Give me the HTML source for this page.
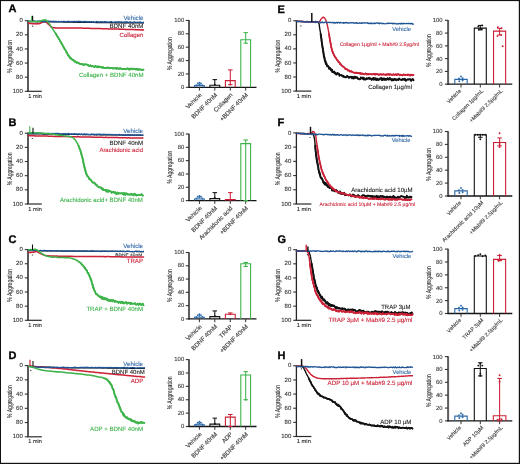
<!DOCTYPE html>
<html><head><meta charset="utf-8"><style>
html,body{margin:0;padding:0;background:#fff;width:520px;height:464px;overflow:hidden}
svg{display:block;will-change:transform}
text{font-family:"Liberation Sans",sans-serif;stroke-width:0.1px;paint-order:stroke;text-rendering:geometricPrecision}
</style></head><body>
<svg width="520" height="464" viewBox="0 0 520 464">
<rect width="520" height="464" fill="#fff"/>
<text x="8.40" y="12.40" font-size="11.0" fill="#000" stroke="#000" style="stroke-width:0.3px" font-weight="bold">A</text>
<line x1="28.00" y1="20.20" x2="28.00" y2="91.30" stroke="#5a5a5a" stroke-width="2.00"/>
<line x1="24.80" y1="20.70" x2="28.00" y2="20.70" stroke="#333" stroke-width="1.10"/>
<text x="22.80" y="22.30" font-size="6.00" fill="#333" stroke="#333" text-anchor="end" font-weight="normal" >0</text>
<line x1="24.80" y1="34.82" x2="28.00" y2="34.82" stroke="#333" stroke-width="1.10"/>
<text x="22.80" y="36.42" font-size="6.00" fill="#333" stroke="#333" text-anchor="end" font-weight="normal" >20</text>
<line x1="24.80" y1="48.94" x2="28.00" y2="48.94" stroke="#333" stroke-width="1.10"/>
<text x="22.80" y="50.54" font-size="6.00" fill="#333" stroke="#333" text-anchor="end" font-weight="normal" >40</text>
<line x1="24.80" y1="63.06" x2="28.00" y2="63.06" stroke="#333" stroke-width="1.10"/>
<text x="22.80" y="64.66" font-size="6.00" fill="#333" stroke="#333" text-anchor="end" font-weight="normal" >60</text>
<line x1="24.80" y1="77.18" x2="28.00" y2="77.18" stroke="#333" stroke-width="1.10"/>
<text x="22.80" y="78.78" font-size="6.00" fill="#333" stroke="#333" text-anchor="end" font-weight="normal" >80</text>
<line x1="24.80" y1="91.30" x2="28.00" y2="91.30" stroke="#333" stroke-width="1.10"/>
<text x="22.80" y="92.90" font-size="6.00" fill="#333" stroke="#333" text-anchor="end" font-weight="normal" >100</text>
<line x1="27.30" y1="91.30" x2="41.80" y2="91.30" stroke="#2a2a2a" stroke-width="1.20"/>
<text x="28.30" y="97.90" font-size="5.60" fill="#222" stroke="#222" text-anchor="start" font-weight="normal" textLength="13.50" lengthAdjust="spacingAndGlyphs" >1 min</text>
<text transform="translate(12.10 56.30) rotate(-90)" font-size="7.00" fill="#222" stroke="#222" text-anchor="middle" textLength="32.80" lengthAdjust="spacingAndGlyphs">% Aggregation</text>
<path d="M28.5 21.6 L29.1 21.6 L29.9 21.6 L30.7 21.6 L31.5 21.7 L32.5 21.6 L33.4 21.6 L34.5 21.7 L35.6 21.7 L36.2 21.7 L36.7 21.8 L37.3 21.7 L37.9 21.8 L38.6 21.7 L39.2 21.7 L39.8 21.7 L40.4 21.8 L41.1 21.8 L41.8 21.8 L42.4 21.8 L43.1 21.8 L43.8 21.7 L44.4 21.8 L45.1 21.8 L45.8 21.8 L46.5 21.8 L47.2 21.9 L47.9 21.8 L48.6 21.9 L49.4 21.9 L50.1 21.9 L50.8 21.9 L51.5 21.9 L52.2 21.9 L52.9 21.9 L53.7 22.0 L54.4 22.0 L55.1 21.9 L55.8 21.9 L56.5 21.9 L57.2 22.0 L57.9 22.0 L58.6 22.0 L59.3 22.0 L60.0 22.0 L61.1 22.0 L61.6 22.0 L62.2 22.0 L62.7 22.0 L63.3 22.1 L63.9 22.1 L64.4 22.1 L65.0 22.1 L65.6 22.1 L66.1 22.1 L66.7 22.1 L67.3 22.2 L67.9 22.2 L68.4 22.2 L69.0 22.1 L69.6 22.2 L70.2 22.1 L70.8 22.2 L71.4 22.2 L72.0 22.2 L72.6 22.1 L73.2 22.2 L73.8 22.3 L74.4 22.2 L75.0 22.3 L75.6 22.2 L76.2 22.2 L76.8 22.2 L77.4 22.3 L78.0 22.3 L78.6 22.2 L79.3 22.3 L79.9 22.3 L80.5 22.3 L81.1 22.3 L81.7 22.4 L82.3 22.4 L83.0 22.4 L83.6 22.4 L84.2 22.4 L84.8 22.3 L85.5 22.4 L86.1 22.4 L86.7 22.4 L87.3 22.4 L88.0 22.4 L88.6 22.4 L89.2 22.4 L89.9 22.5 L90.5 22.5 L91.1 22.5 L91.8 22.5 L92.4 22.5 L93.0 22.5 L93.7 22.5 L94.3 22.5 L94.9 22.5 L95.6 22.6 L96.2 22.6 L96.8 22.6 L97.5 22.6 L98.1 22.6 L98.7 22.6 L99.4 22.6 L100.0 22.6 L100.6 22.7 L101.2 22.6 L101.8 22.6 L102.4 22.6 L103.0 22.6 L103.6 22.7 L104.3 22.6 L104.9 22.7 L105.6 22.7 L106.2 22.6 L106.9 22.7 L107.6 22.7 L108.2 22.7 L108.9 22.7 L109.6 22.7 L110.3 22.7 L111.0 22.7 L111.6 22.7 L112.3 22.8 L113.0 22.8 L113.7 22.7 L114.4 22.7 L115.1 22.8 L115.9 22.7 L116.6 22.8 L117.3 22.8 L118.0 22.8 L118.7 22.8 L119.4 22.8 L120.1 22.8 L120.8 22.8 L121.5 22.8 L122.2 22.8 L122.9 22.9 L123.6 22.8 L124.2 22.8 L124.9 22.9 L125.6 22.8 L126.3 22.8 L127.0 22.9 L127.6 22.9 L128.3 22.8 L128.9 22.9 L129.6 22.9 L130.2 22.9 L130.9 22.9 L131.5 22.9 L132.1 22.9 L132.7 22.9 L133.3 22.9 L133.9 23.0 L134.5 22.9 L135.0 22.9 L135.6 22.9 L136.7 22.9 L137.7 22.9 L138.7 23.0 L139.7 23.0 L140.6 22.9 L141.4 23.0 L142.2 23.0 L142.9 23.0 L143.5 23.0" fill="none" stroke="#111111" stroke-width="1.20" stroke-linejoin="round" stroke-linecap="round" opacity="1"/>
<path d="M28.5 22.5 L28.7 23.0 L29.3 23.2 L30.0 23.5 L30.9 23.6 L31.5 23.6 L32.2 23.7 L32.9 23.7 L33.6 23.7 L34.3 23.8 L35.1 23.8 L35.8 23.8 L36.6 23.9 L37.2 23.8 L37.9 23.8 L38.4 23.7 L39.0 23.7 L39.6 23.5 L40.2 23.3 L40.9 23.1 L41.5 22.7 L42.2 22.3 L42.7 22.0 L43.3 21.7 L43.9 21.5 L44.5 21.4 L45.1 21.6 L45.7 21.8 L46.2 22.1 L46.7 22.5 L47.2 23.0 L47.8 23.6 L48.3 24.1 L48.9 24.6 L49.5 25.1 L50.0 25.5 L50.3 26.0 L50.7 26.4 L51.3 27.2 L51.9 27.3 L52.5 27.4 L53.2 27.6 L53.8 27.7 L54.6 27.8 L55.4 27.9 L56.3 27.9 L57.3 27.9 L58.3 27.9 L58.9 28.0 L59.4 27.9 L60.0 28.0 L60.6 27.9 L61.2 27.9 L61.8 27.9 L62.5 28.0 L63.1 27.9 L63.8 28.0 L64.4 28.0 L65.1 28.0 L65.8 28.0 L66.5 27.9 L67.2 27.9 L68.0 28.0 L68.7 27.9 L69.5 27.9 L70.2 27.9 L71.0 27.9 L71.8 27.9 L72.6 28.0 L73.4 28.0 L74.2 27.9 L75.0 28.0 L76.0 28.0 L77.0 28.0 L78.1 28.0 L79.1 28.1 L79.7 28.1 L80.2 28.1 L80.8 28.1 L81.4 28.1 L81.9 28.1 L82.5 28.2 L83.1 28.2 L83.7 28.2 L84.3 28.2 L84.9 28.2 L85.5 28.2 L86.1 28.2 L86.7 28.3 L87.3 28.3 L88.0 28.3 L88.6 28.3 L89.2 28.3 L89.8 28.3 L90.5 28.4 L91.1 28.4 L91.7 28.4 L92.4 28.5 L93.0 28.5 L93.6 28.4 L94.3 28.5 L94.9 28.5 L95.6 28.5 L96.2 28.5 L96.9 28.6 L97.5 28.6 L98.1 28.6 L98.8 28.6 L99.4 28.6 L100.1 28.6 L100.7 28.6 L101.4 28.7 L102.0 28.7 L102.6 28.7 L103.3 28.7 L103.9 28.8 L104.5 28.8 L105.1 28.7 L105.8 28.8 L106.4 28.8 L107.0 28.8 L107.6 28.8 L108.2 28.9 L108.8 28.9 L109.4 28.9 L110.0 28.9 L110.6 28.9 L111.3 28.9 L112.0 29.0 L112.6 28.9 L113.3 29.0 L114.0 29.0 L114.7 29.0 L115.4 29.0 L116.1 29.0 L116.8 29.1 L117.5 29.1 L118.2 29.1 L118.9 29.2 L119.6 29.1 L120.3 29.2 L121.1 29.2 L121.8 29.3 L122.5 29.3 L123.2 29.3 L124.0 29.3 L124.7 29.3 L125.4 29.4 L126.1 29.4 L126.8 29.4 L127.5 29.4 L128.2 29.5 L128.9 29.5 L129.6 29.4 L130.3 29.5 L131.0 29.5 L131.7 29.6 L132.3 29.5 L133.0 29.5 L133.6 29.6 L134.2 29.6 L134.9 29.7 L135.5 29.6 L136.1 29.7 L136.7 29.7 L137.2 29.7 L137.8 29.7 L138.3 29.7 L139.4 29.8 L140.4 29.9 L141.3 29.8 L142.1 29.9 L142.8 29.8 L143.5 29.9" fill="none" stroke="#cc2036" stroke-width="1.50" stroke-linejoin="round" stroke-linecap="round" opacity="1"/>
<path d="M28.5 21.4 L29.1 21.4 L29.9 21.2 L30.7 21.2 L31.5 21.4 L32.5 21.6 L33.4 20.9 L34.5 20.9 L35.6 21.5 L36.2 21.6 L36.7 21.3 L37.3 21.2 L37.9 21.5 L38.6 21.0 L39.2 21.1 L39.8 21.0 L40.4 21.4 L41.1 21.2 L41.8 21.1 L42.4 21.5 L43.1 21.7 L43.8 21.2 L44.4 21.5 L45.1 21.3 L45.8 21.7 L46.5 21.4 L47.2 21.2 L47.9 21.1 L48.6 21.0 L49.4 21.4 L50.1 21.3 L50.8 21.1 L51.5 21.3 L52.2 21.3 L52.9 21.7 L53.7 21.1 L54.4 21.9 L55.1 21.4 L55.8 21.5 L56.5 21.4 L57.2 21.8 L57.9 21.8 L58.6 21.5 L59.3 21.5 L60.0 21.7 L61.1 21.8 L61.6 21.4 L62.2 21.7 L62.7 21.9 L63.3 21.5 L63.9 21.3 L64.4 21.3 L65.0 21.7 L65.6 21.7 L66.1 22.0 L66.7 21.9 L67.3 21.3 L67.9 21.3 L68.4 21.4 L69.0 21.3 L69.6 21.8 L70.2 21.9 L70.8 22.0 L71.4 21.4 L72.0 21.9 L72.6 21.5 L73.2 21.6 L73.8 21.8 L74.4 21.3 L75.0 21.3 L75.6 22.0 L76.2 21.5 L76.8 21.5 L77.4 21.7 L78.0 21.8 L78.6 21.2 L79.3 21.5 L79.9 21.6 L80.5 21.7 L81.1 21.4 L81.7 21.8 L82.3 22.1 L83.0 21.6 L83.6 21.8 L84.2 21.4 L84.8 21.5 L85.5 21.9 L86.1 21.4 L86.7 22.1 L87.3 22.1 L88.0 21.4 L88.6 22.2 L89.2 21.7 L89.9 22.0 L90.5 22.0 L91.1 21.6 L91.8 22.0 L92.4 22.0 L93.0 22.1 L93.7 21.6 L94.3 22.1 L94.9 22.3 L95.6 22.0 L96.2 21.9 L96.8 21.5 L97.5 21.9 L98.1 21.7 L98.7 22.1 L99.4 22.1 L100.0 22.0 L100.6 21.6 L101.2 22.0 L101.8 22.0 L102.4 21.6 L103.0 22.3 L103.6 22.1 L104.3 21.6 L104.9 22.3 L105.6 21.6 L106.2 21.8 L106.9 22.2 L107.6 22.1 L108.2 22.0 L108.9 22.1 L109.6 22.0 L110.3 21.8 L111.0 21.7 L111.6 21.6 L112.3 22.2 L113.0 22.3 L113.7 22.1 L114.4 22.3 L115.1 21.9 L115.9 21.9 L116.6 22.0 L117.3 22.4 L118.0 21.7 L118.7 22.1 L119.4 21.9 L120.1 22.4 L120.8 22.0 L121.5 22.0 L122.2 22.1 L122.9 22.2 L123.6 22.4 L124.2 22.0 L124.9 22.5 L125.6 21.8 L126.3 22.0 L127.0 21.8 L127.6 21.9 L128.3 22.5 L128.9 22.4 L129.6 22.0 L130.2 22.0 L130.9 22.2 L131.5 22.5 L132.1 22.6 L132.7 22.5 L133.3 22.4 L133.9 22.0 L134.5 22.2 L135.0 22.0 L135.6 22.3 L136.7 22.4 L137.7 22.1 L138.7 22.1 L139.7 22.6 L140.6 21.9 L141.4 22.6 L142.2 22.7 L142.9 22.8 L143.5 22.3" fill="none" stroke="#1f5494" stroke-width="1.35" stroke-linejoin="round" stroke-linecap="round" opacity="1"/>
<path d="M28.5 21.0 L29.1 21.1 L29.8 21.3 L30.3 21.4 L30.9 21.4 L31.4 21.4 L32.0 21.6 L33.0 21.5 L33.7 21.6 L34.3 21.6 L34.9 21.5 L35.6 21.6 L36.3 21.6 L37.0 21.6 L37.6 21.5 L38.3 21.5 L38.8 21.4 L39.4 21.4 L40.1 21.1 L40.8 21.0 L41.4 20.8 L42.0 20.5 L42.6 20.3 L43.2 20.1 L44.2 19.9 L44.8 19.8 L45.4 20.0 L45.9 20.2 L46.4 20.3 L46.8 20.8 L47.2 21.1 L47.6 21.5 L48.2 22.4 L48.6 22.9 L48.9 23.2 L49.3 23.9 L49.7 24.4 L50.0 24.8 L50.4 25.6 L50.8 26.1 L51.2 26.8 L51.6 27.4 L52.1 28.0 L52.5 28.6 L52.9 29.4 L53.2 29.9 L53.5 30.4 L53.8 30.7 L54.2 31.3 L54.5 31.8 L54.8 32.1 L55.2 32.7 L55.5 33.2 L55.9 33.8 L56.2 34.3 L56.6 35.1 L56.9 35.7 L57.3 36.2 L57.6 36.7 L58.0 37.4 L58.3 37.7 L58.6 38.4 L59.0 39.1 L59.3 39.4 L59.6 39.8 L59.9 40.9 L60.3 41.3 L60.6 41.6 L60.9 42.2 L61.2 43.0 L61.6 43.6 L61.9 43.8 L62.2 44.2 L62.5 45.0 L62.8 46.1 L63.1 46.0 L63.4 46.9 L63.7 47.2 L64.0 47.8 L64.3 48.2 L64.6 49.1 L64.9 49.3 L65.2 49.6 L65.6 50.4 L66.0 51.1 L66.3 52.1 L66.7 52.2 L67.0 52.8 L67.4 53.9 L67.7 54.4 L68.1 55.4 L68.5 55.1 L68.8 56.1 L69.2 56.6 L69.6 56.7 L70.1 58.3 L70.5 57.9 L71.0 58.1 L71.4 59.0 L71.9 59.1 L72.4 60.0 L72.9 60.0 L73.4 60.1 L73.9 60.3 L74.4 61.5 L74.9 61.2 L75.5 62.2 L76.1 62.1 L76.7 62.9 L77.3 62.4 L77.9 62.6 L78.9 63.0 L79.8 64.0 L80.8 64.0 L81.8 64.0 L82.4 63.8 L82.9 64.6 L83.5 65.1 L84.1 64.8 L84.7 64.2 L85.4 64.3 L86.1 64.5 L86.8 64.7 L87.4 64.7 L87.9 64.8 L88.5 65.6 L89.4 66.0 L90.4 65.3 L91.4 66.4 L92.5 66.0 L93.5 66.6 L94.1 66.8 L94.7 66.9 L95.2 65.9 L95.8 66.3 L96.4 66.7 L97.0 67.2 L97.6 66.3 L98.2 66.6 L98.8 67.3 L99.5 66.5 L100.1 66.9 L100.8 67.0 L101.5 67.4 L102.1 67.8 L102.8 67.0 L103.5 67.7 L104.3 67.8 L105.0 68.0 L105.7 67.7 L106.5 68.2 L107.2 67.6 L108.0 67.8 L108.8 67.6 L109.6 68.3 L110.6 68.1 L111.7 67.9 L112.3 67.8 L112.9 68.5 L113.5 68.4 L114.1 68.5 L114.7 68.2 L115.3 68.4 L116.0 68.0 L116.6 68.7 L117.3 67.9 L118.0 68.5 L118.7 68.9 L119.3 68.8 L120.0 68.1 L120.7 68.3 L121.4 69.1 L122.2 68.9 L122.9 69.2 L123.6 69.2 L124.3 68.7 L125.0 69.3 L125.7 69.2 L126.4 68.7 L127.2 68.8 L127.9 68.4 L128.6 68.9 L129.3 69.6 L130.0 68.6 L130.7 69.2 L131.4 68.6 L132.0 68.6 L132.7 69.3 L133.4 68.9 L134.0 68.7 L134.7 68.8 L135.3 69.4 L135.9 69.4 L136.5 68.7 L137.1 69.0 L137.7 69.9 L138.2 69.0 L139.3 69.5 L140.3 69.4 L141.3 69.8 L142.1 69.7 L142.8 69.9 L143.5 69.6" fill="none" stroke="#3db34a" stroke-width="1.50" stroke-linejoin="round" stroke-linecap="round" opacity="1"/>
<path d="M55.5 33.2 L55.9 33.8 L56.2 34.3 L56.6 35.1 L56.9 35.7 L57.3 36.2 L57.6 36.7 L58.0 37.4 L58.3 37.7 L58.6 38.4 L59.0 39.1 L59.3 39.4 L59.6 39.8 L59.9 40.9 L60.3 41.3 L60.6 41.6 L60.9 42.2 L61.2 43.0 L61.6 43.6 L61.9 43.8 L62.2 44.2 L62.5 45.0 L62.8 46.1 L63.1 46.0 L63.4 46.9 L63.7 47.2 L64.0 47.8 L64.3 48.2 L64.6 49.1 L64.9 49.3 L65.2 49.6 L65.6 50.4 L66.0 51.1 L66.3 52.1 L66.7 52.2 L67.0 52.8 L67.4 53.9 L67.7 54.4 L68.1 55.4 L68.5 55.1 L68.8 56.1 L69.2 56.6 L69.6 56.7 L70.1 58.3 L70.5 57.9 L71.0 58.1 L71.4 59.0 L71.9 59.1 L72.4 60.0 L72.9 60.0 L73.4 60.1 L73.9 60.3 L74.4 61.5 L74.9 61.2 L75.5 62.2 L76.1 62.1 L76.7 62.9 L77.3 62.4 L77.9 62.6 L78.9 63.0 L79.8 64.0 L80.8 64.0 L81.8 64.0 L82.4 63.8 L82.9 64.6 L83.5 65.1 L84.1 64.8 L84.7 64.2 L85.4 64.3 L86.1 64.5 L86.8 64.7 L87.4 64.7 L87.9 64.8 L88.5 65.6 L89.4 66.0 L90.4 65.3 L91.4 66.4 L92.5 66.0 L93.5 66.6 L94.1 66.8 L94.7 66.9 L95.2 65.9 L95.8 66.3 L96.4 66.7 L97.0 67.2 L97.6 66.3 L98.2 66.6 L98.8 67.3 L99.5 66.5 L100.1 66.9 L100.8 67.0 L101.5 67.4 L102.1 67.8 L102.8 67.0 L103.5 67.7 L104.3 67.8 L105.0 68.0 L105.7 67.7 L106.5 68.2 L107.2 67.6 L108.0 67.8 L108.8 67.6 L109.6 68.3 L110.6 68.1 L111.7 67.9 L112.3 67.8 L112.9 68.5 L113.5 68.4 L114.1 68.5 L114.7 68.2 L115.3 68.4 L116.0 68.0 L116.6 68.7 L117.3 67.9 L118.0 68.5 L118.7 68.9 L119.3 68.8 L120.0 68.1 L120.7 68.3 L121.4 69.1 L122.2 68.9 L122.9 69.2 L123.6 69.2 L124.3 68.7 L125.0 69.3 L125.7 69.2 L126.4 68.7 L127.2 68.8 L127.9 68.4 L128.6 68.9 L129.3 69.6 L130.0 68.6 L130.7 69.2 L131.4 68.6 L132.0 68.6 L132.7 69.3 L133.4 68.9 L134.0 68.7 L134.7 68.8 L135.3 69.4 L135.9 69.4 L136.5 68.7 L137.1 69.0 L137.7 69.9 L138.2 69.0 L139.3 69.5 L140.3 69.4 L141.3 69.8 L142.1 69.7 L142.8 69.9 L143.5 69.6" fill="none" stroke="#3db34a" stroke-width="1.80" stroke-linejoin="round" stroke-linecap="round" opacity="1"/>
<line x1="31.70" y1="21.00" x2="31.70" y2="15.80" stroke="#3db34a" stroke-width="1.00"/>
<line x1="32.60" y1="20.70" x2="32.60" y2="15.80" stroke="#111111" stroke-width="1.20"/>
<text x="143.50" y="20.30" font-size="6.20" fill="#2f67a6" stroke="#2f67a6" text-anchor="end" font-weight="normal" >Vehicle</text>
<text x="143.50" y="27.80" font-size="6.20" fill="#222" stroke="#222" text-anchor="end" font-weight="normal" >BDNF 40nM</text>
<text x="143.50" y="36.70" font-size="6.10" fill="#cc2036" stroke="#cc2036" text-anchor="end" font-weight="normal" >Collagen</text>
<text x="143.50" y="77.10" font-size="6.10" fill="#3db34a" stroke="#3db34a" text-anchor="end" font-weight="normal" >Collagen + BDNF 40nM</text>
<line x1="189.00" y1="20.10" x2="189.00" y2="87.80" stroke="#5c5c5c" stroke-width="2.00"/>
<line x1="185.80" y1="87.30" x2="189.00" y2="87.30" stroke="#333" stroke-width="1.10"/>
<text x="184.20" y="88.90" font-size="5.90" fill="#333" stroke="#333" text-anchor="end" font-weight="normal" >0</text>
<line x1="185.80" y1="73.92" x2="189.00" y2="73.92" stroke="#333" stroke-width="1.10"/>
<text x="184.20" y="75.52" font-size="5.90" fill="#333" stroke="#333" text-anchor="end" font-weight="normal" >20</text>
<line x1="185.80" y1="60.54" x2="189.00" y2="60.54" stroke="#333" stroke-width="1.10"/>
<text x="184.20" y="62.14" font-size="5.90" fill="#333" stroke="#333" text-anchor="end" font-weight="normal" >40</text>
<line x1="185.80" y1="47.16" x2="189.00" y2="47.16" stroke="#333" stroke-width="1.10"/>
<text x="184.20" y="48.76" font-size="5.90" fill="#333" stroke="#333" text-anchor="end" font-weight="normal" >60</text>
<line x1="185.80" y1="33.78" x2="189.00" y2="33.78" stroke="#333" stroke-width="1.10"/>
<text x="184.20" y="35.38" font-size="5.90" fill="#333" stroke="#333" text-anchor="end" font-weight="normal" >80</text>
<line x1="185.80" y1="20.40" x2="189.00" y2="20.40" stroke="#333" stroke-width="1.10"/>
<text x="184.20" y="22.00" font-size="5.90" fill="#333" stroke="#333" text-anchor="end" font-weight="normal" >100</text>
<line x1="188.40" y1="87.30" x2="256.50" y2="87.30" stroke="#151515" stroke-width="1.30"/>
<line x1="199.40" y1="87.30" x2="199.40" y2="90.60" stroke="#333" stroke-width="1.00"/>
<line x1="214.80" y1="87.30" x2="214.80" y2="90.60" stroke="#333" stroke-width="1.00"/>
<line x1="230.30" y1="87.30" x2="230.30" y2="90.60" stroke="#333" stroke-width="1.00"/>
<line x1="245.70" y1="87.30" x2="245.70" y2="90.60" stroke="#333" stroke-width="1.00"/>
<text transform="translate(172.30 53.65) rotate(-90)" font-size="7.00" fill="#222" stroke="#222" text-anchor="middle" textLength="32.80" lengthAdjust="spacingAndGlyphs">% Aggregation</text>
<path d="M194.50 87.30 L194.50 85.63 L204.30 85.63 L204.30 87.30" fill="none" stroke="#2a69a8" stroke-width="1.10" stroke-linejoin="miter"/>
<circle cx="197.80" cy="83.49" r="0.95" fill="#2a69a8"/>
<circle cx="199.40" cy="82.62" r="0.95" fill="#2a69a8"/>
<circle cx="201.00" cy="83.49" r="0.95" fill="#2a69a8"/>
<circle cx="196.40" cy="85.23" r="0.95" fill="#2a69a8"/>
<circle cx="202.40" cy="85.23" r="0.95" fill="#2a69a8"/>
<circle cx="199.40" cy="84.29" r="0.95" fill="#2a69a8"/>
<path d="M209.90 87.30 L209.90 85.29 L219.70 85.29 L219.70 87.30" fill="none" stroke="#111111" stroke-width="1.10" stroke-linejoin="miter"/>
<line x1="214.80" y1="85.29" x2="214.80" y2="79.61" stroke="#111111" stroke-width="1.05"/>
<line x1="212.55" y1="79.61" x2="217.05" y2="79.61" stroke="#111111" stroke-width="1.05"/>
<circle cx="214.80" cy="84.62" r="0.95" fill="#111111"/>
<path d="M225.40 87.30 L225.40 80.61 L235.20 80.61 L235.20 87.30" fill="none" stroke="#cc2036" stroke-width="1.10" stroke-linejoin="miter"/>
<line x1="230.30" y1="80.61" x2="230.30" y2="69.91" stroke="#cc2036" stroke-width="1.05"/>
<line x1="228.05" y1="69.91" x2="232.55" y2="69.91" stroke="#cc2036" stroke-width="1.05"/>
<line x1="230.30" y1="80.61" x2="230.30" y2="84.62" stroke="#cc2036" stroke-width="1.05"/>
<line x1="228.05" y1="84.62" x2="232.55" y2="84.62" stroke="#cc2036" stroke-width="1.05"/>
<circle cx="230.30" cy="84.62" r="0.95" fill="#cc2036"/>
<path d="M240.80 87.30 L240.80 39.80 L250.60 39.80 L250.60 87.30" fill="none" stroke="#3db34a" stroke-width="1.10" stroke-linejoin="miter"/>
<line x1="245.70" y1="39.80" x2="245.70" y2="32.64" stroke="#3db34a" stroke-width="1.05"/>
<line x1="243.45" y1="32.64" x2="247.95" y2="32.64" stroke="#3db34a" stroke-width="1.05"/>
<line x1="245.70" y1="39.80" x2="245.70" y2="43.15" stroke="#3db34a" stroke-width="1.05"/>
<line x1="243.45" y1="43.15" x2="247.95" y2="43.15" stroke="#3db34a" stroke-width="1.05"/>
<text transform="translate(202.10 95.40) rotate(-45)" font-size="6.10" fill="#333" stroke="#333" text-anchor="end">Vehicle</text>
<text transform="translate(217.50 95.40) rotate(-45)" font-size="6.10" fill="#333" stroke="#333" text-anchor="end">BDNF 40nM</text>
<text transform="translate(233.00 95.40) rotate(-45)" font-size="6.10" fill="#333" stroke="#333" text-anchor="end">Collagen</text>
<text transform="translate(248.40 95.40) rotate(-45)" font-size="6.10" fill="#333" stroke="#333" text-anchor="end">+BDNF 40nM</text>
<text x="8.40" y="125.90" font-size="11.0" fill="#000" stroke="#000" style="stroke-width:0.3px" font-weight="bold">B</text>
<line x1="28.00" y1="132.70" x2="28.00" y2="204.00" stroke="#5a5a5a" stroke-width="2.00"/>
<line x1="24.80" y1="133.20" x2="28.00" y2="133.20" stroke="#333" stroke-width="1.10"/>
<text x="22.80" y="134.80" font-size="6.00" fill="#333" stroke="#333" text-anchor="end" font-weight="normal" >0</text>
<line x1="24.80" y1="147.36" x2="28.00" y2="147.36" stroke="#333" stroke-width="1.10"/>
<text x="22.80" y="148.96" font-size="6.00" fill="#333" stroke="#333" text-anchor="end" font-weight="normal" >20</text>
<line x1="24.80" y1="161.52" x2="28.00" y2="161.52" stroke="#333" stroke-width="1.10"/>
<text x="22.80" y="163.12" font-size="6.00" fill="#333" stroke="#333" text-anchor="end" font-weight="normal" >40</text>
<line x1="24.80" y1="175.68" x2="28.00" y2="175.68" stroke="#333" stroke-width="1.10"/>
<text x="22.80" y="177.28" font-size="6.00" fill="#333" stroke="#333" text-anchor="end" font-weight="normal" >60</text>
<line x1="24.80" y1="189.84" x2="28.00" y2="189.84" stroke="#333" stroke-width="1.10"/>
<text x="22.80" y="191.44" font-size="6.00" fill="#333" stroke="#333" text-anchor="end" font-weight="normal" >80</text>
<line x1="24.80" y1="204.00" x2="28.00" y2="204.00" stroke="#333" stroke-width="1.10"/>
<text x="22.80" y="205.60" font-size="6.00" fill="#333" stroke="#333" text-anchor="end" font-weight="normal" >100</text>
<line x1="27.30" y1="204.00" x2="41.80" y2="204.00" stroke="#2a2a2a" stroke-width="1.20"/>
<text x="28.30" y="210.60" font-size="5.60" fill="#222" stroke="#222" text-anchor="start" font-weight="normal" textLength="13.50" lengthAdjust="spacingAndGlyphs" >1 min</text>
<text transform="translate(12.10 168.90) rotate(-90)" font-size="7.00" fill="#222" stroke="#222" text-anchor="middle" textLength="32.80" lengthAdjust="spacingAndGlyphs">% Aggregation</text>
<path d="M28.5 133.8 L29.1 133.8 L29.9 133.8 L30.7 133.9 L31.5 133.8 L32.5 133.8 L33.4 133.9 L34.5 133.9 L35.0 134.0 L35.6 133.9 L36.2 133.9 L36.7 133.9 L37.3 134.0 L37.9 134.0 L38.6 134.0 L39.2 134.0 L39.8 134.0 L40.4 134.0 L41.1 134.0 L41.8 134.0 L42.4 134.0 L43.1 134.1 L43.8 134.1 L44.4 134.1 L45.1 134.0 L45.8 134.1 L46.5 134.1 L47.2 134.1 L47.9 134.1 L48.6 134.1 L49.4 134.1 L50.1 134.1 L50.8 134.2 L51.5 134.2 L52.2 134.2 L52.9 134.2 L53.7 134.2 L54.4 134.2 L55.1 134.2 L55.8 134.3 L56.5 134.2 L57.2 134.3 L57.9 134.2 L58.6 134.2 L59.3 134.3 L60.0 134.4 L61.1 134.3 L61.6 134.4 L62.2 134.4 L62.7 134.4 L63.3 134.4 L63.9 134.4 L64.4 134.4 L65.0 134.4 L65.6 134.4 L66.1 134.4 L66.7 134.4 L67.3 134.4 L67.9 134.4 L68.5 134.5 L69.0 134.5 L69.6 134.4 L70.2 134.5 L70.8 134.4 L71.4 134.4 L72.0 134.5 L72.6 134.4 L73.2 134.5 L73.8 134.5 L74.4 134.4 L75.0 134.5 L75.6 134.5 L76.2 134.5 L76.8 134.5 L77.4 134.6 L78.1 134.6 L78.7 134.5 L79.3 134.5 L79.9 134.5 L80.5 134.6 L81.1 134.5 L81.8 134.5 L82.4 134.6 L83.0 134.6 L83.6 134.7 L84.3 134.7 L84.9 134.7 L85.5 134.6 L86.1 134.6 L86.8 134.6 L87.4 134.6 L88.0 134.7 L88.7 134.7 L89.3 134.7 L89.9 134.7 L90.5 134.7 L91.2 134.7 L91.8 134.7 L92.4 134.7 L93.1 134.7 L93.7 134.7 L94.3 134.8 L95.0 134.7 L95.6 134.7 L96.2 134.8 L96.9 134.8 L97.5 134.7 L98.1 134.7 L98.7 134.7 L99.4 134.8 L100.0 134.8 L100.6 134.9 L101.2 134.8 L101.8 134.9 L102.4 134.8 L103.1 134.8 L103.7 134.8 L104.4 134.8 L105.0 134.8 L105.7 134.8 L106.4 134.9 L107.0 134.8 L107.7 134.9 L108.4 134.9 L109.1 134.9 L109.8 134.9 L110.5 134.9 L111.2 134.9 L111.9 134.9 L112.6 135.0 L113.3 135.0 L114.0 135.0 L114.7 135.0 L115.4 135.0 L116.2 134.9 L116.9 135.0 L117.6 135.0 L118.3 135.0 L119.0 135.1 L119.7 135.0 L120.4 135.0 L121.1 135.0 L121.8 135.0 L122.6 135.1 L123.3 135.1 L123.9 135.1 L124.6 135.1 L125.3 135.1 L126.0 135.2 L126.7 135.2 L127.4 135.1 L128.0 135.1 L128.7 135.1 L129.3 135.1 L130.0 135.1 L130.6 135.2 L131.3 135.2 L131.9 135.2 L132.5 135.2 L133.1 135.2 L133.7 135.2 L134.3 135.2 L134.8 135.2 L135.4 135.3 L136.0 135.2 L137.0 135.2 L138.0 135.2 L139.0 135.2 L139.9 135.3 L140.8 135.3 L141.5 135.3 L142.3 135.3 L142.9 135.2" fill="none" stroke="#111111" stroke-width="1.20" stroke-linejoin="round" stroke-linecap="round" opacity="1"/>
<path d="M28.5 135.6 L29.1 135.6 L29.7 135.7 L30.4 135.7 L31.3 135.7 L32.3 135.8 L33.0 135.7 L33.6 135.8 L34.2 135.8 L34.7 135.9 L35.3 135.9 L36.0 135.9 L36.7 135.9 L37.4 135.9 L38.1 136.0 L38.7 135.9 L39.4 136.0 L40.0 136.0 L40.8 136.0 L41.6 136.0 L42.5 136.1 L43.4 136.1 L44.3 136.1 L45.2 136.1 L46.2 136.1 L47.2 136.1 L48.2 136.2 L49.3 136.3 L50.4 136.2 L50.9 136.2 L51.5 136.2 L52.1 136.2 L52.6 136.3 L53.2 136.3 L53.8 136.4 L54.4 136.4 L55.0 136.4 L55.6 136.3 L56.2 136.4 L56.8 136.5 L57.4 136.4 L58.0 136.4 L58.7 136.4 L59.3 136.4 L59.9 136.5 L60.6 136.4 L61.2 136.5 L61.9 136.6 L62.6 136.5 L63.2 136.6 L63.9 136.5 L64.6 136.6 L65.3 136.6 L66.0 136.6 L66.7 136.6 L67.4 136.6 L68.1 136.7 L68.8 136.6 L69.5 136.6 L70.2 136.7 L70.9 136.8 L71.7 136.7 L72.4 136.8 L73.2 136.8 L73.9 136.8 L74.6 136.7 L75.4 136.8 L76.2 136.9 L76.9 136.8 L77.7 136.8 L78.4 136.8 L79.2 136.8 L80.0 136.9 L81.0 137.0 L82.1 136.9 L83.1 136.9 L83.7 137.0 L84.3 137.0 L84.8 137.1 L85.4 137.0 L86.0 137.0 L86.6 137.1 L87.2 137.0 L87.8 137.1 L88.4 137.0 L89.0 137.0 L89.7 137.1 L90.3 137.1 L91.0 137.2 L91.6 137.1 L92.3 137.1 L92.9 137.2 L93.6 137.2 L94.2 137.2 L94.9 137.2 L95.6 137.2 L96.3 137.2 L97.0 137.3 L97.6 137.3 L98.3 137.2 L99.0 137.3 L99.7 137.3 L100.4 137.3 L101.1 137.3 L101.8 137.3 L102.5 137.3 L103.3 137.4 L104.0 137.4 L104.7 137.4 L105.4 137.3 L106.1 137.3 L106.8 137.5 L107.5 137.5 L108.2 137.5 L109.0 137.5 L109.7 137.5 L110.4 137.5 L111.1 137.5 L111.8 137.5 L112.5 137.5 L113.2 137.5 L114.0 137.6 L114.7 137.5 L115.4 137.6 L116.1 137.6 L116.8 137.6 L117.5 137.6 L118.2 137.6 L118.8 137.7 L119.5 137.7 L120.2 137.7 L120.9 137.7 L121.6 137.7 L122.2 137.8 L122.9 137.7 L123.6 137.7 L124.2 137.7 L124.9 137.8 L125.5 137.8 L126.2 137.8 L126.8 137.8 L127.4 137.9 L128.1 137.8 L128.7 137.8 L129.3 137.8 L129.9 137.9 L130.5 137.9 L131.1 137.9 L131.6 137.9 L132.2 137.9 L132.8 137.9 L133.3 137.9 L134.4 138.0 L135.5 138.0 L136.5 137.9 L137.4 138.0 L138.3 138.0 L139.2 138.1 L140.1 138.0 L140.8 138.0 L141.6 138.1 L142.3 138.1 L142.9 138.1" fill="none" stroke="#cc2036" stroke-width="1.50" stroke-linejoin="round" stroke-linecap="round" opacity="1"/>
<path d="M28.5 133.6 L29.1 133.5 L29.9 133.2 L30.7 133.2 L31.5 133.4 L32.5 133.3 L33.4 133.3 L34.5 133.5 L35.6 133.7 L36.2 133.5 L36.7 133.1 L37.3 133.2 L37.9 133.3 L38.6 133.6 L39.2 133.1 L39.8 133.1 L40.4 133.3 L41.1 133.3 L41.8 133.1 L42.4 133.6 L43.1 133.9 L43.8 133.6 L44.4 133.8 L45.1 133.9 L45.8 133.9 L46.5 134.0 L47.2 133.5 L47.9 133.8 L48.6 133.3 L49.4 134.0 L50.1 133.5 L50.8 133.6 L51.5 134.0 L52.2 133.5 L52.9 133.4 L53.7 134.0 L54.4 133.8 L55.1 133.3 L55.8 133.3 L56.5 133.6 L57.2 133.3 L57.9 134.1 L58.6 133.5 L59.3 133.6 L60.0 133.7 L61.1 133.8 L61.6 133.8 L62.2 134.0 L62.7 134.0 L63.3 133.8 L63.9 133.5 L64.4 134.3 L65.0 134.1 L65.6 133.5 L66.1 133.9 L66.7 134.1 L67.3 134.4 L67.9 133.5 L68.5 133.5 L69.0 133.9 L69.6 133.9 L70.2 134.3 L70.8 134.3 L71.4 133.8 L72.0 133.9 L72.6 134.1 L73.2 134.4 L73.8 133.8 L74.4 134.0 L75.0 133.7 L75.6 134.2 L76.2 133.7 L76.8 134.5 L77.4 134.1 L78.1 134.2 L78.7 133.8 L79.3 133.9 L79.9 134.1 L80.5 134.5 L81.1 134.2 L81.8 134.0 L82.4 134.6 L83.0 134.3 L83.6 134.2 L84.3 134.0 L84.9 134.1 L85.5 134.6 L86.1 133.9 L86.8 134.3 L87.4 134.4 L88.0 134.2 L88.7 134.5 L89.3 134.7 L89.9 134.6 L90.5 134.6 L91.2 134.1 L91.8 134.0 L92.4 134.3 L93.1 134.2 L93.7 134.1 L94.3 134.7 L95.0 134.2 L95.6 134.7 L96.2 134.8 L96.9 134.1 L97.5 134.8 L98.1 134.4 L98.7 134.2 L99.4 134.2 L100.0 134.1 L100.6 134.5 L101.2 134.4 L101.8 134.8 L102.4 134.8 L103.1 134.2 L103.7 134.5 L104.4 134.5 L105.0 134.3 L105.7 134.4 L106.4 134.4 L107.0 134.8 L107.7 134.5 L108.4 134.3 L109.1 134.4 L109.8 134.6 L110.5 134.7 L111.2 134.5 L111.9 134.9 L112.6 134.5 L113.3 134.9 L114.0 134.8 L114.7 134.5 L115.4 135.0 L116.2 134.7 L116.9 134.8 L117.6 134.9 L118.3 134.9 L119.0 134.8 L119.7 134.4 L120.4 135.1 L121.1 135.2 L121.8 134.9 L122.6 134.9 L123.3 134.7 L123.9 135.3 L124.6 135.1 L125.3 134.7 L126.0 135.2 L126.7 135.4 L127.4 134.8 L128.0 135.4 L128.7 135.0 L129.3 134.7 L130.0 135.2 L130.6 134.9 L131.3 135.2 L131.9 135.1 L132.5 134.7 L133.1 135.1 L133.7 135.4 L134.3 135.0 L134.8 135.1 L135.4 135.4 L136.0 135.0 L137.0 135.1 L138.0 135.2 L139.0 135.4 L139.9 134.9 L140.8 134.8 L141.5 135.4 L142.3 135.2 L142.9 135.0" fill="none" stroke="#1f5494" stroke-width="1.35" stroke-linejoin="round" stroke-linecap="round" opacity="1"/>
<path d="M28.5 132.7 L29.4 132.7 L30.1 132.6 L30.8 132.8 L31.3 132.8 L31.9 132.7 L32.4 132.6 L33.0 132.5 L33.9 132.8 L34.9 132.9 L36.0 132.8 L36.5 132.8 L37.1 132.9 L37.7 132.8 L38.3 133.0 L39.0 133.0 L39.6 133.0 L40.3 132.9 L40.9 133.1 L41.6 133.1 L42.3 133.3 L43.0 133.1 L43.6 133.2 L44.3 133.2 L45.0 133.4 L45.6 133.5 L46.2 133.4 L46.8 133.4 L47.4 133.6 L48.0 133.6 L48.6 133.8 L49.3 133.7 L49.9 133.8 L50.6 134.0 L51.3 134.2 L51.9 134.3 L52.6 134.2 L53.2 134.3 L53.9 134.3 L54.6 134.4 L55.2 134.5 L55.9 134.8 L56.5 134.6 L57.1 135.0 L57.7 134.9 L58.3 135.0 L58.9 135.0 L59.4 135.3 L60.0 135.1 L60.8 135.3 L61.6 135.4 L62.3 135.4 L63.1 135.5 L63.8 135.8 L64.6 135.9 L65.3 135.9 L66.0 136.1 L66.6 135.9 L67.3 136.2 L67.9 136.3 L68.5 136.2 L69.0 136.4 L69.6 136.7 L70.6 136.7 L71.1 137.1 L71.6 137.1 L72.2 137.4 L72.7 137.6 L73.3 138.0 L73.7 138.3 L74.2 138.9 L74.6 139.4 L75.1 139.8 L75.4 140.3 L75.8 140.7 L76.1 141.3 L76.4 141.6 L76.8 142.3 L77.1 142.9 L77.4 143.4 L77.7 143.7 L78.0 144.4 L78.3 145.4 L78.6 145.7 L78.9 146.8 L79.1 147.2 L79.4 148.2 L79.6 148.7 L79.8 149.2 L80.1 149.5 L80.3 149.8 L80.5 151.0 L80.7 151.9 L80.9 152.8 L81.1 152.6 L81.3 153.2 L81.5 154.9 L81.7 155.3 L81.9 155.7 L82.0 156.6 L82.2 156.3 L82.3 157.5 L82.5 158.3 L82.6 158.8 L82.7 158.7 L82.8 159.2 L83.0 160.7 L83.1 161.8 L83.2 161.1 L83.3 161.4 L83.5 162.2 L83.6 164.0 L83.7 163.9 L83.8 164.6 L84.0 166.1 L84.2 166.5 L84.4 166.6 L84.6 168.1 L84.7 167.5 L84.9 168.7 L85.0 170.1 L85.2 169.7 L85.4 170.1 L85.6 171.6 L85.7 171.8 L85.9 173.5 L86.2 172.5 L86.4 174.3 L86.7 174.3 L87.0 175.7 L87.4 175.6 L87.7 176.6 L88.1 176.6 L88.4 177.0 L88.9 178.0 L89.3 179.2 L89.7 179.0 L90.2 179.3 L90.6 180.1 L91.1 180.0 L91.5 180.9 L92.0 181.8 L92.5 182.2 L93.0 182.7 L93.5 182.6 L94.1 182.6 L94.6 183.0 L95.2 184.0 L95.7 184.1 L96.3 185.2 L96.8 185.0 L97.3 186.3 L97.8 186.4 L98.4 186.8 L98.9 187.3 L99.5 187.3 L100.0 187.5 L100.6 187.6 L101.2 187.5 L101.7 189.1 L102.2 188.9 L102.8 188.5 L103.3 190.2 L103.8 189.8 L104.5 190.2 L105.1 190.1 L105.7 189.7 L106.3 191.5 L106.9 190.1 L107.5 190.6 L108.1 191.9 L108.7 190.4 L109.4 191.2 L110.0 191.4 L110.9 191.3 L111.7 192.8 L112.4 192.2 L113.5 191.8 L114.2 192.8 L115.0 192.1 L115.6 193.4 L116.2 193.8 L116.7 194.0 L117.3 192.5 L118.2 193.7 L119.1 193.1 L120.2 193.5 L120.8 193.3 L121.4 193.3 L122.0 193.1 L122.7 194.0 L123.4 193.1 L124.0 194.7 L124.7 193.1 L125.4 194.8 L126.1 193.5 L126.9 193.4 L127.6 194.6 L128.3 194.3 L129.1 194.7 L129.8 194.3 L130.6 194.6 L131.3 193.7 L132.0 194.8 L132.8 194.5 L133.5 195.4 L134.2 193.7 L134.9 193.9 L135.6 195.0 L136.3 195.5 L136.9 194.7 L137.5 195.2 L138.2 195.0 L138.8 194.7 L139.4 194.9 L140.4 195.2 L141.4 194.2 L142.2 194.8 L142.9 195.6" fill="none" stroke="#3db34a" stroke-width="1.50" stroke-linejoin="round" stroke-linecap="round" opacity="1"/>
<path d="M78.3 145.4 L78.6 145.7 L78.9 146.8 L79.1 147.2 L79.4 148.2 L79.6 148.7 L79.8 149.2 L80.1 149.5 L80.3 149.8 L80.5 151.0 L80.7 151.9 L80.9 152.8 L81.1 152.6 L81.3 153.2 L81.5 154.9 L81.7 155.3 L81.9 155.7 L82.0 156.6 L82.2 156.3 L82.3 157.5 L82.5 158.3 L82.6 158.8 L82.7 158.7 L82.8 159.2 L83.0 160.7 L83.1 161.8 L83.2 161.1 L83.3 161.4 L83.5 162.2 L83.6 164.0 L83.7 163.9 L83.8 164.6 L84.0 166.1 L84.2 166.5 L84.4 166.6 L84.6 168.1 L84.7 167.5 L84.9 168.7 L85.0 170.1 L85.2 169.7 L85.4 170.1 L85.6 171.6 L85.7 171.8 L85.9 173.5 L86.2 172.5 L86.4 174.3 L86.7 174.3 L87.0 175.7 L87.4 175.6 L87.7 176.6 L88.1 176.6 L88.4 177.0 L88.9 178.0 L89.3 179.2 L89.7 179.0 L90.2 179.3 L90.6 180.1 L91.1 180.0 L91.5 180.9 L92.0 181.8 L92.5 182.2 L93.0 182.7 L93.5 182.6 L94.1 182.6 L94.6 183.0 L95.2 184.0 L95.7 184.1 L96.3 185.2 L96.8 185.0 L97.3 186.3 L97.8 186.4 L98.4 186.8 L98.9 187.3 L99.5 187.3 L100.0 187.5 L100.6 187.6 L101.2 187.5 L101.7 189.1 L102.2 188.9 L102.8 188.5 L103.3 190.2 L103.8 189.8 L104.5 190.2 L105.1 190.1 L105.7 189.7 L106.3 191.5 L106.9 190.1 L107.5 190.6 L108.1 191.9 L108.7 190.4 L109.4 191.2 L110.0 191.4 L110.9 191.3 L111.7 192.8 L112.4 192.2 L113.5 191.8 L114.2 192.8 L115.0 192.1 L115.6 193.4 L116.2 193.8 L116.7 194.0 L117.3 192.5 L118.2 193.7 L119.1 193.1 L120.2 193.5 L120.8 193.3 L121.4 193.3 L122.0 193.1 L122.7 194.0 L123.4 193.1 L124.0 194.7 L124.7 193.1 L125.4 194.8 L126.1 193.5 L126.9 193.4 L127.6 194.6 L128.3 194.3 L129.1 194.7 L129.8 194.3 L130.6 194.6 L131.3 193.7 L132.0 194.8 L132.8 194.5 L133.5 195.4 L134.2 193.7 L134.9 193.9 L135.6 195.0 L136.3 195.5 L136.9 194.7 L137.5 195.2 L138.2 195.0 L138.8 194.7 L139.4 194.9 L140.4 195.2 L141.4 194.2 L142.2 194.8 L142.9 195.6" fill="none" stroke="#3db34a" stroke-width="1.80" stroke-linejoin="round" stroke-linecap="round" opacity="1"/>
<line x1="29.80" y1="133.20" x2="29.80" y2="126.20" stroke="#3db34a" stroke-width="1.10"/>
<line x1="33.00" y1="133.50" x2="33.00" y2="127.80" stroke="#111111" stroke-width="1.10"/>
<text x="143.00" y="132.80" font-size="6.10" fill="#2f67a6" stroke="#2f67a6" text-anchor="end" font-weight="normal" >Vehicle</text>
<text x="143.00" y="145.00" font-size="6.10" fill="#222" stroke="#222" text-anchor="end" font-weight="normal" >BDNF 40nM</text>
<text x="143.00" y="151.60" font-size="5.95" fill="#cc2036" stroke="#cc2036" text-anchor="end" font-weight="normal" >Arachidonic acid</text>
<text x="142.90" y="201.60" font-size="6.06" fill="#3db34a" stroke="#3db34a" text-anchor="end" font-weight="normal" >Arachidonic acid+ BDNF 40nM</text>
<line x1="189.00" y1="133.70" x2="189.00" y2="201.10" stroke="#5c5c5c" stroke-width="2.00"/>
<line x1="185.80" y1="200.60" x2="189.00" y2="200.60" stroke="#333" stroke-width="1.10"/>
<text x="184.20" y="202.20" font-size="5.90" fill="#333" stroke="#333" text-anchor="end" font-weight="normal" >0</text>
<line x1="185.80" y1="187.28" x2="189.00" y2="187.28" stroke="#333" stroke-width="1.10"/>
<text x="184.20" y="188.88" font-size="5.90" fill="#333" stroke="#333" text-anchor="end" font-weight="normal" >20</text>
<line x1="185.80" y1="173.96" x2="189.00" y2="173.96" stroke="#333" stroke-width="1.10"/>
<text x="184.20" y="175.56" font-size="5.90" fill="#333" stroke="#333" text-anchor="end" font-weight="normal" >40</text>
<line x1="185.80" y1="160.64" x2="189.00" y2="160.64" stroke="#333" stroke-width="1.10"/>
<text x="184.20" y="162.24" font-size="5.90" fill="#333" stroke="#333" text-anchor="end" font-weight="normal" >60</text>
<line x1="185.80" y1="147.32" x2="189.00" y2="147.32" stroke="#333" stroke-width="1.10"/>
<text x="184.20" y="148.92" font-size="5.90" fill="#333" stroke="#333" text-anchor="end" font-weight="normal" >80</text>
<line x1="185.80" y1="134.00" x2="189.00" y2="134.00" stroke="#333" stroke-width="1.10"/>
<text x="184.20" y="135.60" font-size="5.90" fill="#333" stroke="#333" text-anchor="end" font-weight="normal" >100</text>
<line x1="188.40" y1="200.60" x2="256.50" y2="200.60" stroke="#151515" stroke-width="1.30"/>
<line x1="199.40" y1="200.60" x2="199.40" y2="203.90" stroke="#333" stroke-width="1.00"/>
<line x1="214.80" y1="200.60" x2="214.80" y2="203.90" stroke="#333" stroke-width="1.00"/>
<line x1="230.30" y1="200.60" x2="230.30" y2="203.90" stroke="#333" stroke-width="1.00"/>
<line x1="245.70" y1="200.60" x2="245.70" y2="203.90" stroke="#333" stroke-width="1.00"/>
<text transform="translate(172.30 167.10) rotate(-90)" font-size="7.00" fill="#222" stroke="#222" text-anchor="middle" textLength="32.80" lengthAdjust="spacingAndGlyphs">% Aggregation</text>
<path d="M194.50 200.60 L194.50 198.94 L204.30 198.94 L204.30 200.60" fill="none" stroke="#2a69a8" stroke-width="1.10" stroke-linejoin="miter"/>
<circle cx="197.80" cy="196.80" r="0.95" fill="#2a69a8"/>
<circle cx="199.40" cy="195.94" r="0.95" fill="#2a69a8"/>
<circle cx="201.00" cy="196.80" r="0.95" fill="#2a69a8"/>
<circle cx="196.40" cy="198.54" r="0.95" fill="#2a69a8"/>
<circle cx="202.40" cy="198.54" r="0.95" fill="#2a69a8"/>
<circle cx="199.40" cy="197.60" r="0.95" fill="#2a69a8"/>
<path d="M209.90 200.60 L209.90 198.60 L219.70 198.60 L219.70 200.60" fill="none" stroke="#111111" stroke-width="1.10" stroke-linejoin="miter"/>
<line x1="214.80" y1="198.60" x2="214.80" y2="192.61" stroke="#111111" stroke-width="1.05"/>
<line x1="212.55" y1="192.61" x2="217.05" y2="192.61" stroke="#111111" stroke-width="1.05"/>
<circle cx="214.80" cy="197.94" r="0.95" fill="#111111"/>
<path d="M225.40 200.60 L225.40 199.60 L235.20 199.60 L235.20 200.60" fill="none" stroke="#cc2036" stroke-width="1.10" stroke-linejoin="miter"/>
<line x1="230.30" y1="199.60" x2="230.30" y2="192.61" stroke="#cc2036" stroke-width="1.05"/>
<line x1="228.05" y1="192.61" x2="232.55" y2="192.61" stroke="#cc2036" stroke-width="1.05"/>
<circle cx="230.30" cy="199.93" r="0.95" fill="#cc2036"/>
<path d="M240.80 200.60 L240.80 143.66 L250.60 143.66 L250.60 200.60" fill="none" stroke="#3db34a" stroke-width="1.10" stroke-linejoin="miter"/>
<line x1="245.70" y1="143.66" x2="245.70" y2="139.99" stroke="#3db34a" stroke-width="1.05"/>
<line x1="243.45" y1="139.99" x2="247.95" y2="139.99" stroke="#3db34a" stroke-width="1.05"/>
<line x1="245.70" y1="143.66" x2="245.70" y2="200.60" stroke="#3db34a" stroke-width="1.05"/>
<line x1="243.45" y1="200.60" x2="247.95" y2="200.60" stroke="#3db34a" stroke-width="1.05"/>
<circle cx="245.70" cy="200.60" r="0.95" fill="#3db34a"/>
<text transform="translate(202.10 208.70) rotate(-45)" font-size="6.10" fill="#333" stroke="#333" text-anchor="end">Vehicle</text>
<text transform="translate(217.50 208.70) rotate(-45)" font-size="6.10" fill="#333" stroke="#333" text-anchor="end">BDNF 40nM</text>
<text transform="translate(233.00 208.70) rotate(-45)" font-size="6.10" fill="#333" stroke="#333" text-anchor="end">Arachidonic acid</text>
<text transform="translate(248.40 208.70) rotate(-45)" font-size="6.10" fill="#333" stroke="#333" text-anchor="end">+BDNF 40nM</text>
<text x="8.40" y="242.60" font-size="11.0" fill="#000" stroke="#000" style="stroke-width:0.3px" font-weight="bold">C</text>
<line x1="28.00" y1="249.10" x2="28.00" y2="320.30" stroke="#5a5a5a" stroke-width="2.00"/>
<line x1="24.80" y1="249.60" x2="28.00" y2="249.60" stroke="#333" stroke-width="1.10"/>
<text x="22.80" y="251.20" font-size="6.00" fill="#333" stroke="#333" text-anchor="end" font-weight="normal" >0</text>
<line x1="24.80" y1="263.74" x2="28.00" y2="263.74" stroke="#333" stroke-width="1.10"/>
<text x="22.80" y="265.34" font-size="6.00" fill="#333" stroke="#333" text-anchor="end" font-weight="normal" >20</text>
<line x1="24.80" y1="277.88" x2="28.00" y2="277.88" stroke="#333" stroke-width="1.10"/>
<text x="22.80" y="279.48" font-size="6.00" fill="#333" stroke="#333" text-anchor="end" font-weight="normal" >40</text>
<line x1="24.80" y1="292.02" x2="28.00" y2="292.02" stroke="#333" stroke-width="1.10"/>
<text x="22.80" y="293.62" font-size="6.00" fill="#333" stroke="#333" text-anchor="end" font-weight="normal" >60</text>
<line x1="24.80" y1="306.16" x2="28.00" y2="306.16" stroke="#333" stroke-width="1.10"/>
<text x="22.80" y="307.76" font-size="6.00" fill="#333" stroke="#333" text-anchor="end" font-weight="normal" >80</text>
<line x1="24.80" y1="320.30" x2="28.00" y2="320.30" stroke="#333" stroke-width="1.10"/>
<text x="22.80" y="321.90" font-size="6.00" fill="#333" stroke="#333" text-anchor="end" font-weight="normal" >100</text>
<line x1="27.30" y1="320.30" x2="41.80" y2="320.30" stroke="#2a2a2a" stroke-width="1.20"/>
<text x="28.30" y="326.90" font-size="5.60" fill="#222" stroke="#222" text-anchor="start" font-weight="normal" textLength="13.50" lengthAdjust="spacingAndGlyphs" >1 min</text>
<text transform="translate(12.10 285.25) rotate(-90)" font-size="7.00" fill="#222" stroke="#222" text-anchor="middle" textLength="32.80" lengthAdjust="spacingAndGlyphs">% Aggregation</text>
<path d="M28.5 250.6 L29.1 250.6 L29.9 250.6 L30.7 250.6 L31.5 250.7 L32.5 250.7 L33.4 250.7 L34.5 250.7 L35.6 250.7 L36.2 250.7 L36.7 250.7 L37.3 250.7 L37.9 250.7 L38.6 250.8 L39.2 250.7 L39.8 250.7 L40.4 250.7 L41.1 250.7 L41.8 250.8 L42.4 250.8 L43.1 250.8 L43.8 250.8 L44.4 250.8 L45.1 250.8 L45.8 250.8 L46.5 250.9 L47.2 250.9 L47.9 250.8 L48.6 250.9 L49.4 250.9 L50.1 250.9 L50.8 250.9 L51.5 250.9 L52.2 250.9 L52.9 250.9 L53.7 251.0 L54.4 250.9 L55.1 251.0 L55.8 251.0 L56.5 250.9 L57.2 251.0 L57.9 251.0 L58.6 251.0 L59.3 251.0 L60.0 251.0 L61.1 251.0 L61.6 251.1 L62.2 251.0 L62.7 251.1 L63.3 251.1 L63.9 251.1 L64.4 251.1 L65.0 251.0 L65.6 251.1 L66.1 251.1 L66.7 251.0 L67.3 251.1 L67.9 251.1 L68.4 251.1 L69.0 251.1 L69.6 251.1 L70.2 251.1 L70.8 251.1 L71.4 251.1 L72.0 251.1 L72.6 251.1 L73.2 251.1 L73.8 251.1 L74.4 251.2 L75.0 251.1 L75.6 251.1 L76.2 251.2 L76.8 251.1 L77.4 251.1 L78.0 251.2 L78.6 251.1 L79.3 251.1 L79.9 251.2 L80.5 251.1 L81.1 251.1 L81.7 251.2 L82.3 251.1 L83.0 251.2 L83.6 251.2 L84.2 251.2 L84.8 251.2 L85.5 251.2 L86.1 251.2 L86.7 251.2 L87.3 251.2 L88.0 251.2 L88.6 251.3 L89.2 251.3 L89.9 251.3 L90.5 251.3 L91.1 251.2 L91.8 251.2 L92.4 251.2 L93.0 251.2 L93.7 251.3 L94.3 251.3 L94.9 251.3 L95.6 251.3 L96.2 251.2 L96.8 251.3 L97.5 251.2 L98.1 251.3 L98.7 251.3 L99.4 251.3 L100.0 251.4 L100.6 251.3 L101.2 251.4 L101.8 251.3 L102.4 251.3 L103.0 251.3 L103.6 251.4 L104.3 251.3 L104.9 251.3 L105.6 251.4 L106.2 251.4 L106.9 251.3 L107.6 251.3 L108.2 251.4 L108.9 251.3 L109.6 251.4 L110.3 251.4 L111.0 251.3 L111.6 251.4 L112.3 251.3 L113.0 251.4 L113.7 251.4 L114.4 251.4 L115.1 251.4 L115.9 251.4 L116.6 251.4 L117.3 251.5 L118.0 251.4 L118.7 251.5 L119.4 251.4 L120.1 251.4 L120.8 251.4 L121.5 251.5 L122.2 251.5 L122.9 251.4 L123.6 251.5 L124.2 251.5 L124.9 251.5 L125.6 251.5 L126.3 251.5 L127.0 251.4 L127.6 251.5 L128.3 251.5 L128.9 251.5 L129.6 251.5 L130.2 251.5 L130.9 251.5 L131.5 251.5 L132.1 251.6 L132.7 251.5 L133.3 251.6 L133.9 251.5 L134.5 251.6 L135.0 251.5 L135.6 251.5 L136.7 251.6 L137.7 251.6 L138.7 251.6 L139.7 251.6 L140.6 251.6 L141.4 251.5 L142.2 251.6 L142.9 251.5 L143.5 251.6" fill="none" stroke="#111111" stroke-width="1.20" stroke-linejoin="round" stroke-linecap="round" opacity="1"/>
<path d="M28.5 252.5 L29.1 252.5 L29.6 252.5 L30.4 252.4 L31.2 252.4 L31.8 252.3 L32.3 252.3 L32.9 252.2 L33.5 252.2 L34.2 252.1 L34.8 251.8 L35.3 251.7 L35.9 251.6 L36.5 251.6 L37.4 251.9 L38.0 252.2 L38.6 252.6 L39.2 252.8 L39.8 253.2 L40.5 253.6 L41.1 253.8 L41.7 254.2 L42.3 254.4 L42.9 254.7 L43.6 254.9 L44.2 255.1 L44.8 255.2 L45.4 255.4 L46.1 255.6 L46.8 255.7 L47.4 255.7 L48.0 255.8 L48.8 255.8 L49.5 256.0 L50.3 256.0 L51.0 256.0 L51.9 256.1 L52.9 256.0 L53.5 256.1 L54.1 256.1 L54.9 256.2 L55.7 256.1 L56.4 256.1 L57.0 256.1 L57.6 256.2 L58.2 256.2 L58.8 256.2 L59.4 256.2 L60.0 256.2 L60.8 256.2 L61.7 256.2 L62.6 256.3 L63.5 256.3 L64.5 256.2 L65.5 256.2 L66.6 256.3 L67.7 256.3 L68.2 256.3 L68.8 256.3 L69.4 256.4 L69.9 256.3 L70.5 256.3 L71.1 256.3 L71.7 256.3 L72.3 256.4 L73.0 256.3 L73.6 256.4 L74.2 256.4 L74.8 256.4 L75.5 256.4 L76.1 256.4 L76.7 256.4 L77.4 256.4 L78.0 256.4 L78.7 256.4 L79.3 256.4 L80.0 256.4 L80.7 256.5 L81.3 256.4 L82.0 256.5 L82.7 256.4 L83.3 256.4 L84.0 256.4 L84.7 256.5 L85.4 256.4 L86.0 256.4 L86.7 256.4 L87.4 256.5 L88.1 256.5 L88.8 256.4 L89.4 256.5 L90.1 256.5 L90.8 256.6 L91.5 256.5 L92.1 256.5 L92.8 256.5 L93.5 256.6 L94.1 256.6 L94.8 256.6 L95.5 256.5 L96.1 256.6 L96.8 256.6 L97.4 256.5 L98.1 256.6 L98.7 256.6 L99.4 256.6 L100.0 256.6 L100.6 256.6 L101.2 256.6 L101.8 256.7 L102.4 256.6 L103.0 256.6 L103.6 256.6 L104.3 256.7 L104.9 256.6 L105.6 256.7 L106.2 256.7 L106.9 256.6 L107.6 256.6 L108.2 256.6 L108.9 256.6 L109.6 256.7 L110.3 256.7 L111.0 256.7 L111.6 256.8 L112.3 256.8 L113.0 256.7 L113.7 256.8 L114.4 256.7 L115.1 256.8 L115.9 256.7 L116.6 256.8 L117.3 256.8 L118.0 256.8 L118.7 256.8 L119.4 256.8 L120.1 256.8 L120.8 256.8 L121.5 256.9 L122.2 256.8 L122.9 256.9 L123.6 256.9 L124.2 256.9 L124.9 256.9 L125.6 256.9 L126.3 257.0 L127.0 256.9 L127.6 256.9 L128.3 256.9 L128.9 256.9 L129.6 257.0 L130.2 256.9 L130.9 257.0 L131.5 256.9 L132.1 257.0 L132.7 257.0 L133.3 257.0 L133.9 257.0 L134.5 256.9 L135.0 257.0 L135.6 257.0 L136.7 257.0 L137.7 257.1 L138.7 257.1 L139.7 257.1 L140.6 257.1 L141.4 257.1 L142.2 257.1 L142.9 257.1 L143.5 257.1" fill="none" stroke="#cc2036" stroke-width="1.50" stroke-linejoin="round" stroke-linecap="round" opacity="1"/>
<path d="M28.5 250.4 L29.1 250.1 L29.9 250.1 L30.7 250.3 L31.5 250.1 L32.5 250.5 L33.4 250.0 L34.5 250.4 L35.0 250.4 L35.6 250.2 L36.2 250.4 L36.7 250.4 L37.3 250.7 L37.9 250.7 L38.6 250.5 L39.2 250.7 L39.8 250.7 L40.4 250.3 L41.1 250.7 L41.8 250.7 L42.4 250.8 L43.1 250.7 L43.8 250.5 L44.4 250.4 L45.1 250.7 L45.8 250.5 L46.5 250.8 L47.2 250.7 L47.9 250.9 L48.6 250.6 L49.4 250.6 L50.1 251.0 L50.8 250.8 L51.5 250.7 L52.2 250.8 L52.9 250.7 L53.7 250.9 L54.4 250.8 L55.1 250.7 L55.8 251.1 L56.5 251.1 L57.2 251.0 L57.9 250.7 L58.6 250.7 L59.3 251.0 L60.0 251.1 L61.1 251.0 L61.6 250.7 L62.2 251.1 L62.7 250.9 L63.3 250.9 L63.9 251.0 L64.4 250.9 L65.0 251.1 L65.6 251.1 L66.1 251.3 L66.7 250.7 L67.3 251.0 L67.9 251.3 L68.4 251.1 L69.0 251.0 L69.6 251.2 L70.2 250.7 L70.8 251.2 L71.4 251.1 L72.0 251.1 L72.6 250.9 L73.2 251.1 L73.8 250.8 L74.4 251.1 L75.0 250.9 L75.6 251.3 L76.2 251.2 L76.8 251.0 L77.4 251.2 L78.0 251.0 L78.6 251.1 L79.3 250.9 L79.9 251.3 L80.5 251.2 L81.1 251.2 L81.7 250.8 L82.3 251.3 L83.0 250.8 L83.6 251.1 L84.2 251.1 L84.8 250.8 L85.5 251.1 L86.1 251.3 L86.7 251.2 L87.3 251.0 L88.0 251.3 L88.6 251.0 L89.2 251.4 L89.9 251.1 L90.5 250.9 L91.1 251.4 L91.8 250.9 L92.4 251.0 L93.0 251.3 L93.7 250.9 L94.3 251.2 L94.9 251.4 L95.6 251.2 L96.2 251.1 L96.8 251.3 L97.5 251.4 L98.1 251.2 L98.7 251.3 L99.4 251.1 L100.0 251.1 L100.6 251.5 L101.2 251.5 L101.8 250.9 L102.4 251.0 L103.0 251.1 L103.6 251.4 L104.3 251.1 L104.9 251.0 L105.6 251.4 L106.2 251.0 L106.9 251.5 L107.6 251.2 L108.2 251.5 L108.9 251.5 L109.6 251.1 L110.3 251.4 L111.0 251.2 L111.6 251.1 L112.3 251.0 L113.0 251.4 L113.7 251.3 L114.4 251.2 L115.1 251.5 L115.9 251.1 L116.6 251.3 L117.3 251.1 L118.0 251.2 L118.7 251.6 L119.4 251.3 L120.1 251.1 L120.8 251.2 L121.5 251.4 L122.2 251.2 L122.9 251.6 L123.6 251.1 L124.2 251.6 L124.9 251.4 L125.6 251.6 L126.3 251.3 L127.0 251.1 L127.6 251.2 L128.3 251.5 L128.9 251.1 L129.6 251.2 L130.2 251.6 L130.9 251.6 L131.5 251.6 L132.1 251.6 L132.7 251.5 L133.3 251.7 L133.9 251.6 L134.5 251.5 L135.0 251.4 L135.6 251.2 L136.7 251.2 L137.7 251.3 L138.7 251.4 L139.7 251.2 L140.6 251.8 L141.4 251.5 L142.2 251.6 L142.9 251.7 L143.5 251.3" fill="none" stroke="#1f5494" stroke-width="1.30" stroke-linejoin="round" stroke-linecap="round" opacity="1"/>
<path d="M28.5 249.9 L29.2 249.9 L30.0 249.6 L30.6 249.5 L31.3 249.7 L32.0 249.7 L32.7 249.6 L33.4 249.4 L34.1 249.4 L34.9 249.1 L35.4 249.3 L36.0 249.5 L36.5 249.7 L37.0 249.7 L37.6 250.4 L38.2 250.4 L38.7 251.2 L39.3 251.4 L39.9 252.1 L40.5 252.6 L41.1 253.2 L41.7 253.4 L42.3 253.9 L42.8 254.1 L43.4 254.6 L43.8 254.6 L44.3 255.2 L44.8 255.4 L45.3 255.4 L45.9 256.0 L46.5 256.0 L47.2 256.1 L48.0 256.4 L49.0 256.5 L49.6 256.7 L50.2 256.9 L50.8 257.1 L51.5 257.0 L52.1 257.2 L52.8 257.2 L53.5 257.2 L54.2 257.1 L54.9 257.1 L55.6 257.1 L56.3 257.3 L57.0 257.2 L57.7 257.5 L58.3 257.4 L59.0 257.5 L59.6 257.5 L60.3 257.6 L61.0 257.4 L61.6 257.5 L62.3 257.6 L63.0 257.5 L63.7 257.6 L64.3 257.7 L65.0 257.5 L65.6 257.7 L66.3 257.6 L66.9 257.7 L67.5 257.6 L68.2 257.7 L68.8 257.8 L69.4 257.7 L70.0 257.9 L70.7 258.1 L71.4 258.2 L72.0 258.5 L72.7 258.8 L73.4 259.0 L74.0 259.3 L74.6 259.2 L75.3 259.7 L75.9 260.0 L76.5 260.5 L77.1 260.2 L77.6 260.6 L78.2 261.5 L78.7 261.4 L79.3 262.1 L79.8 262.4 L80.4 262.7 L80.9 263.2 L81.3 263.7 L81.8 264.6 L82.3 264.7 L82.7 265.5 L83.1 265.5 L83.6 266.4 L84.0 266.9 L84.4 267.6 L84.8 268.2 L85.1 267.8 L85.5 269.3 L85.8 269.4 L86.1 269.5 L86.5 270.2 L86.8 270.3 L87.1 271.0 L87.4 272.4 L87.7 272.7 L88.0 273.5 L88.3 272.9 L88.5 273.3 L88.8 274.3 L89.1 275.1 L89.4 276.1 L89.6 275.9 L89.9 277.3 L90.1 277.7 L90.3 277.7 L90.6 279.2 L90.8 278.5 L91.0 280.1 L91.2 279.9 L91.4 280.2 L91.6 281.7 L91.8 282.4 L92.0 283.2 L92.2 283.3 L92.4 285.0 L92.5 285.4 L92.7 284.8 L92.9 285.2 L93.0 287.6 L93.2 287.2 L93.4 287.2 L93.6 287.8 L93.8 289.4 L94.1 289.1 L94.4 290.2 L94.8 291.4 L95.1 291.5 L95.4 292.6 L95.8 293.8 L96.3 294.0 L96.7 294.2 L97.1 294.6 L97.5 294.5 L97.9 295.5 L98.4 295.9 L98.9 296.1 L99.3 296.3 L99.9 297.1 L100.4 296.4 L101.1 297.7 L101.7 298.5 L102.2 296.9 L102.7 297.6 L103.3 299.2 L103.9 297.7 L104.5 299.3 L105.1 299.1 L105.7 298.3 L106.4 299.6 L107.0 298.6 L107.7 300.4 L108.4 299.6 L109.1 301.0 L109.7 301.1 L110.4 299.8 L111.0 300.5 L111.6 300.1 L112.2 301.4 L112.8 300.2 L113.4 300.3 L114.0 300.5 L114.6 302.0 L115.2 301.0 L115.8 301.2 L116.4 301.5 L117.1 301.8 L117.7 301.7 L118.4 302.8 L119.1 301.7 L119.8 302.1 L120.5 302.9 L121.1 301.8 L121.7 301.7 L122.3 303.1 L123.0 302.2 L123.6 303.4 L124.3 303.3 L125.0 302.5 L125.6 302.5 L126.3 302.2 L127.0 303.7 L127.7 303.0 L128.4 302.9 L129.1 302.6 L129.7 302.8 L130.4 304.1 L131.0 302.8 L131.7 303.6 L132.3 303.8 L132.9 303.7 L133.5 303.7 L134.2 303.6 L135.0 303.2 L135.7 304.5 L136.4 304.7 L137.2 304.1 L137.9 303.6 L138.6 304.9 L139.3 303.6 L140.0 303.6 L140.6 304.5 L141.2 304.9 L141.8 304.4 L142.7 303.6 L143.5 305.3" fill="none" stroke="#3db34a" stroke-width="1.50" stroke-linejoin="round" stroke-linecap="round" opacity="1"/>
<path d="M79.3 262.1 L79.8 262.4 L80.4 262.7 L80.9 263.2 L81.3 263.7 L81.8 264.6 L82.3 264.7 L82.7 265.5 L83.1 265.5 L83.6 266.4 L84.0 266.9 L84.4 267.6 L84.8 268.2 L85.1 267.8 L85.5 269.3 L85.8 269.4 L86.1 269.5 L86.5 270.2 L86.8 270.3 L87.1 271.0 L87.4 272.4 L87.7 272.7 L88.0 273.5 L88.3 272.9 L88.5 273.3 L88.8 274.3 L89.1 275.1 L89.4 276.1 L89.6 275.9 L89.9 277.3 L90.1 277.7 L90.3 277.7 L90.6 279.2 L90.8 278.5 L91.0 280.1 L91.2 279.9 L91.4 280.2 L91.6 281.7 L91.8 282.4 L92.0 283.2 L92.2 283.3 L92.4 285.0 L92.5 285.4 L92.7 284.8 L92.9 285.2 L93.0 287.6 L93.2 287.2 L93.4 287.2 L93.6 287.8 L93.8 289.4 L94.1 289.1 L94.4 290.2 L94.8 291.4 L95.1 291.5 L95.4 292.6 L95.8 293.8 L96.3 294.0 L96.7 294.2 L97.1 294.6 L97.5 294.5 L97.9 295.5 L98.4 295.9 L98.9 296.1 L99.3 296.3 L99.9 297.1 L100.4 296.4 L101.1 297.7 L101.7 298.5 L102.2 296.9 L102.7 297.6 L103.3 299.2 L103.9 297.7 L104.5 299.3 L105.1 299.1 L105.7 298.3 L106.4 299.6 L107.0 298.6 L107.7 300.4 L108.4 299.6 L109.1 301.0 L109.7 301.1 L110.4 299.8 L111.0 300.5 L111.6 300.1 L112.2 301.4 L112.8 300.2 L113.4 300.3 L114.0 300.5 L114.6 302.0 L115.2 301.0 L115.8 301.2 L116.4 301.5 L117.1 301.8 L117.7 301.7 L118.4 302.8 L119.1 301.7 L119.8 302.1 L120.5 302.9 L121.1 301.8 L121.7 301.7 L122.3 303.1 L123.0 302.2 L123.6 303.4 L124.3 303.3 L125.0 302.5 L125.6 302.5 L126.3 302.2 L127.0 303.7 L127.7 303.0 L128.4 302.9 L129.1 302.6 L129.7 302.8 L130.4 304.1 L131.0 302.8 L131.7 303.6 L132.3 303.8 L132.9 303.7 L133.5 303.7 L134.2 303.6 L135.0 303.2 L135.7 304.5 L136.4 304.7 L137.2 304.1 L137.9 303.6 L138.6 304.9 L139.3 303.6 L140.0 303.6 L140.6 304.5 L141.2 304.9 L141.8 304.4 L142.7 303.6 L143.5 305.3" fill="none" stroke="#3db34a" stroke-width="1.80" stroke-linejoin="round" stroke-linecap="round" opacity="1"/>
<line x1="32.50" y1="250.00" x2="32.50" y2="244.50" stroke="#111111" stroke-width="1.10"/>
<text x="143.00" y="248.40" font-size="6.10" fill="#2f67a6" stroke="#2f67a6" text-anchor="end" font-weight="normal" >Vehicle</text>
<text transform="translate(142.20 255.60) scale(1 0.700)" font-size="4.90" fill="#222" stroke="#222" text-anchor="end">BDNF 40nM</text>
<text x="143.00" y="263.40" font-size="6.10" fill="#cc2036" stroke="#cc2036" text-anchor="end" font-weight="normal" >TRAP</text>
<text x="143.00" y="311.30" font-size="6.10" fill="#3db34a" stroke="#3db34a" text-anchor="end" font-weight="normal" >TRAP + BDNF 40nM</text>
<line x1="189.00" y1="252.20" x2="189.00" y2="319.40" stroke="#5c5c5c" stroke-width="2.00"/>
<line x1="185.80" y1="318.90" x2="189.00" y2="318.90" stroke="#333" stroke-width="1.10"/>
<text x="184.20" y="320.50" font-size="5.90" fill="#333" stroke="#333" text-anchor="end" font-weight="normal" >0</text>
<line x1="185.80" y1="305.62" x2="189.00" y2="305.62" stroke="#333" stroke-width="1.10"/>
<text x="184.20" y="307.22" font-size="5.90" fill="#333" stroke="#333" text-anchor="end" font-weight="normal" >20</text>
<line x1="185.80" y1="292.34" x2="189.00" y2="292.34" stroke="#333" stroke-width="1.10"/>
<text x="184.20" y="293.94" font-size="5.90" fill="#333" stroke="#333" text-anchor="end" font-weight="normal" >40</text>
<line x1="185.80" y1="279.06" x2="189.00" y2="279.06" stroke="#333" stroke-width="1.10"/>
<text x="184.20" y="280.66" font-size="5.90" fill="#333" stroke="#333" text-anchor="end" font-weight="normal" >60</text>
<line x1="185.80" y1="265.78" x2="189.00" y2="265.78" stroke="#333" stroke-width="1.10"/>
<text x="184.20" y="267.38" font-size="5.90" fill="#333" stroke="#333" text-anchor="end" font-weight="normal" >80</text>
<line x1="185.80" y1="252.50" x2="189.00" y2="252.50" stroke="#333" stroke-width="1.10"/>
<text x="184.20" y="254.10" font-size="5.90" fill="#333" stroke="#333" text-anchor="end" font-weight="normal" >100</text>
<line x1="188.40" y1="318.90" x2="256.50" y2="318.90" stroke="#151515" stroke-width="1.30"/>
<line x1="199.40" y1="318.90" x2="199.40" y2="322.20" stroke="#333" stroke-width="1.00"/>
<line x1="214.80" y1="318.90" x2="214.80" y2="322.20" stroke="#333" stroke-width="1.00"/>
<line x1="230.30" y1="318.90" x2="230.30" y2="322.20" stroke="#333" stroke-width="1.00"/>
<line x1="245.70" y1="318.90" x2="245.70" y2="322.20" stroke="#333" stroke-width="1.00"/>
<text transform="translate(172.30 285.50) rotate(-90)" font-size="7.00" fill="#222" stroke="#222" text-anchor="middle" textLength="32.80" lengthAdjust="spacingAndGlyphs">% Aggregation</text>
<path d="M194.50 318.90 L194.50 317.24 L204.30 317.24 L204.30 318.90" fill="none" stroke="#2a69a8" stroke-width="1.10" stroke-linejoin="miter"/>
<circle cx="197.80" cy="315.12" r="0.95" fill="#2a69a8"/>
<circle cx="199.40" cy="314.25" r="0.95" fill="#2a69a8"/>
<circle cx="201.00" cy="315.12" r="0.95" fill="#2a69a8"/>
<circle cx="196.40" cy="316.84" r="0.95" fill="#2a69a8"/>
<circle cx="202.40" cy="316.84" r="0.95" fill="#2a69a8"/>
<circle cx="199.40" cy="315.91" r="0.95" fill="#2a69a8"/>
<path d="M209.90 318.90 L209.90 316.58 L219.70 316.58 L219.70 318.90" fill="none" stroke="#111111" stroke-width="1.10" stroke-linejoin="miter"/>
<line x1="214.80" y1="316.58" x2="214.80" y2="310.93" stroke="#111111" stroke-width="1.05"/>
<line x1="212.55" y1="310.93" x2="217.05" y2="310.93" stroke="#111111" stroke-width="1.05"/>
<circle cx="214.80" cy="316.24" r="0.95" fill="#111111"/>
<path d="M225.40 318.90 L225.40 314.25 L235.20 314.25 L235.20 318.90" fill="none" stroke="#cc2036" stroke-width="1.10" stroke-linejoin="miter"/>
<line x1="230.30" y1="314.25" x2="230.30" y2="312.92" stroke="#cc2036" stroke-width="1.05"/>
<line x1="228.05" y1="312.92" x2="232.55" y2="312.92" stroke="#cc2036" stroke-width="1.05"/>
<circle cx="230.30" cy="314.25" r="0.95" fill="#cc2036"/>
<path d="M240.80 318.90 L240.80 263.79 L250.60 263.79 L250.60 318.90" fill="none" stroke="#3db34a" stroke-width="1.10" stroke-linejoin="miter"/>
<line x1="245.70" y1="263.79" x2="245.70" y2="262.46" stroke="#3db34a" stroke-width="1.05"/>
<line x1="243.45" y1="262.46" x2="247.95" y2="262.46" stroke="#3db34a" stroke-width="1.05"/>
<line x1="245.70" y1="263.79" x2="245.70" y2="266.44" stroke="#3db34a" stroke-width="1.05"/>
<line x1="243.45" y1="266.44" x2="247.95" y2="266.44" stroke="#3db34a" stroke-width="1.05"/>
<text transform="translate(202.10 327.00) rotate(-45)" font-size="6.10" fill="#333" stroke="#333" text-anchor="end">Vehicle</text>
<text transform="translate(217.50 327.00) rotate(-45)" font-size="6.10" fill="#333" stroke="#333" text-anchor="end">BDNF 40nM</text>
<text transform="translate(233.00 327.00) rotate(-45)" font-size="6.10" fill="#333" stroke="#333" text-anchor="end">TRAP</text>
<text transform="translate(248.40 327.00) rotate(-45)" font-size="6.10" fill="#333" stroke="#333" text-anchor="end">+BDNF 40nM</text>
<text x="8.40" y="359.10" font-size="11.0" fill="#000" stroke="#000" style="stroke-width:0.3px" font-weight="bold">D</text>
<line x1="28.00" y1="365.10" x2="28.00" y2="436.80" stroke="#5a5a5a" stroke-width="2.00"/>
<line x1="24.80" y1="365.60" x2="28.00" y2="365.60" stroke="#333" stroke-width="1.10"/>
<text x="22.80" y="367.20" font-size="6.00" fill="#333" stroke="#333" text-anchor="end" font-weight="normal" >0</text>
<line x1="24.80" y1="379.84" x2="28.00" y2="379.84" stroke="#333" stroke-width="1.10"/>
<text x="22.80" y="381.44" font-size="6.00" fill="#333" stroke="#333" text-anchor="end" font-weight="normal" >20</text>
<line x1="24.80" y1="394.08" x2="28.00" y2="394.08" stroke="#333" stroke-width="1.10"/>
<text x="22.80" y="395.68" font-size="6.00" fill="#333" stroke="#333" text-anchor="end" font-weight="normal" >40</text>
<line x1="24.80" y1="408.32" x2="28.00" y2="408.32" stroke="#333" stroke-width="1.10"/>
<text x="22.80" y="409.92" font-size="6.00" fill="#333" stroke="#333" text-anchor="end" font-weight="normal" >60</text>
<line x1="24.80" y1="422.56" x2="28.00" y2="422.56" stroke="#333" stroke-width="1.10"/>
<text x="22.80" y="424.16" font-size="6.00" fill="#333" stroke="#333" text-anchor="end" font-weight="normal" >80</text>
<line x1="24.80" y1="436.80" x2="28.00" y2="436.80" stroke="#333" stroke-width="1.10"/>
<text x="22.80" y="438.40" font-size="6.00" fill="#333" stroke="#333" text-anchor="end" font-weight="normal" >100</text>
<line x1="27.30" y1="436.80" x2="41.80" y2="436.80" stroke="#2a2a2a" stroke-width="1.20"/>
<text x="28.30" y="443.40" font-size="5.60" fill="#222" stroke="#222" text-anchor="start" font-weight="normal" textLength="13.50" lengthAdjust="spacingAndGlyphs" >1 min</text>
<text transform="translate(12.10 401.50) rotate(-90)" font-size="7.00" fill="#222" stroke="#222" text-anchor="middle" textLength="32.80" lengthAdjust="spacingAndGlyphs">% Aggregation</text>
<path d="M28.5 366.2 L29.1 366.2 L29.9 366.3 L30.7 366.3 L31.5 366.4 L32.5 366.3 L33.4 366.5 L34.5 366.5 L35.0 366.5 L35.6 366.6 L36.2 366.6 L36.7 366.6 L37.3 366.6 L37.9 366.7 L38.6 366.7 L39.2 366.7 L39.8 366.8 L40.4 366.8 L41.1 366.9 L41.8 366.9 L42.4 367.0 L43.1 367.0 L43.8 366.9 L44.4 367.0 L45.1 367.0 L45.8 367.1 L46.5 367.1 L47.2 367.1 L47.9 367.1 L48.6 367.2 L49.4 367.2 L50.1 367.2 L50.8 367.3 L51.5 367.3 L52.2 367.4 L52.9 367.4 L53.7 367.4 L54.4 367.4 L55.1 367.5 L55.8 367.4 L56.5 367.5 L57.2 367.5 L57.9 367.6 L58.6 367.5 L59.3 367.6 L60.0 367.6 L61.1 367.6 L61.6 367.6 L62.2 367.6 L62.7 367.7 L63.3 367.6 L63.9 367.7 L64.4 367.7 L65.0 367.8 L65.6 367.7 L66.1 367.7 L66.7 367.8 L67.3 367.8 L67.8 367.7 L68.4 367.8 L69.0 367.7 L69.6 367.7 L70.2 367.7 L70.8 367.8 L71.4 367.8 L71.9 367.8 L72.5 367.8 L73.1 367.8 L73.7 367.8 L74.3 367.8 L74.9 367.8 L75.5 367.8 L76.1 367.8 L76.7 367.8 L77.4 367.9 L78.0 367.9 L78.6 367.9 L79.2 367.8 L79.8 367.9 L80.4 367.9 L81.0 367.8 L81.7 367.8 L82.3 367.9 L82.9 367.9 L83.5 367.9 L84.1 367.9 L84.8 367.9 L85.4 367.9 L86.0 367.9 L86.6 367.9 L87.3 367.9 L87.9 367.9 L88.5 367.9 L89.2 368.0 L89.8 367.9 L90.4 367.9 L91.1 368.0 L91.7 368.0 L92.3 368.0 L93.0 367.9 L93.6 367.9 L94.2 368.0 L94.9 367.9 L95.5 367.9 L96.2 367.9 L96.8 367.9 L97.4 368.0 L98.1 368.0 L98.7 368.0 L99.4 368.0 L100.0 368.0 L100.6 368.0 L101.2 368.0 L101.8 368.1 L102.4 368.0 L103.0 368.0 L103.6 368.1 L104.2 368.1 L104.8 368.0 L105.5 368.0 L106.1 368.0 L106.8 368.1 L107.5 368.1 L108.1 368.0 L108.8 368.1 L109.5 368.1 L110.1 368.1 L110.8 368.1 L111.5 368.1 L112.2 368.2 L112.9 368.1 L113.6 368.1 L114.3 368.1 L115.0 368.1 L115.7 368.1 L116.4 368.2 L117.1 368.2 L117.8 368.2 L118.5 368.1 L119.2 368.1 L119.9 368.1 L120.6 368.2 L121.3 368.2 L122.0 368.1 L122.7 368.2 L123.4 368.2 L124.1 368.2 L124.7 368.3 L125.4 368.2 L126.1 368.2 L126.8 368.2 L127.5 368.2 L128.1 368.3 L128.8 368.2 L129.4 368.3 L130.1 368.3 L130.7 368.2 L131.3 368.3 L132.0 368.3 L132.6 368.3 L133.2 368.3 L133.8 368.3 L134.4 368.3 L135.0 368.3 L135.6 368.3 L136.1 368.3 L136.7 368.3 L137.8 368.3 L138.8 368.4 L139.8 368.3 L140.7 368.4 L141.6 368.4 L142.4 368.4 L143.2 368.4 L143.9 368.4 L144.5 368.4" fill="none" stroke="#111111" stroke-width="1.20" stroke-linejoin="round" stroke-linecap="round" opacity="1"/>
<path d="M28.5 366.0 L29.2 366.0 L29.9 366.2 L30.8 366.2 L31.7 366.3 L32.7 366.3 L33.8 366.5 L34.4 366.5 L34.9 366.5 L35.6 366.6 L36.2 366.6 L36.8 366.7 L37.4 366.7 L38.1 366.7 L38.7 366.8 L39.4 366.8 L40.1 366.9 L40.7 367.0 L41.4 367.0 L42.1 367.1 L42.8 367.1 L43.5 367.2 L44.2 367.2 L45.0 367.3 L45.7 367.3 L46.4 367.4 L47.1 367.4 L47.8 367.5 L48.5 367.5 L49.2 367.6 L49.9 367.6 L50.6 367.7 L51.3 367.7 L52.0 367.9 L52.7 367.9 L53.4 367.9 L54.0 368.0 L54.7 368.0 L55.3 368.1 L56.0 368.1 L56.6 368.2 L57.2 368.2 L57.8 368.3 L58.4 368.4 L58.9 368.4 L60.0 368.5 L60.7 368.6 L61.4 368.6 L62.1 368.7 L62.7 368.8 L63.4 368.9 L64.0 368.9 L64.7 369.0 L65.3 369.0 L65.9 369.1 L66.5 369.1 L67.1 369.2 L67.7 369.3 L68.2 369.4 L68.8 369.4 L69.4 369.5 L69.9 369.5 L70.5 369.6 L71.1 369.7 L71.6 369.7 L72.2 369.8 L72.7 369.9 L73.3 369.9 L73.8 370.0 L74.4 370.1 L74.9 370.2 L75.5 370.1 L76.1 370.3 L76.6 370.4 L77.2 370.4 L77.8 370.5 L78.4 370.5 L79.0 370.6 L79.6 370.7 L80.2 370.7 L80.8 370.7 L81.4 370.9 L82.1 371.0 L82.7 371.0 L83.3 371.0 L83.8 371.1 L84.4 371.2 L85.0 371.3 L85.6 371.3 L86.1 371.4 L86.7 371.5 L87.3 371.4 L87.9 371.5 L88.4 371.7 L89.0 371.7 L89.6 371.8 L90.2 371.8 L90.8 371.9 L91.4 371.9 L92.0 372.0 L92.6 372.0 L93.2 372.0 L93.8 372.1 L94.4 372.2 L95.0 372.3 L95.6 372.4 L96.2 372.4 L96.8 372.4 L97.5 372.5 L98.1 372.6 L98.7 372.7 L99.3 372.7 L100.0 372.9 L100.6 372.8 L101.3 372.9 L101.9 372.9 L102.6 373.1 L103.2 373.1 L103.9 373.2 L104.5 373.3 L105.2 373.3 L105.9 373.4 L106.6 373.4 L107.2 373.5 L107.9 373.6 L108.6 373.7 L109.3 373.7 L110.0 373.8 L110.6 373.8 L111.1 373.9 L111.7 374.0 L112.3 374.0 L112.9 374.1 L113.6 374.2 L114.2 374.2 L114.9 374.3 L115.5 374.4 L116.2 374.4 L116.9 374.5 L117.5 374.5 L118.2 374.7 L118.9 374.7 L119.6 374.7 L120.3 374.7 L121.1 374.8 L121.8 375.0 L122.5 375.1 L123.2 375.1 L123.9 375.1 L124.6 375.2 L125.4 375.2 L126.1 375.4 L126.8 375.5 L127.5 375.4 L128.2 375.6 L129.0 375.7 L129.7 375.7 L130.4 375.7 L131.1 375.8 L131.8 375.9 L132.4 376.0 L133.1 376.1 L133.8 376.1 L134.4 376.2 L135.1 376.3 L135.7 376.2 L136.3 376.4 L136.9 376.4 L137.5 376.4 L138.1 376.4 L138.7 376.6 L139.3 376.6 L140.3 376.6 L141.3 376.7 L142.2 376.9 L143.1 376.9 L143.8 377.1 L144.5 377.0" fill="none" stroke="#cc2036" stroke-width="1.50" stroke-linejoin="round" stroke-linecap="round" opacity="1"/>
<path d="M28.5 366.1 L29.0 366.1 L29.4 366.1 L29.7 366.6 L30.2 366.5 L30.9 366.7 L31.5 366.8 L32.1 366.8 L32.8 366.7 L33.4 367.2 L34.0 367.1 L34.6 367.0 L35.2 367.0 L35.9 367.1 L36.5 367.0 L37.1 366.9 L37.7 367.2 L38.3 367.4 L38.8 366.9 L39.4 367.5 L40.0 367.1 L40.7 367.5 L41.5 367.4 L42.3 367.1 L43.2 367.1 L44.1 367.5 L45.0 367.6 L46.0 367.5 L47.0 367.4 L48.1 367.3 L49.1 367.5 L49.7 367.5 L50.2 367.5 L50.8 367.2 L51.4 367.5 L52.0 367.6 L52.5 367.4 L53.1 367.1 L53.7 367.2 L54.3 367.5 L54.9 367.3 L55.5 367.6 L56.2 367.5 L56.8 367.5 L57.4 367.2 L58.0 367.4 L58.7 367.5 L59.3 367.7 L60.0 367.7 L60.6 367.3 L61.3 367.4 L61.9 367.7 L62.6 367.2 L63.2 367.2 L63.9 367.2 L64.6 367.6 L65.2 367.3 L65.9 367.6 L66.6 367.6 L67.3 367.6 L67.9 367.2 L68.6 367.6 L69.3 367.6 L70.0 367.6 L70.7 367.7 L71.4 367.7 L72.0 367.5 L72.7 367.7 L73.4 367.5 L74.1 367.2 L74.8 367.4 L75.5 367.7 L76.2 367.4 L76.8 367.5 L77.5 367.7 L78.2 367.6 L78.9 367.7 L79.6 367.5 L80.3 367.5 L80.9 367.3 L81.6 367.3 L82.3 367.3 L83.0 367.5 L83.6 367.5 L84.3 367.3 L85.0 367.6 L85.6 367.3 L86.3 367.5 L86.9 367.2 L87.6 367.5 L88.2 367.3 L88.9 367.8 L89.5 367.5 L90.1 367.7 L90.8 367.5 L91.4 367.4 L92.0 367.8 L92.6 367.4 L93.2 367.6 L93.8 367.6 L94.4 367.9 L95.0 367.7 L95.6 367.3 L96.2 367.6 L96.7 367.9 L97.3 367.8 L97.8 367.5 L98.9 367.4 L100.0 367.5 L100.7 367.8 L101.4 367.4 L102.1 367.8 L102.8 367.5 L103.6 367.7 L104.3 367.7 L105.0 367.5 L105.7 367.6 L106.4 367.7 L107.1 367.5 L107.9 367.7 L108.6 367.7 L109.3 367.9 L110.0 367.5 L110.7 367.5 L111.5 367.7 L112.2 367.7 L112.9 367.7 L113.6 367.9 L114.3 367.5 L115.0 367.7 L115.7 367.7 L116.5 367.5 L117.2 367.7 L117.9 367.7 L118.6 367.7 L119.3 367.9 L120.0 368.0 L120.6 368.0 L121.3 367.6 L122.0 367.7 L122.7 368.0 L123.4 367.5 L124.0 367.5 L124.7 367.5 L125.3 368.0 L126.0 367.8 L126.6 367.7 L127.3 367.5 L127.9 368.0 L128.6 368.1 L129.2 367.9 L129.8 368.0 L130.4 367.8 L131.0 367.7 L131.6 367.6 L132.2 367.7 L132.8 367.6 L133.3 367.7 L133.9 367.6 L134.5 367.6 L135.0 368.1 L136.1 368.1 L137.1 368.0 L138.1 367.8 L139.1 367.8 L140.0 367.9 L140.9 368.0 L141.7 367.8 L142.5 367.9 L143.2 367.9 L143.9 368.1 L144.5 367.8" fill="none" stroke="#1f5494" stroke-width="1.30" stroke-linejoin="round" stroke-linecap="round" opacity="1"/>
<path d="M28.5 365.8 L29.4 366.3 L30.1 366.7 L30.8 366.6 L31.3 367.0 L31.8 366.9 L32.4 367.2 L33.0 367.5 L33.6 367.5 L34.2 367.8 L35.1 368.1 L36.1 368.4 L37.1 368.9 L37.7 369.1 L38.2 369.0 L38.8 369.4 L39.4 369.6 L40.0 369.7 L40.6 369.8 L41.3 370.0 L42.0 370.2 L42.7 370.3 L43.5 370.3 L44.5 370.6 L45.5 370.8 L46.6 370.8 L47.6 371.1 L48.2 370.9 L48.8 371.1 L49.4 371.1 L49.9 371.2 L50.5 371.1 L51.2 371.3 L51.8 371.2 L52.4 371.4 L53.1 371.4 L53.7 371.5 L54.4 371.7 L55.1 371.8 L55.8 371.5 L56.5 371.9 L57.3 371.8 L58.0 371.9 L58.8 371.8 L59.6 372.1 L60.6 372.0 L61.7 372.1 L62.3 372.2 L62.8 372.2 L63.4 372.3 L64.0 372.3 L64.6 372.5 L65.3 372.5 L65.9 372.7 L66.5 372.8 L67.2 372.9 L67.8 372.7 L68.5 372.9 L69.1 373.0 L69.8 373.0 L70.4 373.0 L71.1 373.0 L71.8 373.2 L72.4 373.3 L73.1 373.2 L73.8 373.4 L74.4 373.2 L75.1 373.6 L75.7 373.7 L76.4 373.8 L77.0 373.5 L77.7 373.8 L78.3 373.9 L78.9 373.7 L79.5 373.9 L80.1 373.8 L80.7 373.9 L81.3 373.9 L81.9 374.1 L82.4 374.3 L83.0 374.3 L84.0 374.5 L85.0 374.7 L85.6 374.4 L86.2 374.8 L86.7 374.9 L87.5 374.9 L88.3 374.9 L89.1 374.9 L89.8 375.1 L90.5 375.2 L91.2 375.3 L91.9 375.6 L92.5 375.7 L93.1 375.6 L93.8 375.7 L94.3 375.9 L94.9 376.2 L95.4 376.3 L96.0 376.3 L97.0 376.7 L98.0 376.8 L99.0 376.9 L99.8 377.2 L100.6 377.3 L101.3 377.3 L102.0 377.3 L102.5 377.6 L103.1 378.0 L104.1 378.3 L105.1 378.4 L106.0 379.0 L106.6 379.1 L107.3 380.0 L107.8 380.3 L108.4 381.1 L108.8 381.8 L109.3 381.6 L109.8 383.1 L110.2 382.8 L110.5 384.2 L110.9 384.8 L111.2 384.4 L111.4 385.0 L111.7 385.4 L112.0 386.9 L112.2 387.3 L112.5 388.2 L112.8 388.6 L113.0 388.6 L113.2 389.8 L113.4 389.7 L113.6 390.2 L113.8 390.9 L113.9 392.0 L114.1 391.9 L114.3 393.0 L114.4 393.6 L114.6 394.7 L114.8 394.6 L115.0 395.2 L115.2 396.0 L115.4 396.4 L115.6 397.5 L115.9 396.9 L116.1 397.6 L116.3 397.9 L116.6 399.2 L116.8 400.7 L117.0 400.8 L117.3 401.4 L117.5 402.6 L117.8 402.9 L118.0 402.5 L118.2 403.0 L118.5 404.2 L118.7 404.2 L118.9 405.5 L119.1 405.1 L119.4 406.3 L119.6 407.5 L119.8 407.2 L120.1 407.6 L120.3 409.3 L120.5 408.8 L120.8 410.7 L121.1 410.7 L121.4 411.9 L121.7 411.8 L122.0 412.3 L122.4 412.4 L122.7 412.6 L123.1 414.8 L123.5 414.0 L123.9 414.2 L124.3 416.3 L124.8 416.0 L125.3 416.6 L125.8 417.7 L126.3 417.8 L126.9 417.3 L127.5 417.8 L128.1 418.9 L128.7 419.3 L129.3 418.8 L129.9 419.2 L130.4 420.0 L131.0 419.4 L131.5 421.1 L132.1 421.1 L132.7 420.4 L133.3 421.4 L133.9 421.6 L134.5 420.9 L135.1 421.7 L135.7 422.6 L136.3 422.2 L136.9 422.8 L137.6 422.0 L138.2 423.6 L138.9 423.1 L139.6 423.0 L140.4 422.0 L141.1 422.7 L141.8 422.1 L142.4 423.0 L143.0 422.6 L143.6 422.7 L144.4 422.9" fill="none" stroke="#3db34a" stroke-width="1.50" stroke-linejoin="round" stroke-linecap="round" opacity="1"/>
<path d="M104.1 378.3 L105.1 378.4 L106.0 379.0 L106.6 379.1 L107.3 380.0 L107.8 380.3 L108.4 381.1 L108.8 381.8 L109.3 381.6 L109.8 383.1 L110.2 382.8 L110.5 384.2 L110.9 384.8 L111.2 384.4 L111.4 385.0 L111.7 385.4 L112.0 386.9 L112.2 387.3 L112.5 388.2 L112.8 388.6 L113.0 388.6 L113.2 389.8 L113.4 389.7 L113.6 390.2 L113.8 390.9 L113.9 392.0 L114.1 391.9 L114.3 393.0 L114.4 393.6 L114.6 394.7 L114.8 394.6 L115.0 395.2 L115.2 396.0 L115.4 396.4 L115.6 397.5 L115.9 396.9 L116.1 397.6 L116.3 397.9 L116.6 399.2 L116.8 400.7 L117.0 400.8 L117.3 401.4 L117.5 402.6 L117.8 402.9 L118.0 402.5 L118.2 403.0 L118.5 404.2 L118.7 404.2 L118.9 405.5 L119.1 405.1 L119.4 406.3 L119.6 407.5 L119.8 407.2 L120.1 407.6 L120.3 409.3 L120.5 408.8 L120.8 410.7 L121.1 410.7 L121.4 411.9 L121.7 411.8 L122.0 412.3 L122.4 412.4 L122.7 412.6 L123.1 414.8 L123.5 414.0 L123.9 414.2 L124.3 416.3 L124.8 416.0 L125.3 416.6 L125.8 417.7 L126.3 417.8 L126.9 417.3 L127.5 417.8 L128.1 418.9 L128.7 419.3 L129.3 418.8 L129.9 419.2 L130.4 420.0 L131.0 419.4 L131.5 421.1 L132.1 421.1 L132.7 420.4 L133.3 421.4 L133.9 421.6 L134.5 420.9 L135.1 421.7 L135.7 422.6 L136.3 422.2 L136.9 422.8 L137.6 422.0 L138.2 423.6 L138.9 423.1 L139.6 423.0 L140.4 422.0 L141.1 422.7 L141.8 422.1 L142.4 423.0 L143.0 422.6 L143.6 422.7 L144.4 422.9" fill="none" stroke="#3db34a" stroke-width="1.80" stroke-linejoin="round" stroke-linecap="round" opacity="1"/>
<line x1="30.00" y1="366.00" x2="30.00" y2="359.80" stroke="#cc2036" stroke-width="1.20"/>
<line x1="33.00" y1="366.00" x2="33.00" y2="361.00" stroke="#111111" stroke-width="1.10"/>
<text x="143.00" y="366.20" font-size="6.10" fill="#2f67a6" stroke="#2f67a6" text-anchor="end" font-weight="normal" >Vehicle</text>
<text x="144.80" y="373.60" font-size="6.00" fill="#222" stroke="#222" text-anchor="end" font-weight="normal" >BDNF 40nM</text>
<text x="143.30" y="383.30" font-size="6.10" fill="#cc2036" stroke="#cc2036" text-anchor="end" font-weight="normal" >ADP</text>
<text x="143.00" y="431.30" font-size="6.10" fill="#3db34a" stroke="#3db34a" text-anchor="end" font-weight="normal" >ADP + BDNF 40nM</text>
<line x1="189.00" y1="359.30" x2="189.00" y2="427.00" stroke="#5c5c5c" stroke-width="2.00"/>
<line x1="185.80" y1="426.50" x2="189.00" y2="426.50" stroke="#333" stroke-width="1.10"/>
<text x="184.20" y="428.10" font-size="5.90" fill="#333" stroke="#333" text-anchor="end" font-weight="normal" >0</text>
<line x1="185.80" y1="413.12" x2="189.00" y2="413.12" stroke="#333" stroke-width="1.10"/>
<text x="184.20" y="414.72" font-size="5.90" fill="#333" stroke="#333" text-anchor="end" font-weight="normal" >20</text>
<line x1="185.80" y1="399.74" x2="189.00" y2="399.74" stroke="#333" stroke-width="1.10"/>
<text x="184.20" y="401.34" font-size="5.90" fill="#333" stroke="#333" text-anchor="end" font-weight="normal" >40</text>
<line x1="185.80" y1="386.36" x2="189.00" y2="386.36" stroke="#333" stroke-width="1.10"/>
<text x="184.20" y="387.96" font-size="5.90" fill="#333" stroke="#333" text-anchor="end" font-weight="normal" >60</text>
<line x1="185.80" y1="372.98" x2="189.00" y2="372.98" stroke="#333" stroke-width="1.10"/>
<text x="184.20" y="374.58" font-size="5.90" fill="#333" stroke="#333" text-anchor="end" font-weight="normal" >80</text>
<line x1="185.80" y1="359.60" x2="189.00" y2="359.60" stroke="#333" stroke-width="1.10"/>
<text x="184.20" y="361.20" font-size="5.90" fill="#333" stroke="#333" text-anchor="end" font-weight="normal" >100</text>
<line x1="188.40" y1="426.50" x2="256.50" y2="426.50" stroke="#151515" stroke-width="1.30"/>
<line x1="199.40" y1="426.50" x2="199.40" y2="429.80" stroke="#333" stroke-width="1.00"/>
<line x1="214.80" y1="426.50" x2="214.80" y2="429.80" stroke="#333" stroke-width="1.00"/>
<line x1="230.30" y1="426.50" x2="230.30" y2="429.80" stroke="#333" stroke-width="1.00"/>
<line x1="245.70" y1="426.50" x2="245.70" y2="429.80" stroke="#333" stroke-width="1.00"/>
<text transform="translate(172.30 392.85) rotate(-90)" font-size="7.00" fill="#222" stroke="#222" text-anchor="middle" textLength="32.80" lengthAdjust="spacingAndGlyphs">% Aggregation</text>
<path d="M194.50 426.50 L194.50 424.83 L204.30 424.83 L204.30 426.50" fill="none" stroke="#2a69a8" stroke-width="1.10" stroke-linejoin="miter"/>
<circle cx="197.80" cy="422.69" r="0.95" fill="#2a69a8"/>
<circle cx="199.40" cy="421.82" r="0.95" fill="#2a69a8"/>
<circle cx="201.00" cy="422.69" r="0.95" fill="#2a69a8"/>
<circle cx="196.40" cy="424.43" r="0.95" fill="#2a69a8"/>
<circle cx="202.40" cy="424.43" r="0.95" fill="#2a69a8"/>
<circle cx="199.40" cy="423.49" r="0.95" fill="#2a69a8"/>
<path d="M209.90 426.50 L209.90 424.16 L219.70 424.16 L219.70 426.50" fill="none" stroke="#111111" stroke-width="1.10" stroke-linejoin="miter"/>
<line x1="214.80" y1="424.16" x2="214.80" y2="418.14" stroke="#111111" stroke-width="1.05"/>
<line x1="212.55" y1="418.14" x2="217.05" y2="418.14" stroke="#111111" stroke-width="1.05"/>
<circle cx="214.80" cy="423.82" r="0.95" fill="#111111"/>
<path d="M225.40 426.50 L225.40 417.13 L235.20 417.13 L235.20 426.50" fill="none" stroke="#cc2036" stroke-width="1.10" stroke-linejoin="miter"/>
<line x1="230.30" y1="417.13" x2="230.30" y2="414.46" stroke="#cc2036" stroke-width="1.05"/>
<line x1="228.05" y1="414.46" x2="232.55" y2="414.46" stroke="#cc2036" stroke-width="1.05"/>
<line x1="230.30" y1="417.13" x2="230.30" y2="426.50" stroke="#cc2036" stroke-width="1.05"/>
<line x1="228.05" y1="426.50" x2="232.55" y2="426.50" stroke="#cc2036" stroke-width="1.05"/>
<circle cx="230.30" cy="426.50" r="0.95" fill="#cc2036"/>
<path d="M240.80 426.50 L240.80 374.99 L250.60 374.99 L250.60 426.50" fill="none" stroke="#3db34a" stroke-width="1.10" stroke-linejoin="miter"/>
<line x1="245.70" y1="374.99" x2="245.70" y2="371.64" stroke="#3db34a" stroke-width="1.05"/>
<line x1="243.45" y1="371.64" x2="247.95" y2="371.64" stroke="#3db34a" stroke-width="1.05"/>
<line x1="245.70" y1="374.99" x2="245.70" y2="399.74" stroke="#3db34a" stroke-width="1.05"/>
<line x1="243.45" y1="399.74" x2="247.95" y2="399.74" stroke="#3db34a" stroke-width="1.05"/>
<circle cx="245.70" cy="399.74" r="0.95" fill="#3db34a"/>
<text transform="translate(202.10 434.60) rotate(-45)" font-size="6.10" fill="#333" stroke="#333" text-anchor="end">Vehicle</text>
<text transform="translate(217.50 434.60) rotate(-45)" font-size="6.10" fill="#333" stroke="#333" text-anchor="end">BDNF 40nM</text>
<text transform="translate(233.00 434.60) rotate(-45)" font-size="6.10" fill="#333" stroke="#333" text-anchor="end">ADP</text>
<text transform="translate(248.40 434.60) rotate(-45)" font-size="6.10" fill="#333" stroke="#333" text-anchor="end">+BDNF 40nM</text>
<text x="277.60" y="13.00" font-size="11.0" fill="#000" stroke="#000" style="stroke-width:0.3px" font-weight="bold">E</text>
<line x1="296.40" y1="20.20" x2="296.40" y2="91.10" stroke="#262626" stroke-width="1.30"/>
<line x1="293.20" y1="20.70" x2="296.40" y2="20.70" stroke="#333" stroke-width="1.10"/>
<text x="291.30" y="22.30" font-size="6.00" fill="#333" stroke="#333" text-anchor="end" font-weight="normal" >0</text>
<line x1="293.20" y1="34.78" x2="296.40" y2="34.78" stroke="#333" stroke-width="1.10"/>
<text x="291.30" y="36.38" font-size="6.00" fill="#333" stroke="#333" text-anchor="end" font-weight="normal" >20</text>
<line x1="293.20" y1="48.86" x2="296.40" y2="48.86" stroke="#333" stroke-width="1.10"/>
<text x="291.30" y="50.46" font-size="6.00" fill="#333" stroke="#333" text-anchor="end" font-weight="normal" >40</text>
<line x1="293.20" y1="62.94" x2="296.40" y2="62.94" stroke="#333" stroke-width="1.10"/>
<text x="291.30" y="64.54" font-size="6.00" fill="#333" stroke="#333" text-anchor="end" font-weight="normal" >60</text>
<line x1="293.20" y1="77.02" x2="296.40" y2="77.02" stroke="#333" stroke-width="1.10"/>
<text x="291.30" y="78.62" font-size="6.00" fill="#333" stroke="#333" text-anchor="end" font-weight="normal" >80</text>
<line x1="293.20" y1="91.10" x2="296.40" y2="91.10" stroke="#333" stroke-width="1.10"/>
<text x="291.30" y="92.70" font-size="6.00" fill="#333" stroke="#333" text-anchor="end" font-weight="normal" >100</text>
<line x1="295.70" y1="91.10" x2="311.40" y2="91.10" stroke="#2a2a2a" stroke-width="1.20"/>
<text x="296.70" y="97.70" font-size="5.60" fill="#222" stroke="#222" text-anchor="start" font-weight="normal" textLength="14.20" lengthAdjust="spacingAndGlyphs" >1 min</text>
<text transform="translate(279.90 56.20) rotate(-90)" font-size="7.00" fill="#222" stroke="#222" text-anchor="middle" textLength="32.80" lengthAdjust="spacingAndGlyphs">% Aggregation</text>
<path d="M296.5 21.1 L297.2 21.2 L298.2 21.4 L298.8 21.2 L299.4 21.4 L300.0 21.6 L300.6 21.6 L301.3 21.7 L302.0 21.3 L302.8 21.6 L303.5 21.4 L304.2 21.8 L304.9 21.6 L305.6 21.7 L306.3 21.8 L307.0 21.5 L307.7 21.5 L308.3 21.9 L308.9 21.9 L310.0 21.8 L310.6 21.6 L311.2 21.6 L311.7 21.9 L312.5 21.9 L313.3 21.7 L314.0 21.8 L314.7 21.8 L315.4 21.4 L316.0 21.7 L317.1 22.0 L318.0 22.3 L318.4 22.8 L318.9 23.0 L319.0 23.8 L319.2 24.2 L319.3 25.3 L319.4 26.0 L319.4 26.5 L319.5 27.0 L319.6 27.6 L319.8 28.8 L319.9 29.6 L320.0 29.9 L320.1 30.8 L320.2 30.9 L320.3 31.6 L320.4 32.2 L320.5 32.9 L320.6 34.0 L320.7 34.2 L320.8 34.8 L320.9 35.8 L321.0 36.2 L321.1 37.3 L321.2 37.7 L321.3 38.5 L321.4 38.6 L321.5 39.2 L321.5 39.9 L321.6 41.3 L321.7 41.9 L321.8 41.9 L321.8 42.3 L321.9 42.2 L322.0 44.2 L322.1 44.4 L322.2 44.6 L322.2 44.7 L322.3 45.9 L322.4 47.0 L322.5 46.7 L322.6 47.3 L322.7 48.5 L322.8 49.1 L322.9 48.5 L323.0 49.3 L323.1 50.7 L323.2 52.1 L323.3 52.0 L323.4 51.7 L323.5 52.9 L323.6 53.4 L323.7 55.3 L323.8 54.6 L323.9 57.0 L324.1 56.4 L324.3 56.9 L324.4 57.3 L324.6 59.1 L324.8 59.8 L324.9 61.1 L325.1 61.5 L325.3 61.8 L325.5 61.2 L325.8 63.9 L326.0 62.8 L326.3 63.4 L326.6 63.9 L326.9 65.5 L327.3 66.3 L327.7 66.0 L328.1 66.5 L328.5 66.3 L328.9 68.1 L329.3 68.8 L330.1 68.1 L330.5 68.7 L331.0 70.3 L331.4 70.6 L331.9 69.6 L332.4 72.0 L332.9 71.8 L333.5 72.1 L334.0 71.5 L334.6 73.4 L335.1 72.5 L335.7 73.3 L336.3 74.5 L336.8 74.4 L337.4 73.1 L337.9 73.3 L338.5 73.7 L339.0 73.7 L339.5 75.7 L340.0 75.1 L340.6 75.1 L341.1 75.0 L341.6 75.5 L342.2 75.5 L342.8 76.4 L343.4 75.8 L344.1 77.0 L344.8 77.1 L345.5 77.3 L346.3 77.2 L347.1 75.9 L348.0 76.7 L349.0 77.8 L350.0 76.8 L351.1 77.5 L351.6 76.7 L352.2 78.3 L352.8 77.2 L353.3 77.3 L353.9 78.5 L354.5 76.8 L355.1 76.7 L355.7 77.8 L356.3 77.9 L356.9 77.2 L357.6 77.9 L358.2 78.9 L358.9 79.2 L359.5 79.4 L360.2 79.1 L360.8 77.5 L361.5 78.2 L362.2 78.5 L362.9 77.5 L363.6 79.4 L364.3 78.2 L365.0 79.5 L366.1 79.3 L366.7 78.3 L367.2 78.5 L367.8 78.8 L368.4 78.2 L369.0 77.8 L369.6 78.8 L370.2 78.4 L370.8 78.4 L371.4 79.7 L372.0 79.6 L372.7 78.9 L373.3 78.0 L373.9 79.7 L374.6 78.5 L375.2 78.2 L375.9 79.7 L376.5 80.1 L377.1 78.6 L377.8 79.3 L378.5 80.1 L379.1 79.2 L379.8 78.8 L380.4 78.4 L381.1 78.1 L381.7 80.1 L382.4 79.9 L383.0 78.4 L383.7 79.6 L384.3 78.5 L385.0 79.8 L385.6 78.9 L386.3 79.7 L386.9 79.3 L387.5 78.3 L388.2 79.4 L388.8 79.6 L389.4 78.2 L390.0 78.2 L390.7 78.8 L391.3 79.9 L392.0 80.5 L392.7 79.2 L393.3 80.2 L394.0 79.9 L394.7 78.9 L395.5 79.3 L396.2 80.3 L396.9 79.4 L397.6 79.5 L398.3 80.0 L399.1 78.6 L399.8 79.4 L400.5 79.6 L401.2 79.7 L401.9 80.0 L402.6 79.0 L403.3 79.5 L404.0 79.5 L404.7 78.7 L405.3 80.3 L406.0 80.7 L406.6 79.8 L407.3 79.5 L407.9 79.4 L408.5 79.6 L409.0 79.4 L410.1 79.2 L411.1 80.8 L412.0 79.4 L412.8 79.1 L413.5 80.2" fill="none" stroke="#111111" stroke-width="1.40" stroke-linejoin="round" stroke-linecap="round" opacity="1"/>
<path d="M320.6 34.0 L320.7 34.2 L320.8 34.8 L320.9 35.8 L321.0 36.2 L321.1 37.3 L321.2 37.7 L321.3 38.5 L321.4 38.6 L321.5 39.2 L321.5 39.9 L321.6 41.3 L321.7 41.9 L321.8 41.9 L321.8 42.3 L321.9 42.2 L322.0 44.2 L322.1 44.4 L322.2 44.6 L322.2 44.7 L322.3 45.9 L322.4 47.0 L322.5 46.7 L322.6 47.3 L322.7 48.5 L322.8 49.1 L322.9 48.5 L323.0 49.3 L323.1 50.7 L323.2 52.1 L323.3 52.0 L323.4 51.7 L323.5 52.9 L323.6 53.4 L323.7 55.3 L323.8 54.6 L323.9 57.0 L324.1 56.4 L324.3 56.9 L324.4 57.3 L324.6 59.1 L324.8 59.8 L324.9 61.1 L325.1 61.5 L325.3 61.8 L325.5 61.2 L325.8 63.9 L326.0 62.8 L326.3 63.4 L326.6 63.9 L326.9 65.5 L327.3 66.3 L327.7 66.0 L328.1 66.5 L328.5 66.3 L328.9 68.1 L329.3 68.8 L330.1 68.1 L330.5 68.7 L331.0 70.3 L331.4 70.6 L331.9 69.6 L332.4 72.0 L332.9 71.8 L333.5 72.1 L334.0 71.5 L334.6 73.4 L335.1 72.5 L335.7 73.3 L336.3 74.5 L336.8 74.4 L337.4 73.1 L337.9 73.3 L338.5 73.7 L339.0 73.7 L339.5 75.7 L340.0 75.1 L340.6 75.1 L341.1 75.0 L341.6 75.5 L342.2 75.5 L342.8 76.4 L343.4 75.8 L344.1 77.0 L344.8 77.1 L345.5 77.3 L346.3 77.2 L347.1 75.9 L348.0 76.7 L349.0 77.8 L350.0 76.8 L351.1 77.5 L351.6 76.7 L352.2 78.3 L352.8 77.2 L353.3 77.3 L353.9 78.5 L354.5 76.8 L355.1 76.7 L355.7 77.8 L356.3 77.9 L356.9 77.2 L357.6 77.9 L358.2 78.9 L358.9 79.2 L359.5 79.4 L360.2 79.1 L360.8 77.5 L361.5 78.2 L362.2 78.5 L362.9 77.5 L363.6 79.4 L364.3 78.2 L365.0 79.5 L366.1 79.3 L366.7 78.3 L367.2 78.5 L367.8 78.8 L368.4 78.2 L369.0 77.8 L369.6 78.8 L370.2 78.4 L370.8 78.4 L371.4 79.7 L372.0 79.6 L372.7 78.9 L373.3 78.0 L373.9 79.7 L374.6 78.5 L375.2 78.2 L375.9 79.7 L376.5 80.1 L377.1 78.6 L377.8 79.3 L378.5 80.1 L379.1 79.2 L379.8 78.8 L380.4 78.4 L381.1 78.1 L381.7 80.1 L382.4 79.9 L383.0 78.4 L383.7 79.6 L384.3 78.5 L385.0 79.8 L385.6 78.9 L386.3 79.7 L386.9 79.3 L387.5 78.3 L388.2 79.4 L388.8 79.6 L389.4 78.2 L390.0 78.2 L390.7 78.8 L391.3 79.9 L392.0 80.5 L392.7 79.2 L393.3 80.2 L394.0 79.9 L394.7 78.9 L395.5 79.3 L396.2 80.3 L396.9 79.4 L397.6 79.5 L398.3 80.0 L399.1 78.6 L399.8 79.4 L400.5 79.6 L401.2 79.7 L401.9 80.0 L402.6 79.0 L403.3 79.5 L404.0 79.5 L404.7 78.7 L405.3 80.3 L406.0 80.7 L406.6 79.8 L407.3 79.5 L407.9 79.4 L408.5 79.6 L409.0 79.4 L410.1 79.2 L411.1 80.8 L412.0 79.4 L412.8 79.1 L413.5 80.2" fill="none" stroke="#111111" stroke-width="1.90" stroke-linejoin="round" stroke-linecap="round" opacity="1"/>
<path d="M296.5 21.2 L297.2 21.3 L298.2 21.4 L298.8 21.5 L299.3 21.4 L300.0 21.3 L300.6 21.6 L301.3 21.4 L302.0 21.5 L302.7 21.5 L303.4 21.7 L304.1 21.6 L304.9 21.6 L305.6 21.6 L306.3 21.6 L307.0 21.6 L307.6 21.8 L308.3 21.7 L308.9 21.8 L309.4 21.7 L310.0 21.8 L310.8 21.9 L311.6 21.8 L312.3 22.0 L313.0 21.9 L313.7 22.1 L314.4 22.2 L315.1 22.1 L315.7 22.3 L316.3 22.1 L316.9 22.2 L317.9 22.2 L318.8 22.0 L319.4 21.5 L320.0 21.1 L320.3 20.6 L320.5 20.0 L320.8 19.4 L321.0 19.1 L321.6 18.4 L322.2 18.0 L322.7 17.5 L323.3 17.2 L323.8 17.5 L324.4 17.9 L324.8 18.5 L325.3 19.0 L325.6 19.4 L325.8 20.0 L326.1 20.5 L326.3 21.2 L326.5 21.7 L326.6 22.2 L326.8 23.0 L326.9 23.5 L327.1 23.9 L327.2 24.6 L327.4 25.1 L327.5 26.0 L327.6 26.6 L327.8 27.4 L327.9 28.0 L328.1 28.8 L328.2 29.6 L328.4 30.2 L328.5 30.9 L328.6 31.4 L328.7 32.3 L328.8 32.7 L328.9 33.2 L329.0 34.0 L329.1 34.4 L329.2 35.2 L329.3 36.0 L329.4 36.3 L329.5 37.1 L329.6 38.0 L329.7 38.6 L329.8 39.2 L329.9 39.2 L330.0 40.5 L330.1 40.7 L330.2 41.1 L330.4 42.6 L330.5 42.5 L330.6 44.0 L330.7 43.8 L330.9 44.5 L331.0 45.6 L331.1 46.4 L331.2 47.0 L331.4 47.9 L331.5 47.7 L331.7 49.1 L331.9 49.3 L332.1 50.8 L332.3 51.1 L332.6 51.8 L332.8 51.8 L333.0 53.4 L333.3 53.3 L333.5 53.8 L333.8 54.6 L334.1 55.6 L334.5 55.7 L334.8 56.6 L335.2 57.3 L335.6 57.5 L336.0 57.9 L336.4 58.9 L336.9 59.8 L337.4 60.4 L337.7 60.3 L338.1 61.3 L338.5 62.0 L338.8 62.3 L339.2 62.1 L339.6 62.5 L340.0 64.1 L340.4 64.2 L340.9 64.2 L341.3 65.2 L341.7 65.4 L342.2 66.0 L342.7 66.1 L343.2 66.9 L343.7 67.0 L344.2 67.5 L344.7 67.8 L345.2 68.8 L345.8 69.3 L346.4 69.0 L346.9 69.2 L347.5 69.8 L348.1 70.7 L348.7 70.5 L349.3 70.4 L350.0 71.6 L350.6 71.4 L351.3 71.1 L352.0 72.1 L352.6 72.0 L353.3 72.5 L354.0 72.7 L354.7 72.8 L355.4 73.0 L356.1 72.5 L356.8 73.2 L357.4 72.9 L358.0 73.2 L358.9 72.9 L359.8 73.6 L360.4 73.0 L361.0 74.0 L361.8 73.3 L362.7 73.8 L363.2 74.2 L363.8 74.2 L364.4 74.3 L365.0 73.8 L365.9 73.4 L366.8 74.6 L367.9 73.8 L368.9 74.5 L369.5 74.0 L370.1 74.0 L370.7 74.2 L371.3 74.2 L371.9 74.5 L372.6 74.3 L373.2 73.8 L373.9 74.3 L374.5 73.7 L375.2 74.7 L375.9 73.9 L376.5 74.1 L377.2 74.4 L377.9 74.1 L378.6 74.8 L379.3 74.7 L380.0 74.2 L380.7 74.3 L381.4 74.7 L382.1 74.4 L382.8 74.6 L383.5 74.2 L384.1 74.5 L384.8 74.6 L385.5 75.0 L386.2 74.3 L386.8 74.9 L387.5 74.2 L388.1 74.3 L388.8 74.2 L389.4 75.1 L390.0 74.1 L390.7 74.4 L391.3 74.6 L392.0 74.9 L392.7 74.9 L393.3 74.2 L394.0 74.6 L394.7 75.0 L395.5 74.3 L396.2 74.3 L396.9 75.2 L397.6 74.2 L398.3 74.3 L399.1 74.5 L399.8 75.3 L400.5 74.7 L401.2 74.8 L401.9 75.0 L402.6 75.4 L403.3 74.4 L404.0 74.6 L404.7 74.9 L405.3 75.2 L406.0 74.6 L406.6 74.9 L407.3 75.1 L407.9 74.5 L408.5 74.9 L409.0 74.6 L410.1 75.6 L411.1 74.6 L412.0 74.8 L412.8 75.3 L413.5 74.9" fill="none" stroke="#cc2036" stroke-width="1.40" stroke-linejoin="round" stroke-linecap="round" opacity="1"/>
<path d="M329.0 34.0 L329.1 34.4 L329.2 35.2 L329.3 36.0 L329.4 36.3 L329.5 37.1 L329.6 38.0 L329.7 38.6 L329.8 39.2 L329.9 39.2 L330.0 40.5 L330.1 40.7 L330.2 41.1 L330.4 42.6 L330.5 42.5 L330.6 44.0 L330.7 43.8 L330.9 44.5 L331.0 45.6 L331.1 46.4 L331.2 47.0 L331.4 47.9 L331.5 47.7 L331.7 49.1 L331.9 49.3 L332.1 50.8 L332.3 51.1 L332.6 51.8 L332.8 51.8 L333.0 53.4 L333.3 53.3 L333.5 53.8 L333.8 54.6 L334.1 55.6 L334.5 55.7 L334.8 56.6 L335.2 57.3 L335.6 57.5 L336.0 57.9 L336.4 58.9 L336.9 59.8 L337.4 60.4 L337.7 60.3 L338.1 61.3 L338.5 62.0 L338.8 62.3 L339.2 62.1 L339.6 62.5 L340.0 64.1 L340.4 64.2 L340.9 64.2 L341.3 65.2 L341.7 65.4 L342.2 66.0 L342.7 66.1 L343.2 66.9 L343.7 67.0 L344.2 67.5 L344.7 67.8 L345.2 68.8 L345.8 69.3 L346.4 69.0 L346.9 69.2 L347.5 69.8 L348.1 70.7 L348.7 70.5 L349.3 70.4 L350.0 71.6 L350.6 71.4 L351.3 71.1 L352.0 72.1 L352.6 72.0 L353.3 72.5 L354.0 72.7 L354.7 72.8 L355.4 73.0 L356.1 72.5 L356.8 73.2 L357.4 72.9 L358.0 73.2 L358.9 72.9 L359.8 73.6 L360.4 73.0 L361.0 74.0 L361.8 73.3 L362.7 73.8 L363.2 74.2 L363.8 74.2 L364.4 74.3 L365.0 73.8 L365.9 73.4 L366.8 74.6 L367.9 73.8 L368.9 74.5 L369.5 74.0 L370.1 74.0 L370.7 74.2 L371.3 74.2 L371.9 74.5 L372.6 74.3 L373.2 73.8 L373.9 74.3 L374.5 73.7 L375.2 74.7 L375.9 73.9 L376.5 74.1 L377.2 74.4 L377.9 74.1 L378.6 74.8 L379.3 74.7 L380.0 74.2 L380.7 74.3 L381.4 74.7 L382.1 74.4 L382.8 74.6 L383.5 74.2 L384.1 74.5 L384.8 74.6 L385.5 75.0 L386.2 74.3 L386.8 74.9 L387.5 74.2 L388.1 74.3 L388.8 74.2 L389.4 75.1 L390.0 74.1 L390.7 74.4 L391.3 74.6 L392.0 74.9 L392.7 74.9 L393.3 74.2 L394.0 74.6 L394.7 75.0 L395.5 74.3 L396.2 74.3 L396.9 75.2 L397.6 74.2 L398.3 74.3 L399.1 74.5 L399.8 75.3 L400.5 74.7 L401.2 74.8 L401.9 75.0 L402.6 75.4 L403.3 74.4 L404.0 74.6 L404.7 74.9 L405.3 75.2 L406.0 74.6 L406.6 74.9 L407.3 75.1 L407.9 74.5 L408.5 74.9 L409.0 74.6 L410.1 75.6 L411.1 74.6 L412.0 74.8 L412.8 75.3 L413.5 74.9" fill="none" stroke="#cc2036" stroke-width="1.70" stroke-linejoin="round" stroke-linecap="round" opacity="1"/>
<path d="M296.5 21.4 L297.2 21.2 L297.9 21.8 L298.7 21.5 L299.6 21.3 L300.6 21.2 L301.7 21.5 L302.2 21.8 L302.8 21.8 L303.3 21.8 L303.9 21.6 L304.5 22.0 L305.1 21.6 L305.8 21.7 L306.4 22.1 L307.0 22.0 L307.7 21.8 L308.3 22.1 L309.0 22.1 L309.7 21.7 L310.4 21.8 L311.1 22.2 L311.8 21.8 L312.5 21.8 L313.2 22.0 L313.9 21.7 L314.6 21.8 L315.3 22.5 L316.0 21.9 L316.8 22.4 L317.5 21.7 L318.2 22.0 L318.9 22.2 L319.7 22.1 L320.4 22.7 L321.1 22.7 L321.8 22.2 L322.5 22.0 L323.2 22.8 L323.9 22.7 L324.6 22.5 L325.3 22.1 L326.0 22.0 L326.7 22.7 L327.4 22.7 L328.0 22.5 L328.7 22.4 L329.4 22.4 L330.0 22.5 L330.6 22.5 L331.2 22.7 L331.8 22.6 L332.3 22.5 L332.9 22.4 L333.5 22.8 L334.1 23.1 L334.6 22.4 L335.2 23.0 L335.8 22.9 L336.3 22.5 L336.9 22.4 L337.5 23.1 L338.0 22.5 L338.6 22.4 L339.2 22.4 L339.7 23.1 L340.3 22.7 L340.9 22.4 L341.4 22.6 L342.0 22.8 L342.6 22.8 L343.1 22.5 L343.7 23.2 L344.3 23.0 L344.8 22.7 L345.4 22.7 L346.0 22.7 L346.6 22.5 L347.1 23.0 L347.7 22.7 L348.3 23.1 L348.9 23.2 L349.5 22.8 L350.1 22.7 L350.7 22.8 L351.3 22.9 L351.9 22.5 L352.5 22.9 L353.1 22.8 L353.7 22.6 L354.3 23.3 L355.0 23.2 L355.6 23.0 L356.2 22.6 L356.9 23.2 L357.5 22.9 L358.1 23.4 L358.8 23.2 L359.5 22.8 L360.1 23.3 L360.8 23.1 L361.5 22.9 L362.2 23.3 L362.9 22.9 L363.6 22.8 L364.3 22.7 L365.0 23.2 L366.1 22.9 L366.6 22.8 L367.2 22.7 L367.8 23.4 L368.3 22.9 L368.9 23.5 L369.5 23.5 L370.1 23.5 L370.7 22.9 L371.4 23.6 L372.0 23.3 L372.7 23.5 L373.3 23.6 L374.0 23.1 L374.6 23.1 L375.3 23.6 L376.0 23.1 L376.6 22.9 L377.3 22.9 L378.0 23.3 L378.7 23.1 L379.4 23.7 L380.1 22.9 L380.8 23.2 L381.5 23.5 L382.2 23.4 L382.9 23.7 L383.6 23.5 L384.3 23.7 L385.0 23.8 L385.8 23.7 L386.5 23.5 L387.2 23.3 L387.9 23.5 L388.6 23.2 L389.3 23.2 L390.0 23.5 L390.7 23.4 L391.4 23.4 L392.1 23.1 L392.8 23.9 L393.5 23.4 L394.2 23.5 L394.9 23.4 L395.6 23.6 L396.3 23.8 L396.9 24.0 L397.6 23.7 L398.3 24.0 L398.9 23.5 L399.6 23.6 L400.2 23.5 L400.8 24.0 L401.5 23.3 L402.1 23.4 L402.7 23.9 L403.3 23.4 L403.9 23.3 L404.5 23.6 L405.0 23.6 L405.6 23.6 L406.7 23.5 L407.7 23.6 L408.7 23.5 L409.7 23.5 L410.6 23.8 L411.4 23.5 L412.2 23.5 L412.9 24.2 L413.5 24.1" fill="none" stroke="#1f5494" stroke-width="1.35" stroke-linejoin="round" stroke-linecap="round" opacity="1"/>
<line x1="311.80" y1="22.00" x2="311.80" y2="12.90" stroke="#111111" stroke-width="1.50"/>
<text x="411.00" y="30.70" font-size="5.80" fill="#2f67a6" stroke="#2f67a6" text-anchor="end" font-weight="normal" >Vehicle</text>
<text x="419.00" y="46.00" font-size="5.10" fill="#cc2036" stroke="#cc2036" text-anchor="end" font-weight="normal" >Collagen 1µg/ml + Mab#9 2.5µg/ml</text>
<text x="412.00" y="88.50" font-size="6.05" fill="#222" stroke="#222" text-anchor="end" font-weight="normal" >Collagen 1µg/ml</text>
<line x1="448.10" y1="20.00" x2="448.10" y2="84.70" stroke="#5c5c5c" stroke-width="2.00"/>
<line x1="444.90" y1="84.20" x2="448.10" y2="84.20" stroke="#333" stroke-width="1.10"/>
<text x="442.60" y="86.10" font-size="5.90" fill="#333" stroke="#333" text-anchor="end" font-weight="normal" >0</text>
<line x1="444.90" y1="71.42" x2="448.10" y2="71.42" stroke="#333" stroke-width="1.10"/>
<text x="442.60" y="73.32" font-size="5.90" fill="#333" stroke="#333" text-anchor="end" font-weight="normal" >20</text>
<line x1="444.90" y1="58.64" x2="448.10" y2="58.64" stroke="#333" stroke-width="1.10"/>
<text x="442.60" y="60.54" font-size="5.90" fill="#333" stroke="#333" text-anchor="end" font-weight="normal" >40</text>
<line x1="444.90" y1="45.86" x2="448.10" y2="45.86" stroke="#333" stroke-width="1.10"/>
<text x="442.60" y="47.76" font-size="5.90" fill="#333" stroke="#333" text-anchor="end" font-weight="normal" >60</text>
<line x1="444.90" y1="33.08" x2="448.10" y2="33.08" stroke="#333" stroke-width="1.10"/>
<text x="442.60" y="34.98" font-size="5.90" fill="#333" stroke="#333" text-anchor="end" font-weight="normal" >80</text>
<line x1="444.90" y1="20.30" x2="448.10" y2="20.30" stroke="#333" stroke-width="1.10"/>
<text x="442.60" y="22.20" font-size="5.90" fill="#333" stroke="#333" text-anchor="end" font-weight="normal" >100</text>
<line x1="447.50" y1="84.20" x2="512.30" y2="84.20" stroke="#151515" stroke-width="1.30"/>
<line x1="461.00" y1="84.20" x2="461.00" y2="87.50" stroke="#333" stroke-width="1.00"/>
<line x1="480.30" y1="84.20" x2="480.30" y2="87.50" stroke="#333" stroke-width="1.00"/>
<line x1="499.60" y1="84.20" x2="499.60" y2="87.50" stroke="#333" stroke-width="1.00"/>
<text transform="translate(431.40 50.50) rotate(-90)" font-size="7.00" fill="#222" stroke="#222" text-anchor="middle" textLength="32.80" lengthAdjust="spacingAndGlyphs">% Aggregation</text>
<path d="M454.80 84.20 L454.80 79.41 L467.20 79.41 L467.20 84.20" fill="none" stroke="#2a69a8" stroke-width="1.10" stroke-linejoin="miter"/>
<circle cx="461.00" cy="76.53" r="0.95" fill="#2a69a8"/>
<circle cx="459.00" cy="78.45" r="0.95" fill="#2a69a8"/>
<circle cx="462.60" cy="78.13" r="0.95" fill="#2a69a8"/>
<circle cx="459.30" cy="81.26" r="0.95" fill="#2a69a8"/>
<circle cx="462.60" cy="80.56" r="0.95" fill="#2a69a8"/>
<path d="M474.30 84.20 L474.30 28.10 L486.30 28.10 L486.30 84.20" fill="none" stroke="#111111" stroke-width="1.10" stroke-linejoin="miter"/>
<line x1="480.30" y1="28.10" x2="480.30" y2="25.41" stroke="#111111" stroke-width="1.05"/>
<line x1="478.05" y1="25.41" x2="482.55" y2="25.41" stroke="#111111" stroke-width="1.05"/>
<line x1="480.30" y1="28.10" x2="480.30" y2="29.89" stroke="#111111" stroke-width="1.05"/>
<line x1="478.05" y1="29.89" x2="482.55" y2="29.89" stroke="#111111" stroke-width="1.05"/>
<circle cx="478.30" cy="26.37" r="0.95" fill="#111111"/>
<circle cx="482.30" cy="25.41" r="0.95" fill="#111111"/>
<circle cx="478.80" cy="29.57" r="0.95" fill="#111111"/>
<circle cx="481.80" cy="28.93" r="0.95" fill="#111111"/>
<path d="M493.55 84.20 L493.55 31.16 L505.65 31.16 L505.65 84.20" fill="none" stroke="#cc2036" stroke-width="1.10" stroke-linejoin="miter"/>
<line x1="499.60" y1="31.16" x2="499.60" y2="28.29" stroke="#cc2036" stroke-width="1.05"/>
<line x1="497.35" y1="28.29" x2="501.85" y2="28.29" stroke="#cc2036" stroke-width="1.05"/>
<line x1="499.60" y1="31.16" x2="499.60" y2="35.00" stroke="#cc2036" stroke-width="1.05"/>
<line x1="497.35" y1="35.00" x2="501.85" y2="35.00" stroke="#cc2036" stroke-width="1.05"/>
<circle cx="497.80" cy="27.20" r="0.95" fill="#cc2036"/>
<circle cx="501.60" cy="28.29" r="0.95" fill="#cc2036"/>
<circle cx="497.40" cy="36.08" r="0.95" fill="#cc2036"/>
<circle cx="501.20" cy="35.00" r="0.95" fill="#cc2036"/>
<circle cx="502.70" cy="46.31" r="0.95" fill="#cc2036"/>
<text transform="translate(461.60 91.30) rotate(-45)" font-size="5.50" fill="#333" stroke="#333" text-anchor="end">Vehicle</text>
<text transform="translate(483.70 91.30) rotate(-45)" font-size="5.50" fill="#333" stroke="#333" text-anchor="end">Collagen 1µg/mL</text>
<text transform="translate(503.00 91.30) rotate(-45)" font-size="5.50" fill="#333" stroke="#333" text-anchor="end">+Mab#9 2.5µg/mL</text>
<text x="277.60" y="126.20" font-size="11.0" fill="#000" stroke="#000" style="stroke-width:0.3px" font-weight="bold">F</text>
<line x1="296.40" y1="132.40" x2="296.40" y2="204.00" stroke="#262626" stroke-width="1.30"/>
<line x1="293.20" y1="132.90" x2="296.40" y2="132.90" stroke="#333" stroke-width="1.10"/>
<text x="291.30" y="134.50" font-size="6.00" fill="#333" stroke="#333" text-anchor="end" font-weight="normal" >0</text>
<line x1="293.20" y1="147.12" x2="296.40" y2="147.12" stroke="#333" stroke-width="1.10"/>
<text x="291.30" y="148.72" font-size="6.00" fill="#333" stroke="#333" text-anchor="end" font-weight="normal" >20</text>
<line x1="293.20" y1="161.34" x2="296.40" y2="161.34" stroke="#333" stroke-width="1.10"/>
<text x="291.30" y="162.94" font-size="6.00" fill="#333" stroke="#333" text-anchor="end" font-weight="normal" >40</text>
<line x1="293.20" y1="175.56" x2="296.40" y2="175.56" stroke="#333" stroke-width="1.10"/>
<text x="291.30" y="177.16" font-size="6.00" fill="#333" stroke="#333" text-anchor="end" font-weight="normal" >60</text>
<line x1="293.20" y1="189.78" x2="296.40" y2="189.78" stroke="#333" stroke-width="1.10"/>
<text x="291.30" y="191.38" font-size="6.00" fill="#333" stroke="#333" text-anchor="end" font-weight="normal" >80</text>
<line x1="293.20" y1="204.00" x2="296.40" y2="204.00" stroke="#333" stroke-width="1.10"/>
<text x="291.30" y="205.60" font-size="6.00" fill="#333" stroke="#333" text-anchor="end" font-weight="normal" >100</text>
<line x1="295.70" y1="204.00" x2="311.40" y2="204.00" stroke="#2a2a2a" stroke-width="1.20"/>
<text x="296.70" y="210.60" font-size="5.60" fill="#222" stroke="#222" text-anchor="start" font-weight="normal" textLength="14.20" lengthAdjust="spacingAndGlyphs" >1 min</text>
<text transform="translate(279.90 168.75) rotate(-90)" font-size="7.00" fill="#222" stroke="#222" text-anchor="middle" textLength="32.80" lengthAdjust="spacingAndGlyphs">% Aggregation</text>
<path d="M296.5 133.3 L297.3 133.4 L298.3 133.2 L298.9 133.2 L299.5 133.4 L300.2 133.7 L300.9 133.3 L301.6 133.4 L302.3 133.6 L303.1 133.3 L303.8 133.5 L304.6 133.4 L305.3 133.6 L306.0 133.7 L306.7 133.7 L307.4 133.7 L308.0 133.4 L308.6 133.6 L309.1 133.6 L310.0 133.5 L310.7 133.4 L311.4 133.4 L312.1 133.3 L312.8 133.8 L313.3 134.8 L313.5 135.1 L313.8 135.9 L313.9 136.3 L314.1 137.3 L314.3 137.9 L314.4 138.5 L314.5 139.2 L314.6 140.0 L314.8 141.1 L314.8 141.8 L314.9 142.2 L314.9 143.2 L315.0 143.8 L315.1 144.4 L315.1 145.1 L315.2 145.3 L315.2 145.8 L315.3 146.5 L315.3 148.0 L315.4 148.2 L315.5 149.4 L315.5 149.3 L315.6 150.0 L315.6 150.9 L315.7 151.8 L315.8 151.9 L315.9 152.7 L315.9 153.1 L316.0 153.6 L316.1 155.4 L316.2 156.1 L316.3 155.9 L316.4 156.0 L316.5 158.1 L316.5 157.9 L316.6 159.2 L316.7 159.1 L316.8 158.9 L316.9 161.1 L317.0 160.2 L317.1 162.7 L317.2 161.6 L317.3 162.7 L317.4 162.5 L317.6 163.7 L317.7 165.3 L317.8 164.6 L317.9 165.3 L318.0 165.8 L318.2 166.3 L318.3 168.1 L318.4 167.9 L318.5 169.8 L318.7 170.2 L318.8 170.3 L319.0 172.0 L319.1 172.7 L319.3 171.7 L319.4 173.5 L319.6 173.8 L319.8 173.2 L319.9 175.2 L320.1 174.0 L320.3 176.1 L320.5 177.1 L320.7 177.0 L320.9 177.7 L321.2 178.3 L321.6 178.4 L321.9 178.3 L322.3 179.6 L322.7 180.0 L323.1 181.8 L323.5 182.6 L324.0 183.4 L324.4 182.3 L324.7 184.1 L325.1 184.6 L325.5 182.9 L325.9 184.7 L326.3 184.0 L326.8 184.4 L327.2 185.8 L327.7 186.8 L328.1 186.0 L328.6 186.7 L329.1 187.5 L329.6 187.9 L330.1 187.3 L330.6 187.7 L331.1 187.6 L331.7 188.7 L332.2 190.5 L332.8 188.9 L333.4 190.5 L334.0 190.5 L334.6 191.3 L335.3 191.4 L336.0 189.9 L337.0 191.0 L337.9 192.6 L338.9 192.5 L339.4 193.2 L339.9 191.5 L340.5 193.6 L341.0 192.7 L341.6 193.9 L342.2 193.6 L342.8 193.2 L343.5 193.8 L344.2 192.8 L344.9 195.1 L345.6 195.1 L346.4 194.8 L347.4 194.9 L348.4 195.3 L349.5 194.8 L350.0 194.4 L350.6 195.5 L351.2 196.4 L351.8 196.2 L352.3 196.1 L352.9 194.6 L353.6 195.1 L354.2 195.1 L354.8 195.8 L355.4 196.7 L356.1 196.1 L356.7 196.1 L357.4 195.8 L358.0 195.3 L358.7 195.5 L359.4 197.3 L360.1 197.2 L360.7 196.7 L361.4 196.8 L362.1 195.7 L362.8 195.3 L363.6 195.4 L364.3 195.4 L365.0 195.9 L365.6 197.8 L366.1 196.8 L366.7 196.0 L367.3 195.7 L367.8 195.6 L368.4 195.6 L369.0 195.9 L369.6 196.4 L370.3 196.0 L370.9 196.2 L371.5 197.2 L372.1 196.0 L372.8 196.0 L373.4 197.5 L374.1 196.4 L374.7 197.2 L375.4 196.4 L376.0 197.4 L376.7 195.8 L377.3 196.4 L378.0 197.8 L378.6 196.4 L379.3 197.3 L379.9 196.3 L380.6 196.0 L381.3 196.8 L381.9 196.9 L382.6 195.9 L383.2 197.0 L383.8 196.8 L384.5 196.6 L385.1 197.6 L385.8 197.9 L386.4 196.8 L387.0 196.5 L387.6 197.6 L388.2 197.6 L388.8 197.0 L389.4 197.3 L390.0 196.6 L390.7 197.5 L391.4 197.2 L392.1 197.9 L392.8 196.5 L393.6 196.0 L394.3 197.9 L395.0 197.2 L395.8 197.8 L396.5 197.6 L397.2 197.7 L398.0 196.7 L398.7 197.9 L399.4 197.3 L400.2 196.8 L400.9 196.2 L401.6 196.1 L402.3 196.4 L403.0 196.6 L403.7 196.6 L404.4 197.3 L405.0 198.1 L405.6 197.2 L406.3 197.4 L406.9 195.8 L407.4 197.5 L408.0 197.1 L409.0 197.7 L410.0 196.6 L410.8 197.3 L411.5 197.0" fill="none" stroke="#111111" stroke-width="1.40" stroke-linejoin="round" stroke-linecap="round" opacity="1"/>
<path d="M315.2 145.8 L315.3 146.5 L315.3 148.0 L315.4 148.2 L315.5 149.4 L315.5 149.3 L315.6 150.0 L315.6 150.9 L315.7 151.8 L315.8 151.9 L315.9 152.7 L315.9 153.1 L316.0 153.6 L316.1 155.4 L316.2 156.1 L316.3 155.9 L316.4 156.0 L316.5 158.1 L316.5 157.9 L316.6 159.2 L316.7 159.1 L316.8 158.9 L316.9 161.1 L317.0 160.2 L317.1 162.7 L317.2 161.6 L317.3 162.7 L317.4 162.5 L317.6 163.7 L317.7 165.3 L317.8 164.6 L317.9 165.3 L318.0 165.8 L318.2 166.3 L318.3 168.1 L318.4 167.9 L318.5 169.8 L318.7 170.2 L318.8 170.3 L319.0 172.0 L319.1 172.7 L319.3 171.7 L319.4 173.5 L319.6 173.8 L319.8 173.2 L319.9 175.2 L320.1 174.0 L320.3 176.1 L320.5 177.1 L320.7 177.0 L320.9 177.7 L321.2 178.3 L321.6 178.4 L321.9 178.3 L322.3 179.6 L322.7 180.0 L323.1 181.8 L323.5 182.6 L324.0 183.4 L324.4 182.3 L324.7 184.1 L325.1 184.6 L325.5 182.9 L325.9 184.7 L326.3 184.0 L326.8 184.4 L327.2 185.8 L327.7 186.8 L328.1 186.0 L328.6 186.7 L329.1 187.5 L329.6 187.9 L330.1 187.3 L330.6 187.7 L331.1 187.6 L331.7 188.7 L332.2 190.5 L332.8 188.9 L333.4 190.5 L334.0 190.5 L334.6 191.3 L335.3 191.4 L336.0 189.9 L337.0 191.0 L337.9 192.6 L338.9 192.5 L339.4 193.2 L339.9 191.5 L340.5 193.6 L341.0 192.7 L341.6 193.9 L342.2 193.6 L342.8 193.2 L343.5 193.8 L344.2 192.8 L344.9 195.1 L345.6 195.1 L346.4 194.8 L347.4 194.9 L348.4 195.3 L349.5 194.8 L350.0 194.4 L350.6 195.5 L351.2 196.4 L351.8 196.2 L352.3 196.1 L352.9 194.6 L353.6 195.1 L354.2 195.1 L354.8 195.8 L355.4 196.7 L356.1 196.1 L356.7 196.1 L357.4 195.8 L358.0 195.3 L358.7 195.5 L359.4 197.3 L360.1 197.2 L360.7 196.7 L361.4 196.8 L362.1 195.7 L362.8 195.3 L363.6 195.4 L364.3 195.4 L365.0 195.9 L365.6 197.8 L366.1 196.8 L366.7 196.0 L367.3 195.7 L367.8 195.6 L368.4 195.6 L369.0 195.9 L369.6 196.4 L370.3 196.0 L370.9 196.2 L371.5 197.2 L372.1 196.0 L372.8 196.0 L373.4 197.5 L374.1 196.4 L374.7 197.2 L375.4 196.4 L376.0 197.4 L376.7 195.8 L377.3 196.4 L378.0 197.8 L378.6 196.4 L379.3 197.3 L379.9 196.3 L380.6 196.0 L381.3 196.8 L381.9 196.9 L382.6 195.9 L383.2 197.0 L383.8 196.8 L384.5 196.6 L385.1 197.6 L385.8 197.9 L386.4 196.8 L387.0 196.5 L387.6 197.6 L388.2 197.6 L388.8 197.0 L389.4 197.3 L390.0 196.6 L390.7 197.5 L391.4 197.2 L392.1 197.9 L392.8 196.5 L393.6 196.0 L394.3 197.9 L395.0 197.2 L395.8 197.8 L396.5 197.6 L397.2 197.7 L398.0 196.7 L398.7 197.9 L399.4 197.3 L400.2 196.8 L400.9 196.2 L401.6 196.1 L402.3 196.4 L403.0 196.6 L403.7 196.6 L404.4 197.3 L405.0 198.1 L405.6 197.2 L406.3 197.4 L406.9 195.8 L407.4 197.5 L408.0 197.1 L409.0 197.7 L410.0 196.6 L410.8 197.3 L411.5 197.0" fill="none" stroke="#111111" stroke-width="1.90" stroke-linejoin="round" stroke-linecap="round" opacity="1"/>
<path d="M296.5 133.5 L297.3 133.4 L298.3 133.5 L298.9 133.6 L299.5 133.5 L300.2 133.5 L300.9 133.6 L301.6 133.6 L302.3 133.7 L303.1 133.7 L303.8 133.7 L304.6 133.7 L305.3 133.6 L306.0 133.8 L306.7 133.7 L307.4 133.6 L308.0 133.6 L308.6 133.8 L309.1 133.7 L310.0 133.6 L310.5 133.3 L311.0 132.9 L311.6 132.7 L312.1 132.5 L312.4 132.0 L312.8 131.4 L313.5 131.7 L314.1 132.0 L314.4 132.6 L314.7 133.1 L315.0 133.6 L315.3 134.0 L315.6 134.8 L315.8 135.8 L315.9 136.5 L316.0 137.1 L316.0 137.7 L316.1 138.4 L316.2 139.2 L316.3 139.9 L316.4 140.5 L316.5 141.3 L316.6 141.9 L316.7 142.6 L316.9 143.9 L316.9 144.2 L317.0 144.8 L317.1 145.7 L317.2 146.1 L317.3 146.7 L317.3 147.5 L317.4 148.2 L317.5 148.6 L317.6 149.5 L317.7 149.7 L317.8 150.8 L317.9 151.1 L317.9 151.7 L318.0 152.1 L318.1 152.7 L318.2 153.6 L318.3 153.9 L318.4 154.9 L318.5 155.9 L318.6 156.0 L318.8 157.1 L318.9 157.6 L319.0 158.3 L319.1 159.2 L319.3 159.5 L319.4 160.5 L319.5 160.4 L319.7 161.7 L319.8 162.1 L319.9 162.3 L320.1 163.0 L320.2 164.4 L320.4 164.7 L320.5 165.1 L320.7 165.8 L320.8 166.9 L321.0 167.2 L321.2 167.4 L321.4 168.9 L321.5 169.4 L321.7 169.9 L321.9 170.5 L322.1 171.0 L322.3 171.2 L322.5 172.6 L322.7 172.8 L322.9 172.7 L323.1 174.1 L323.4 174.2 L323.6 174.4 L323.9 176.0 L324.2 175.8 L324.5 176.6 L324.7 176.8 L325.0 177.9 L325.3 178.5 L325.7 179.4 L326.0 180.1 L326.3 180.5 L326.6 180.8 L326.9 181.0 L327.2 182.2 L327.6 181.9 L327.9 182.5 L328.2 183.3 L328.5 183.6 L328.9 184.3 L329.2 184.3 L329.6 185.0 L330.0 185.2 L330.5 186.1 L330.9 186.4 L331.3 187.5 L331.7 187.2 L332.2 187.5 L332.6 188.6 L333.1 188.3 L333.6 189.5 L334.1 189.5 L334.6 189.4 L335.1 190.4 L335.6 191.2 L336.2 190.7 L336.7 191.3 L337.3 191.6 L337.8 192.3 L338.3 192.6 L338.9 191.8 L339.8 192.6 L340.8 193.4 L341.4 193.1 L341.9 193.4 L342.5 193.6 L343.2 193.1 L343.9 193.3 L344.6 194.5 L345.2 194.0 L345.8 194.2 L346.4 194.5 L347.3 194.9 L348.3 195.3 L349.4 194.6 L349.9 195.4 L350.5 194.7 L351.0 195.5 L351.6 196.0 L352.2 195.7 L352.8 195.7 L353.4 196.4 L354.0 196.3 L354.7 196.7 L355.3 196.4 L356.0 196.3 L356.6 196.8 L357.3 196.7 L358.0 196.3 L358.6 196.5 L359.3 197.6 L360.0 197.4 L360.7 196.8 L361.4 197.7 L362.1 197.8 L362.8 197.1 L363.6 198.3 L364.3 197.4 L365.0 197.9 L365.6 198.2 L366.1 198.0 L366.7 197.9 L367.3 198.1 L367.8 198.3 L368.4 198.8 L369.0 198.7 L369.6 198.9 L370.3 198.7 L370.9 198.4 L371.5 198.3 L372.1 199.0 L372.8 199.0 L373.4 198.3 L374.1 199.0 L374.7 198.5 L375.4 198.2 L376.0 198.7 L376.7 199.2 L377.3 198.8 L378.0 199.2 L378.6 199.3 L379.3 199.2 L379.9 198.7 L380.6 199.4 L381.3 198.5 L381.9 199.0 L382.6 198.5 L383.2 198.9 L383.8 199.5 L384.5 199.5 L385.1 199.7 L385.8 199.2 L386.4 199.2 L387.0 198.8 L387.6 199.2 L388.2 199.7 L388.8 199.1 L389.4 199.7 L390.0 199.1 L390.7 199.7 L391.4 199.0 L392.1 199.9 L392.8 198.9 L393.6 198.9 L394.3 199.5 L395.0 199.8 L395.8 199.7 L396.5 199.4 L397.2 199.8 L398.0 199.2 L398.7 199.4 L399.4 199.3 L400.2 199.3 L400.9 199.1 L401.6 199.3 L402.3 199.7 L403.0 199.8 L403.7 199.5 L404.4 199.8 L405.0 199.5 L405.6 200.1 L406.3 199.1 L406.9 200.0 L407.4 200.2 L408.0 199.8 L409.0 199.9 L410.0 200.3 L410.8 199.4 L411.5 199.3" fill="none" stroke="#cc2036" stroke-width="1.40" stroke-linejoin="round" stroke-linecap="round" opacity="1"/>
<path d="M317.1 145.7 L317.2 146.1 L317.3 146.7 L317.3 147.5 L317.4 148.2 L317.5 148.6 L317.6 149.5 L317.7 149.7 L317.8 150.8 L317.9 151.1 L317.9 151.7 L318.0 152.1 L318.1 152.7 L318.2 153.6 L318.3 153.9 L318.4 154.9 L318.5 155.9 L318.6 156.0 L318.8 157.1 L318.9 157.6 L319.0 158.3 L319.1 159.2 L319.3 159.5 L319.4 160.5 L319.5 160.4 L319.7 161.7 L319.8 162.1 L319.9 162.3 L320.1 163.0 L320.2 164.4 L320.4 164.7 L320.5 165.1 L320.7 165.8 L320.8 166.9 L321.0 167.2 L321.2 167.4 L321.4 168.9 L321.5 169.4 L321.7 169.9 L321.9 170.5 L322.1 171.0 L322.3 171.2 L322.5 172.6 L322.7 172.8 L322.9 172.7 L323.1 174.1 L323.4 174.2 L323.6 174.4 L323.9 176.0 L324.2 175.8 L324.5 176.6 L324.7 176.8 L325.0 177.9 L325.3 178.5 L325.7 179.4 L326.0 180.1 L326.3 180.5 L326.6 180.8 L326.9 181.0 L327.2 182.2 L327.6 181.9 L327.9 182.5 L328.2 183.3 L328.5 183.6 L328.9 184.3 L329.2 184.3 L329.6 185.0 L330.0 185.2 L330.5 186.1 L330.9 186.4 L331.3 187.5 L331.7 187.2 L332.2 187.5 L332.6 188.6 L333.1 188.3 L333.6 189.5 L334.1 189.5 L334.6 189.4 L335.1 190.4 L335.6 191.2 L336.2 190.7 L336.7 191.3 L337.3 191.6 L337.8 192.3 L338.3 192.6 L338.9 191.8 L339.8 192.6 L340.8 193.4 L341.4 193.1 L341.9 193.4 L342.5 193.6 L343.2 193.1 L343.9 193.3 L344.6 194.5 L345.2 194.0 L345.8 194.2 L346.4 194.5 L347.3 194.9 L348.3 195.3 L349.4 194.6 L349.9 195.4 L350.5 194.7 L351.0 195.5 L351.6 196.0 L352.2 195.7 L352.8 195.7 L353.4 196.4 L354.0 196.3 L354.7 196.7 L355.3 196.4 L356.0 196.3 L356.6 196.8 L357.3 196.7 L358.0 196.3 L358.6 196.5 L359.3 197.6 L360.0 197.4 L360.7 196.8 L361.4 197.7 L362.1 197.8 L362.8 197.1 L363.6 198.3 L364.3 197.4 L365.0 197.9 L365.6 198.2 L366.1 198.0 L366.7 197.9 L367.3 198.1 L367.8 198.3 L368.4 198.8 L369.0 198.7 L369.6 198.9 L370.3 198.7 L370.9 198.4 L371.5 198.3 L372.1 199.0 L372.8 199.0 L373.4 198.3 L374.1 199.0 L374.7 198.5 L375.4 198.2 L376.0 198.7 L376.7 199.2 L377.3 198.8 L378.0 199.2 L378.6 199.3 L379.3 199.2 L379.9 198.7 L380.6 199.4 L381.3 198.5 L381.9 199.0 L382.6 198.5 L383.2 198.9 L383.8 199.5 L384.5 199.5 L385.1 199.7 L385.8 199.2 L386.4 199.2 L387.0 198.8 L387.6 199.2 L388.2 199.7 L388.8 199.1 L389.4 199.7 L390.0 199.1 L390.7 199.7 L391.4 199.0 L392.1 199.9 L392.8 198.9 L393.6 198.9 L394.3 199.5 L395.0 199.8 L395.8 199.7 L396.5 199.4 L397.2 199.8 L398.0 199.2 L398.7 199.4 L399.4 199.3 L400.2 199.3 L400.9 199.1 L401.6 199.3 L402.3 199.7 L403.0 199.8 L403.7 199.5 L404.4 199.8 L405.0 199.5 L405.6 200.1 L406.3 199.1 L406.9 200.0 L407.4 200.2 L408.0 199.8 L409.0 199.9 L410.0 200.3 L410.8 199.4 L411.5 199.3" fill="none" stroke="#cc2036" stroke-width="1.70" stroke-linejoin="round" stroke-linecap="round" opacity="1"/>
<path d="M296.5 133.3 L297.2 133.5 L297.9 133.4 L298.7 133.4 L299.5 133.4 L300.5 133.5 L301.5 133.9 L302.5 133.3 L303.1 133.9 L303.7 133.4 L304.3 134.1 L304.9 133.6 L305.6 134.1 L306.3 133.7 L307.0 134.1 L307.7 134.0 L308.4 134.4 L309.2 134.0 L309.9 134.1 L310.7 134.1 L311.3 133.9 L311.8 134.6 L312.4 134.1 L313.0 133.9 L313.6 134.0 L314.2 134.5 L314.8 134.7 L315.4 134.4 L316.0 134.7 L316.7 134.1 L317.3 134.7 L318.0 134.6 L318.9 134.2 L319.8 134.1 L320.8 134.4 L321.8 134.4 L322.8 134.5 L323.8 134.8 L324.9 134.3 L326.0 134.4 L326.6 134.5 L327.1 134.3 L327.7 134.6 L328.3 134.8 L328.8 134.5 L329.4 134.4 L330.0 134.9 L330.6 134.4 L331.2 135.1 L331.8 134.9 L332.4 134.5 L333.0 134.3 L333.6 135.1 L334.2 134.4 L334.9 135.1 L335.5 134.9 L336.1 135.0 L336.7 134.6 L337.4 135.1 L338.0 134.7 L338.7 135.0 L339.3 135.3 L339.9 135.0 L340.6 134.6 L341.2 134.7 L341.9 134.9 L342.5 135.3 L343.2 135.3 L343.8 134.9 L344.5 135.1 L345.1 134.9 L345.8 135.0 L346.5 134.9 L347.1 135.5 L347.8 135.0 L348.4 134.9 L349.1 135.2 L349.7 134.9 L350.4 134.8 L351.1 135.1 L351.7 135.5 L352.4 135.1 L353.0 135.0 L353.7 135.0 L354.3 135.3 L355.0 135.0 L355.6 135.3 L356.3 135.3 L356.9 134.8 L357.5 135.1 L358.2 135.6 L358.8 135.0 L359.4 135.5 L360.1 134.9 L360.7 135.3 L361.3 135.3 L362.0 135.5 L362.6 134.9 L363.2 135.0 L363.8 135.3 L364.4 135.8 L365.0 135.4 L365.6 135.7 L366.2 135.4 L366.9 135.9 L367.5 135.1 L368.2 135.8 L368.8 135.2 L369.5 135.2 L370.1 135.5 L370.8 135.4 L371.5 135.9 L372.2 135.9 L372.9 135.7 L373.5 135.3 L374.2 135.3 L374.9 135.5 L375.6 135.4 L376.3 135.3 L377.0 135.3 L377.8 135.4 L378.5 135.4 L379.2 135.2 L379.9 135.4 L380.6 136.0 L381.3 135.9 L382.0 135.7 L382.7 136.0 L383.4 136.0 L384.2 135.3 L384.9 135.2 L385.6 135.5 L386.3 135.7 L387.0 136.1 L387.7 135.3 L388.4 135.9 L389.1 136.0 L389.8 135.5 L390.5 135.9 L391.2 136.0 L391.9 135.4 L392.6 135.9 L393.2 135.7 L393.9 136.0 L394.6 135.4 L395.2 135.9 L395.9 135.3 L396.5 135.3 L397.2 135.7 L397.8 135.6 L398.4 135.7 L399.1 135.5 L399.7 136.2 L400.3 135.7 L400.9 135.8 L401.5 135.7 L402.0 136.2 L402.6 135.5 L403.2 136.2 L403.7 135.5 L404.8 136.2 L405.8 135.8 L406.8 135.9 L407.7 135.6 L408.6 136.2 L409.4 135.6 L410.2 136.1 L410.9 136.0 L411.5 136.3" fill="none" stroke="#1f5494" stroke-width="1.35" stroke-linejoin="round" stroke-linecap="round" opacity="1"/>
<line x1="310.50" y1="133.60" x2="310.50" y2="126.80" stroke="#111111" stroke-width="1.50"/>
<text x="410.50" y="142.30" font-size="5.80" fill="#2f67a6" stroke="#2f67a6" text-anchor="end" font-weight="normal" >Vehicle</text>
<text x="412.60" y="191.60" font-size="6.05" fill="#222" stroke="#222" text-anchor="end" font-weight="normal" >Arachidonic acid 10µM</text>
<text x="415.10" y="205.80" font-size="5.10" fill="#cc2036" stroke="#cc2036" text-anchor="end" font-weight="normal" >Arachidonic acid 10µM + Mab#9 2.5 µg/ml</text>
<line x1="448.10" y1="131.20" x2="448.10" y2="196.50" stroke="#5c5c5c" stroke-width="2.00"/>
<line x1="444.90" y1="196.00" x2="448.10" y2="196.00" stroke="#333" stroke-width="1.10"/>
<text x="442.60" y="197.90" font-size="5.90" fill="#333" stroke="#333" text-anchor="end" font-weight="normal" >0</text>
<line x1="444.90" y1="183.10" x2="448.10" y2="183.10" stroke="#333" stroke-width="1.10"/>
<text x="442.60" y="185.00" font-size="5.90" fill="#333" stroke="#333" text-anchor="end" font-weight="normal" >20</text>
<line x1="444.90" y1="170.20" x2="448.10" y2="170.20" stroke="#333" stroke-width="1.10"/>
<text x="442.60" y="172.10" font-size="5.90" fill="#333" stroke="#333" text-anchor="end" font-weight="normal" >40</text>
<line x1="444.90" y1="157.30" x2="448.10" y2="157.30" stroke="#333" stroke-width="1.10"/>
<text x="442.60" y="159.20" font-size="5.90" fill="#333" stroke="#333" text-anchor="end" font-weight="normal" >60</text>
<line x1="444.90" y1="144.40" x2="448.10" y2="144.40" stroke="#333" stroke-width="1.10"/>
<text x="442.60" y="146.30" font-size="5.90" fill="#333" stroke="#333" text-anchor="end" font-weight="normal" >80</text>
<line x1="444.90" y1="131.50" x2="448.10" y2="131.50" stroke="#333" stroke-width="1.10"/>
<text x="442.60" y="133.40" font-size="5.90" fill="#333" stroke="#333" text-anchor="end" font-weight="normal" >100</text>
<line x1="447.50" y1="196.00" x2="512.30" y2="196.00" stroke="#151515" stroke-width="1.30"/>
<line x1="461.00" y1="196.00" x2="461.00" y2="199.30" stroke="#333" stroke-width="1.00"/>
<line x1="480.30" y1="196.00" x2="480.30" y2="199.30" stroke="#333" stroke-width="1.00"/>
<line x1="499.60" y1="196.00" x2="499.60" y2="199.30" stroke="#333" stroke-width="1.00"/>
<text transform="translate(431.40 164.30) rotate(-90)" font-size="7.00" fill="#222" stroke="#222" text-anchor="middle" textLength="32.80" lengthAdjust="spacingAndGlyphs">% Aggregation</text>
<path d="M454.80 196.00 L454.80 190.84 L467.20 190.84 L467.20 196.00" fill="none" stroke="#2a69a8" stroke-width="1.10" stroke-linejoin="miter"/>
<circle cx="461.00" cy="187.94" r="0.95" fill="#2a69a8"/>
<circle cx="459.00" cy="190.19" r="0.95" fill="#2a69a8"/>
<circle cx="462.60" cy="189.87" r="0.95" fill="#2a69a8"/>
<circle cx="459.30" cy="193.03" r="0.95" fill="#2a69a8"/>
<circle cx="462.60" cy="192.32" r="0.95" fill="#2a69a8"/>
<path d="M474.30 196.00 L474.30 134.72 L486.30 134.72 L486.30 196.00" fill="none" stroke="#111111" stroke-width="1.10" stroke-linejoin="miter"/>
<line x1="480.30" y1="134.72" x2="480.30" y2="137.31" stroke="#111111" stroke-width="1.05"/>
<line x1="478.05" y1="137.31" x2="482.55" y2="137.31" stroke="#111111" stroke-width="1.05"/>
<circle cx="475.30" cy="134.72" r="0.95" fill="#111111"/>
<circle cx="477.80" cy="134.72" r="0.95" fill="#111111"/>
<circle cx="480.30" cy="134.72" r="0.95" fill="#111111"/>
<circle cx="482.80" cy="134.72" r="0.95" fill="#111111"/>
<circle cx="485.30" cy="134.72" r="0.95" fill="#111111"/>
<circle cx="480.30" cy="139.24" r="0.95" fill="#111111"/>
<path d="M493.55 196.00 L493.55 142.47 L505.65 142.47 L505.65 196.00" fill="none" stroke="#cc2036" stroke-width="1.10" stroke-linejoin="miter"/>
<line x1="499.60" y1="142.47" x2="499.60" y2="137.95" stroke="#cc2036" stroke-width="1.05"/>
<line x1="497.35" y1="137.95" x2="501.85" y2="137.95" stroke="#cc2036" stroke-width="1.05"/>
<line x1="499.60" y1="142.47" x2="499.60" y2="145.88" stroke="#cc2036" stroke-width="1.05"/>
<line x1="497.35" y1="145.88" x2="501.85" y2="145.88" stroke="#cc2036" stroke-width="1.05"/>
<circle cx="499.60" cy="133.18" r="0.95" fill="#cc2036"/>
<circle cx="499.60" cy="144.08" r="0.95" fill="#cc2036"/>
<circle cx="499.60" cy="146.98" r="0.95" fill="#cc2036"/>
<text transform="translate(461.60 203.10) rotate(-45)" font-size="5.50" fill="#333" stroke="#333" text-anchor="end">Vehicle</text>
<text transform="translate(483.70 203.10) rotate(-45)" font-size="5.50" fill="#333" stroke="#333" text-anchor="end">Arachidonic acid 10µM</text>
<text transform="translate(503.00 203.10) rotate(-45)" font-size="5.50" fill="#333" stroke="#333" text-anchor="end">+Mab#9 2.5µg/mL</text>
<text x="277.60" y="242.70" font-size="11.0" fill="#000" stroke="#000" style="stroke-width:0.3px" font-weight="bold">G</text>
<line x1="296.40" y1="249.20" x2="296.40" y2="320.30" stroke="#262626" stroke-width="1.30"/>
<line x1="293.20" y1="249.70" x2="296.40" y2="249.70" stroke="#333" stroke-width="1.10"/>
<text x="291.30" y="251.30" font-size="6.00" fill="#333" stroke="#333" text-anchor="end" font-weight="normal" >0</text>
<line x1="293.20" y1="263.82" x2="296.40" y2="263.82" stroke="#333" stroke-width="1.10"/>
<text x="291.30" y="265.42" font-size="6.00" fill="#333" stroke="#333" text-anchor="end" font-weight="normal" >20</text>
<line x1="293.20" y1="277.94" x2="296.40" y2="277.94" stroke="#333" stroke-width="1.10"/>
<text x="291.30" y="279.54" font-size="6.00" fill="#333" stroke="#333" text-anchor="end" font-weight="normal" >40</text>
<line x1="293.20" y1="292.06" x2="296.40" y2="292.06" stroke="#333" stroke-width="1.10"/>
<text x="291.30" y="293.66" font-size="6.00" fill="#333" stroke="#333" text-anchor="end" font-weight="normal" >60</text>
<line x1="293.20" y1="306.18" x2="296.40" y2="306.18" stroke="#333" stroke-width="1.10"/>
<text x="291.30" y="307.78" font-size="6.00" fill="#333" stroke="#333" text-anchor="end" font-weight="normal" >80</text>
<line x1="293.20" y1="320.30" x2="296.40" y2="320.30" stroke="#333" stroke-width="1.10"/>
<text x="291.30" y="321.90" font-size="6.00" fill="#333" stroke="#333" text-anchor="end" font-weight="normal" >100</text>
<line x1="295.70" y1="320.30" x2="311.40" y2="320.30" stroke="#2a2a2a" stroke-width="1.20"/>
<text x="296.70" y="326.90" font-size="5.60" fill="#222" stroke="#222" text-anchor="start" font-weight="normal" textLength="14.20" lengthAdjust="spacingAndGlyphs" >1 min</text>
<text transform="translate(279.90 285.30) rotate(-90)" font-size="7.00" fill="#222" stroke="#222" text-anchor="middle" textLength="32.80" lengthAdjust="spacingAndGlyphs">% Aggregation</text>
<path d="M296.5 251.4 L297.4 251.3 L298.0 251.0 L298.6 251.3 L299.3 250.9 L300.0 251.2 L300.8 251.3 L301.6 250.9 L302.4 250.8 L303.2 251.2 L303.9 250.9 L304.7 251.1 L305.3 251.2 L306.0 251.3 L307.0 251.2 L307.8 251.6 L308.5 251.8 L309.2 252.5 L309.4 253.0 L309.7 254.0 L310.0 254.7 L310.1 255.5 L310.3 255.8 L310.4 256.4 L310.5 256.8 L310.6 257.5 L310.7 258.6 L310.9 259.1 L311.0 259.9 L311.1 260.4 L311.2 261.3 L311.3 261.8 L311.4 262.1 L311.5 262.9 L311.6 263.7 L311.7 263.9 L311.8 265.3 L311.9 265.0 L312.0 266.2 L312.1 267.1 L312.2 267.6 L312.3 267.5 L312.4 268.0 L312.5 269.4 L312.6 269.6 L312.7 269.8 L312.8 270.4 L312.9 271.9 L313.0 271.4 L313.1 272.5 L313.2 274.3 L313.3 273.7 L313.4 275.5 L313.5 274.4 L313.6 275.4 L313.7 275.7 L313.8 277.8 L313.9 278.0 L314.0 279.1 L314.2 279.9 L314.3 280.2 L314.5 279.4 L314.6 281.0 L314.8 280.6 L315.0 283.1 L315.2 282.8 L315.4 283.6 L315.6 285.3 L315.8 286.2 L316.0 285.9 L316.2 286.0 L316.4 287.7 L316.6 288.2 L316.8 287.4 L317.1 288.6 L317.3 290.4 L317.5 291.1 L317.7 291.5 L318.0 291.0 L318.2 290.8 L318.5 293.2 L318.8 292.1 L319.1 293.6 L319.4 293.6 L319.7 295.3 L320.0 294.6 L320.3 295.2 L320.7 296.8 L321.0 297.0 L321.4 298.2 L321.8 296.6 L322.2 297.1 L322.6 299.0 L323.0 299.0 L323.4 300.4 L323.8 299.9 L324.3 299.4 L324.7 300.8 L325.2 300.8 L325.7 302.5 L326.2 303.0 L326.7 303.6 L327.2 302.2 L327.8 303.7 L328.3 303.2 L328.9 305.5 L329.5 303.9 L330.0 305.4 L330.6 305.8 L331.2 304.9 L331.8 306.1 L332.4 305.2 L333.0 305.3 L333.6 306.1 L334.3 305.8 L334.9 306.9 L335.6 307.7 L336.2 308.5 L336.8 307.1 L337.5 307.9 L338.1 308.6 L338.7 307.8 L339.3 308.0 L339.9 308.3 L340.6 309.5 L341.2 308.5 L341.8 309.6 L342.4 308.3 L343.0 308.8 L343.6 308.8 L344.3 308.8 L344.9 308.7 L345.5 309.4 L346.1 310.5 L346.7 310.2 L347.3 311.1 L347.9 309.5 L348.9 309.7 L349.8 309.6 L350.4 310.3 L351.0 309.5 L351.6 311.1 L352.1 310.3 L352.7 309.4 L353.2 310.6 L353.8 310.4 L354.4 309.9 L355.0 310.2 L355.9 311.2 L356.8 312.0 L357.8 311.2 L358.8 310.4 L359.9 310.0 L360.5 310.7 L361.0 310.6 L361.6 311.1 L362.2 311.2 L362.8 310.8 L363.4 310.6 L364.1 312.5 L364.7 312.6 L365.3 312.1 L366.0 312.6 L366.6 311.8 L367.3 312.3 L368.0 311.6 L368.7 312.2 L369.3 312.7 L370.0 312.4 L370.7 312.7 L371.4 312.3 L372.1 311.7 L372.8 312.8 L373.5 313.1 L374.3 311.5 L375.0 311.4 L375.7 311.1 L376.4 311.7 L377.1 311.6 L377.8 311.7 L378.6 311.6 L379.3 312.0 L380.0 311.7 L381.1 313.7 L381.7 311.5 L382.3 311.4 L382.9 313.6 L383.5 312.4 L384.1 313.3 L384.7 312.3 L385.4 311.6 L386.0 311.6 L386.7 313.8 L387.3 311.7 L388.0 312.7 L388.7 312.3 L389.4 313.2 L390.1 312.6 L390.8 313.6 L391.5 312.2 L392.2 313.0 L392.9 314.1 L393.6 313.1 L394.3 314.1 L395.0 312.0 L395.7 314.0 L396.4 312.8 L397.1 314.3 L397.8 313.6 L398.5 312.5 L399.2 313.8 L399.9 312.4 L400.5 313.3 L401.2 313.8 L401.9 312.4 L402.5 312.2 L403.2 314.1 L403.8 312.5 L404.4 313.9 L405.0 313.2 L405.6 312.6 L406.2 314.2 L406.8 313.0 L407.3 312.8 L408.4 314.3 L409.4 314.6 L410.3 313.0 L411.1 314.6 L411.8 312.5 L412.5 314.2" fill="none" stroke="#111111" stroke-width="1.40" stroke-linejoin="round" stroke-linecap="round" opacity="1"/>
<path d="M311.6 263.7 L311.7 263.9 L311.8 265.3 L311.9 265.0 L312.0 266.2 L312.1 267.1 L312.2 267.6 L312.3 267.5 L312.4 268.0 L312.5 269.4 L312.6 269.6 L312.7 269.8 L312.8 270.4 L312.9 271.9 L313.0 271.4 L313.1 272.5 L313.2 274.3 L313.3 273.7 L313.4 275.5 L313.5 274.4 L313.6 275.4 L313.7 275.7 L313.8 277.8 L313.9 278.0 L314.0 279.1 L314.2 279.9 L314.3 280.2 L314.5 279.4 L314.6 281.0 L314.8 280.6 L315.0 283.1 L315.2 282.8 L315.4 283.6 L315.6 285.3 L315.8 286.2 L316.0 285.9 L316.2 286.0 L316.4 287.7 L316.6 288.2 L316.8 287.4 L317.1 288.6 L317.3 290.4 L317.5 291.1 L317.7 291.5 L318.0 291.0 L318.2 290.8 L318.5 293.2 L318.8 292.1 L319.1 293.6 L319.4 293.6 L319.7 295.3 L320.0 294.6 L320.3 295.2 L320.7 296.8 L321.0 297.0 L321.4 298.2 L321.8 296.6 L322.2 297.1 L322.6 299.0 L323.0 299.0 L323.4 300.4 L323.8 299.9 L324.3 299.4 L324.7 300.8 L325.2 300.8 L325.7 302.5 L326.2 303.0 L326.7 303.6 L327.2 302.2 L327.8 303.7 L328.3 303.2 L328.9 305.5 L329.5 303.9 L330.0 305.4 L330.6 305.8 L331.2 304.9 L331.8 306.1 L332.4 305.2 L333.0 305.3 L333.6 306.1 L334.3 305.8 L334.9 306.9 L335.6 307.7 L336.2 308.5 L336.8 307.1 L337.5 307.9 L338.1 308.6 L338.7 307.8 L339.3 308.0 L339.9 308.3 L340.6 309.5 L341.2 308.5 L341.8 309.6 L342.4 308.3 L343.0 308.8 L343.6 308.8 L344.3 308.8 L344.9 308.7 L345.5 309.4 L346.1 310.5 L346.7 310.2 L347.3 311.1 L347.9 309.5 L348.9 309.7 L349.8 309.6 L350.4 310.3 L351.0 309.5 L351.6 311.1 L352.1 310.3 L352.7 309.4 L353.2 310.6 L353.8 310.4 L354.4 309.9 L355.0 310.2 L355.9 311.2 L356.8 312.0 L357.8 311.2 L358.8 310.4 L359.9 310.0 L360.5 310.7 L361.0 310.6 L361.6 311.1 L362.2 311.2 L362.8 310.8 L363.4 310.6 L364.1 312.5 L364.7 312.6 L365.3 312.1 L366.0 312.6 L366.6 311.8 L367.3 312.3 L368.0 311.6 L368.7 312.2 L369.3 312.7 L370.0 312.4 L370.7 312.7 L371.4 312.3 L372.1 311.7 L372.8 312.8 L373.5 313.1 L374.3 311.5 L375.0 311.4 L375.7 311.1 L376.4 311.7 L377.1 311.6 L377.8 311.7 L378.6 311.6 L379.3 312.0 L380.0 311.7 L381.1 313.7 L381.7 311.5 L382.3 311.4 L382.9 313.6 L383.5 312.4 L384.1 313.3 L384.7 312.3 L385.4 311.6 L386.0 311.6 L386.7 313.8 L387.3 311.7 L388.0 312.7 L388.7 312.3 L389.4 313.2 L390.1 312.6 L390.8 313.6 L391.5 312.2 L392.2 313.0 L392.9 314.1 L393.6 313.1 L394.3 314.1 L395.0 312.0 L395.7 314.0 L396.4 312.8 L397.1 314.3 L397.8 313.6 L398.5 312.5 L399.2 313.8 L399.9 312.4 L400.5 313.3 L401.2 313.8 L401.9 312.4 L402.5 312.2 L403.2 314.1 L403.8 312.5 L404.4 313.9 L405.0 313.2 L405.6 312.6 L406.2 314.2 L406.8 313.0 L407.3 312.8 L408.4 314.3 L409.4 314.6 L410.3 313.0 L411.1 314.6 L411.8 312.5 L412.5 314.2" fill="none" stroke="#111111" stroke-width="1.90" stroke-linejoin="round" stroke-linecap="round" opacity="1"/>
<path d="M296.5 251.2 L297.4 251.1 L298.1 251.1 L298.7 251.1 L299.5 251.2 L300.3 251.0 L301.1 251.0 L301.9 251.1 L302.7 251.0 L303.5 250.9 L304.2 251.0 L304.9 251.2 L306.0 251.1 L306.6 251.3 L307.1 251.7 L307.7 251.6 L307.9 252.6 L308.2 253.0 L308.4 253.7 L308.6 254.7 L308.8 255.8 L308.9 256.2 L309.0 256.7 L309.1 257.3 L309.2 257.9 L309.3 258.8 L309.4 259.5 L309.4 260.0 L309.5 260.7 L309.6 261.6 L309.7 262.2 L309.8 262.9 L309.9 263.7 L310.0 263.9 L310.0 265.1 L310.1 265.4 L310.2 265.7 L310.3 266.8 L310.4 267.1 L310.5 267.9 L310.6 269.0 L310.7 269.6 L310.8 270.1 L310.9 271.0 L310.9 271.7 L311.0 271.8 L311.1 272.0 L311.2 273.8 L311.3 273.2 L311.4 274.3 L311.5 274.4 L311.6 275.7 L311.7 276.6 L311.8 276.1 L311.9 277.5 L312.1 278.0 L312.2 279.1 L312.3 280.2 L312.5 280.4 L312.6 279.9 L312.8 281.1 L312.9 281.9 L313.0 281.9 L313.2 283.7 L313.3 283.4 L313.5 284.0 L313.6 284.3 L313.8 285.5 L313.9 286.6 L314.1 285.9 L314.2 287.2 L314.4 287.4 L314.6 287.6 L314.7 288.7 L314.9 289.7 L315.1 290.2 L315.3 291.5 L315.5 291.5 L315.7 292.5 L315.9 292.7 L316.2 293.2 L316.4 294.2 L316.7 294.7 L316.9 295.1 L317.2 294.9 L317.5 295.4 L317.8 297.0 L318.1 296.1 L318.4 297.3 L318.8 298.7 L319.1 298.2 L319.5 299.1 L319.8 299.4 L320.2 300.5 L320.6 301.4 L321.1 300.5 L321.5 301.6 L321.9 303.0 L322.4 302.7 L322.8 304.2 L323.3 303.4 L323.8 304.3 L324.3 304.1 L324.8 305.8 L325.3 305.5 L325.9 306.5 L326.4 306.7 L327.0 306.3 L327.5 307.7 L328.1 306.7 L328.7 308.6 L329.3 308.6 L329.9 308.0 L330.6 308.9 L331.2 308.7 L331.7 309.1 L332.3 310.2 L332.8 309.5 L333.3 309.9 L333.9 309.1 L334.4 309.3 L335.0 310.1 L335.6 310.2 L336.2 311.2 L336.8 310.7 L337.5 311.4 L338.2 310.9 L339.0 311.7 L339.8 310.7 L340.8 310.3 L341.8 311.7 L342.9 311.7 L343.5 310.9 L344.0 311.0 L344.6 311.5 L345.2 312.3 L345.8 312.0 L346.4 311.6 L347.0 311.9 L347.6 311.6 L348.3 311.7 L349.0 311.4 L349.7 312.4 L350.4 311.2 L351.1 312.2 L351.8 311.4 L352.6 311.6 L353.4 312.8 L354.2 313.0 L355.0 312.4 L356.0 313.3 L357.1 312.9 L358.1 312.7 L358.7 312.8 L359.3 311.8 L359.8 312.0 L360.4 313.2 L361.0 312.6 L361.5 313.7 L362.1 312.4 L362.7 312.5 L363.3 312.4 L363.9 313.8 L364.5 313.1 L365.2 312.6 L365.8 312.3 L366.4 313.3 L367.1 312.3 L367.7 313.9 L368.3 312.6 L369.0 313.8 L369.6 314.0 L370.3 313.0 L371.0 313.5 L371.6 313.8 L372.3 313.4 L373.0 313.3 L373.7 314.2 L374.4 313.1 L375.1 313.7 L375.7 312.7 L376.5 313.8 L377.2 314.5 L377.9 313.5 L378.6 314.2 L379.3 313.5 L380.0 313.6 L381.1 313.6 L381.7 314.5 L382.3 313.6 L382.9 313.1 L383.5 314.0 L384.1 314.1 L384.7 314.1 L385.4 313.9 L386.0 313.6 L386.7 314.4 L387.3 313.6 L388.0 313.6 L388.7 313.5 L389.4 313.3 L390.1 313.6 L390.8 314.4 L391.5 313.9 L392.2 314.0 L392.9 313.7 L393.6 313.7 L394.3 314.5 L395.0 315.0 L395.7 313.5 L396.4 314.6 L397.1 315.1 L397.8 314.3 L398.5 315.0 L399.2 313.7 L399.9 314.8 L400.5 313.6 L401.2 313.8 L401.9 313.6 L402.5 313.4 L403.2 314.8 L403.8 314.1 L404.4 314.1 L405.0 314.8 L405.6 313.9 L406.2 315.0 L406.8 313.8 L407.3 315.3 L408.4 315.1 L409.4 314.4 L410.3 315.2 L411.1 315.1 L411.8 315.3 L412.5 314.1" fill="none" stroke="#cc2036" stroke-width="1.40" stroke-linejoin="round" stroke-linecap="round" opacity="1"/>
<path d="M309.9 263.7 L310.0 263.9 L310.0 265.1 L310.1 265.4 L310.2 265.7 L310.3 266.8 L310.4 267.1 L310.5 267.9 L310.6 269.0 L310.7 269.6 L310.8 270.1 L310.9 271.0 L310.9 271.7 L311.0 271.8 L311.1 272.0 L311.2 273.8 L311.3 273.2 L311.4 274.3 L311.5 274.4 L311.6 275.7 L311.7 276.6 L311.8 276.1 L311.9 277.5 L312.1 278.0 L312.2 279.1 L312.3 280.2 L312.5 280.4 L312.6 279.9 L312.8 281.1 L312.9 281.9 L313.0 281.9 L313.2 283.7 L313.3 283.4 L313.5 284.0 L313.6 284.3 L313.8 285.5 L313.9 286.6 L314.1 285.9 L314.2 287.2 L314.4 287.4 L314.6 287.6 L314.7 288.7 L314.9 289.7 L315.1 290.2 L315.3 291.5 L315.5 291.5 L315.7 292.5 L315.9 292.7 L316.2 293.2 L316.4 294.2 L316.7 294.7 L316.9 295.1 L317.2 294.9 L317.5 295.4 L317.8 297.0 L318.1 296.1 L318.4 297.3 L318.8 298.7 L319.1 298.2 L319.5 299.1 L319.8 299.4 L320.2 300.5 L320.6 301.4 L321.1 300.5 L321.5 301.6 L321.9 303.0 L322.4 302.7 L322.8 304.2 L323.3 303.4 L323.8 304.3 L324.3 304.1 L324.8 305.8 L325.3 305.5 L325.9 306.5 L326.4 306.7 L327.0 306.3 L327.5 307.7 L328.1 306.7 L328.7 308.6 L329.3 308.6 L329.9 308.0 L330.6 308.9 L331.2 308.7 L331.7 309.1 L332.3 310.2 L332.8 309.5 L333.3 309.9 L333.9 309.1 L334.4 309.3 L335.0 310.1 L335.6 310.2 L336.2 311.2 L336.8 310.7 L337.5 311.4 L338.2 310.9 L339.0 311.7 L339.8 310.7 L340.8 310.3 L341.8 311.7 L342.9 311.7 L343.5 310.9 L344.0 311.0 L344.6 311.5 L345.2 312.3 L345.8 312.0 L346.4 311.6 L347.0 311.9 L347.6 311.6 L348.3 311.7 L349.0 311.4 L349.7 312.4 L350.4 311.2 L351.1 312.2 L351.8 311.4 L352.6 311.6 L353.4 312.8 L354.2 313.0 L355.0 312.4 L356.0 313.3 L357.1 312.9 L358.1 312.7 L358.7 312.8 L359.3 311.8 L359.8 312.0 L360.4 313.2 L361.0 312.6 L361.5 313.7 L362.1 312.4 L362.7 312.5 L363.3 312.4 L363.9 313.8 L364.5 313.1 L365.2 312.6 L365.8 312.3 L366.4 313.3 L367.1 312.3 L367.7 313.9 L368.3 312.6 L369.0 313.8 L369.6 314.0 L370.3 313.0 L371.0 313.5 L371.6 313.8 L372.3 313.4 L373.0 313.3 L373.7 314.2 L374.4 313.1 L375.1 313.7 L375.7 312.7 L376.5 313.8 L377.2 314.5 L377.9 313.5 L378.6 314.2 L379.3 313.5 L380.0 313.6 L381.1 313.6 L381.7 314.5 L382.3 313.6 L382.9 313.1 L383.5 314.0 L384.1 314.1 L384.7 314.1 L385.4 313.9 L386.0 313.6 L386.7 314.4 L387.3 313.6 L388.0 313.6 L388.7 313.5 L389.4 313.3 L390.1 313.6 L390.8 314.4 L391.5 313.9 L392.2 314.0 L392.9 313.7 L393.6 313.7 L394.3 314.5 L395.0 315.0 L395.7 313.5 L396.4 314.6 L397.1 315.1 L397.8 314.3 L398.5 315.0 L399.2 313.7 L399.9 314.8 L400.5 313.6 L401.2 313.8 L401.9 313.6 L402.5 313.4 L403.2 314.8 L403.8 314.1 L404.4 314.1 L405.0 314.8 L405.6 313.9 L406.2 315.0 L406.8 313.8 L407.3 315.3 L408.4 315.1 L409.4 314.4 L410.3 315.2 L411.1 315.1 L411.8 315.3 L412.5 314.1" fill="none" stroke="#cc2036" stroke-width="1.70" stroke-linejoin="round" stroke-linecap="round" opacity="1"/>
<path d="M296.5 250.9 L297.1 250.8 L297.8 251.0 L298.6 251.1 L299.3 251.3 L300.2 250.9 L301.0 251.1 L301.9 250.8 L302.9 251.0 L303.9 250.6 L304.9 251.1 L305.9 251.2 L307.0 251.1 L307.6 251.4 L308.2 251.1 L308.7 250.9 L309.3 251.5 L309.9 251.0 L310.5 250.8 L311.1 251.1 L311.7 251.3 L312.3 250.9 L312.9 250.8 L313.6 250.7 L314.2 251.1 L314.8 251.0 L315.5 251.4 L316.1 250.8 L316.8 251.2 L317.4 250.8 L318.1 250.8 L318.8 250.8 L319.4 251.2 L320.1 251.3 L320.8 251.1 L321.5 251.4 L322.2 251.4 L322.8 251.5 L323.5 251.3 L324.2 251.1 L324.9 251.1 L325.6 251.4 L326.3 251.0 L327.0 250.9 L327.7 251.6 L328.4 251.6 L329.1 251.3 L329.9 251.5 L330.6 250.8 L331.3 251.4 L332.0 251.3 L332.7 251.0 L333.4 251.0 L334.1 251.4 L334.8 251.6 L335.5 251.4 L336.2 250.8 L337.0 251.3 L337.7 251.1 L338.4 251.0 L339.1 250.8 L339.8 251.3 L340.5 251.0 L341.2 251.1 L341.9 251.2 L342.6 251.6 L343.3 251.0 L343.9 251.3 L344.6 251.4 L345.3 251.5 L346.0 251.6 L346.7 251.0 L347.3 251.6 L348.0 250.9 L348.7 251.2 L349.3 251.5 L350.0 251.6 L350.6 251.1 L351.3 251.4 L351.9 251.5 L352.5 250.9 L353.2 251.5 L353.8 251.6 L354.4 251.0 L355.0 251.1 L355.6 251.2 L356.2 251.7 L356.9 251.7 L357.5 251.0 L358.2 251.2 L358.8 251.0 L359.5 250.9 L360.1 251.1 L360.8 251.7 L361.5 251.7 L362.1 251.1 L362.8 251.5 L363.5 251.5 L364.2 251.3 L364.8 251.7 L365.5 251.0 L366.2 251.2 L366.9 251.0 L367.6 251.7 L368.3 251.6 L369.0 251.3 L369.7 251.0 L370.4 251.7 L371.1 251.6 L371.9 251.7 L372.6 251.8 L373.3 251.5 L374.0 251.4 L374.7 251.7 L375.4 251.1 L376.1 251.7 L376.8 251.2 L377.6 251.4 L378.3 251.8 L379.0 251.0 L379.7 251.3 L380.4 251.7 L381.1 251.3 L381.8 251.8 L382.5 251.6 L383.2 251.2 L383.9 251.4 L384.6 251.3 L385.3 251.6 L386.0 251.7 L386.7 251.5 L387.4 251.1 L388.1 251.8 L388.8 251.2 L389.5 251.6 L390.1 251.8 L390.8 251.4 L391.5 251.1 L392.1 251.5 L392.8 251.1 L393.4 251.2 L394.1 251.2 L394.7 251.2 L395.3 251.6 L396.0 251.7 L396.6 251.5 L397.2 251.9 L397.8 251.1 L398.4 251.4 L399.0 251.4 L399.6 251.6 L400.2 251.7 L400.8 251.3 L401.3 251.5 L401.9 251.4 L403.0 251.4 L404.1 251.2 L405.1 251.8 L406.1 251.1 L407.0 251.5 L408.0 251.3 L408.8 251.5 L409.7 251.8 L410.4 251.9 L411.2 251.9 L411.9 251.7 L412.5 251.4" fill="none" stroke="#1f5494" stroke-width="1.35" stroke-linejoin="round" stroke-linecap="round" opacity="1"/>
<line x1="306.20" y1="251.20" x2="306.20" y2="244.80" stroke="#cc2036" stroke-width="1.40"/>
<line x1="307.90" y1="251.20" x2="307.90" y2="246.60" stroke="#111111" stroke-width="1.50"/>
<text x="411.30" y="257.50" font-size="5.80" fill="#2f67a6" stroke="#2f67a6" text-anchor="end" font-weight="normal" >Vehicle</text>
<text x="410.50" y="309.25" font-size="6.00" fill="#222" stroke="#222" text-anchor="end" font-weight="normal" >TRAP 3µM</text>
<text x="412.50" y="322.10" font-size="6.22" fill="#cc2036" stroke="#cc2036" text-anchor="end" font-weight="normal" >TRAP 3µM + Mab#9 2.5 µg/ml</text>
<line x1="448.10" y1="248.80" x2="448.10" y2="314.00" stroke="#5c5c5c" stroke-width="2.00"/>
<line x1="444.90" y1="313.50" x2="448.10" y2="313.50" stroke="#333" stroke-width="1.10"/>
<text x="442.60" y="315.40" font-size="5.90" fill="#333" stroke="#333" text-anchor="end" font-weight="normal" >0</text>
<line x1="444.90" y1="300.62" x2="448.10" y2="300.62" stroke="#333" stroke-width="1.10"/>
<text x="442.60" y="302.52" font-size="5.90" fill="#333" stroke="#333" text-anchor="end" font-weight="normal" >20</text>
<line x1="444.90" y1="287.74" x2="448.10" y2="287.74" stroke="#333" stroke-width="1.10"/>
<text x="442.60" y="289.64" font-size="5.90" fill="#333" stroke="#333" text-anchor="end" font-weight="normal" >40</text>
<line x1="444.90" y1="274.86" x2="448.10" y2="274.86" stroke="#333" stroke-width="1.10"/>
<text x="442.60" y="276.76" font-size="5.90" fill="#333" stroke="#333" text-anchor="end" font-weight="normal" >60</text>
<line x1="444.90" y1="261.98" x2="448.10" y2="261.98" stroke="#333" stroke-width="1.10"/>
<text x="442.60" y="263.88" font-size="5.90" fill="#333" stroke="#333" text-anchor="end" font-weight="normal" >80</text>
<line x1="444.90" y1="249.10" x2="448.10" y2="249.10" stroke="#333" stroke-width="1.10"/>
<text x="442.60" y="251.00" font-size="5.90" fill="#333" stroke="#333" text-anchor="end" font-weight="normal" >100</text>
<line x1="447.50" y1="313.50" x2="512.30" y2="313.50" stroke="#151515" stroke-width="1.30"/>
<line x1="461.00" y1="313.50" x2="461.00" y2="316.80" stroke="#333" stroke-width="1.00"/>
<line x1="480.30" y1="313.50" x2="480.30" y2="316.80" stroke="#333" stroke-width="1.00"/>
<line x1="499.60" y1="313.50" x2="499.60" y2="316.80" stroke="#333" stroke-width="1.00"/>
<text transform="translate(431.40 282.50) rotate(-90)" font-size="7.00" fill="#222" stroke="#222" text-anchor="middle" textLength="32.80" lengthAdjust="spacingAndGlyphs">% Aggregation</text>
<path d="M454.80 313.50 L454.80 308.67 L467.20 308.67 L467.20 313.50" fill="none" stroke="#2a69a8" stroke-width="1.10" stroke-linejoin="miter"/>
<circle cx="461.00" cy="305.77" r="0.95" fill="#2a69a8"/>
<circle cx="459.00" cy="307.70" r="0.95" fill="#2a69a8"/>
<circle cx="462.60" cy="307.38" r="0.95" fill="#2a69a8"/>
<circle cx="459.30" cy="310.54" r="0.95" fill="#2a69a8"/>
<circle cx="462.60" cy="309.83" r="0.95" fill="#2a69a8"/>
<path d="M474.30 313.50 L474.30 255.99 L486.30 255.99 L486.30 313.50" fill="none" stroke="#111111" stroke-width="1.10" stroke-linejoin="miter"/>
<circle cx="475.30" cy="255.86" r="0.95" fill="#111111"/>
<circle cx="478.10" cy="255.22" r="0.95" fill="#111111"/>
<circle cx="480.30" cy="254.25" r="0.95" fill="#111111"/>
<circle cx="482.50" cy="256.18" r="0.95" fill="#111111"/>
<circle cx="485.30" cy="255.54" r="0.95" fill="#111111"/>
<path d="M493.55 313.50 L493.55 259.40 L505.65 259.40 L505.65 313.50" fill="none" stroke="#cc2036" stroke-width="1.10" stroke-linejoin="miter"/>
<line x1="499.60" y1="259.40" x2="499.60" y2="255.54" stroke="#cc2036" stroke-width="1.05"/>
<line x1="497.35" y1="255.54" x2="501.85" y2="255.54" stroke="#cc2036" stroke-width="1.05"/>
<line x1="499.60" y1="259.40" x2="499.60" y2="260.69" stroke="#cc2036" stroke-width="1.05"/>
<line x1="497.35" y1="260.69" x2="501.85" y2="260.69" stroke="#cc2036" stroke-width="1.05"/>
<circle cx="499.60" cy="254.90" r="0.95" fill="#cc2036"/>
<circle cx="498.60" cy="260.69" r="0.95" fill="#cc2036"/>
<circle cx="501.10" cy="260.05" r="0.95" fill="#cc2036"/>
<text transform="translate(461.60 320.60) rotate(-45)" font-size="5.50" fill="#333" stroke="#333" text-anchor="end">Vehicle</text>
<text transform="translate(483.70 320.60) rotate(-45)" font-size="5.50" fill="#333" stroke="#333" text-anchor="end">TRAP 3µM</text>
<text transform="translate(503.00 320.60) rotate(-45)" font-size="5.50" fill="#333" stroke="#333" text-anchor="end">+Mab#9 2.5µg/mL</text>
<text x="277.60" y="359.10" font-size="11.0" fill="#000" stroke="#000" style="stroke-width:0.3px" font-weight="bold">H</text>
<line x1="296.40" y1="365.30" x2="296.40" y2="436.50" stroke="#262626" stroke-width="1.30"/>
<line x1="293.20" y1="365.80" x2="296.40" y2="365.80" stroke="#333" stroke-width="1.10"/>
<text x="291.30" y="367.40" font-size="6.00" fill="#333" stroke="#333" text-anchor="end" font-weight="normal" >0</text>
<line x1="293.20" y1="379.94" x2="296.40" y2="379.94" stroke="#333" stroke-width="1.10"/>
<text x="291.30" y="381.54" font-size="6.00" fill="#333" stroke="#333" text-anchor="end" font-weight="normal" >20</text>
<line x1="293.20" y1="394.08" x2="296.40" y2="394.08" stroke="#333" stroke-width="1.10"/>
<text x="291.30" y="395.68" font-size="6.00" fill="#333" stroke="#333" text-anchor="end" font-weight="normal" >40</text>
<line x1="293.20" y1="408.22" x2="296.40" y2="408.22" stroke="#333" stroke-width="1.10"/>
<text x="291.30" y="409.82" font-size="6.00" fill="#333" stroke="#333" text-anchor="end" font-weight="normal" >60</text>
<line x1="293.20" y1="422.36" x2="296.40" y2="422.36" stroke="#333" stroke-width="1.10"/>
<text x="291.30" y="423.96" font-size="6.00" fill="#333" stroke="#333" text-anchor="end" font-weight="normal" >80</text>
<line x1="293.20" y1="436.50" x2="296.40" y2="436.50" stroke="#333" stroke-width="1.10"/>
<text x="291.30" y="438.10" font-size="6.00" fill="#333" stroke="#333" text-anchor="end" font-weight="normal" >100</text>
<line x1="295.70" y1="436.50" x2="311.40" y2="436.50" stroke="#2a2a2a" stroke-width="1.20"/>
<text x="296.70" y="443.10" font-size="5.60" fill="#222" stroke="#222" text-anchor="start" font-weight="normal" textLength="14.20" lengthAdjust="spacingAndGlyphs" >1 min</text>
<text transform="translate(279.90 401.45) rotate(-90)" font-size="7.00" fill="#222" stroke="#222" text-anchor="middle" textLength="32.80" lengthAdjust="spacingAndGlyphs">% Aggregation</text>
<path d="M296.5 366.2 L297.1 366.2 L297.7 366.3 L298.3 366.2 L298.9 366.2 L299.5 366.1 L300.2 366.2 L301.0 366.2 L301.7 366.5 L302.4 366.8 L302.8 367.2 L303.2 367.5 L303.6 368.0 L304.1 368.8 L304.4 369.5 L304.7 370.1 L305.0 370.7 L305.3 371.2 L305.6 371.9 L305.9 372.6 L306.2 373.2 L306.5 373.8 L306.8 374.3 L307.1 375.1 L307.4 375.7 L307.7 376.1 L308.0 376.8 L308.2 377.2 L308.5 377.7 L308.8 378.4 L309.1 379.1 L309.4 379.6 L309.6 380.1 L309.9 381.1 L310.2 381.5 L310.5 381.7 L310.8 382.2 L311.2 383.3 L311.5 384.1 L311.8 384.5 L312.1 385.1 L312.5 385.9 L312.8 386.3 L313.2 386.3 L313.6 387.2 L314.0 387.8 L314.3 388.5 L314.6 388.5 L315.0 389.5 L315.3 390.2 L315.7 390.2 L316.1 391.2 L316.4 391.4 L316.8 392.3 L317.2 392.6 L317.6 393.7 L318.0 393.5 L318.4 393.4 L319.1 394.2 L319.7 395.5 L320.4 395.2 L321.0 396.4 L321.7 396.4 L322.3 396.4 L323.0 396.8 L323.6 397.6 L324.3 397.5 L325.0 397.6 L325.6 397.9 L326.2 398.3 L326.9 398.4 L327.5 399.0 L328.2 398.9 L328.9 399.0 L329.5 399.1 L330.0 399.8 L330.5 399.7 L331.1 400.0 L331.6 400.2 L332.1 400.8 L332.6 401.8 L333.1 401.6 L333.7 401.6 L334.2 402.2 L334.7 402.5 L335.2 402.3 L335.7 403.8 L336.2 403.7 L336.7 404.8 L337.2 404.7 L337.8 404.5 L338.3 406.0 L338.8 405.3 L339.3 405.8 L339.8 406.3 L340.2 406.8 L340.7 407.2 L341.1 408.8 L341.5 408.3 L342.0 409.4 L342.4 409.4 L342.8 410.2 L343.3 410.5 L343.7 411.4 L344.1 411.9 L344.6 413.0 L345.0 413.9 L345.4 413.3 L345.8 414.1 L346.3 414.8 L346.7 415.8 L347.1 415.0 L347.5 416.3 L347.9 416.4 L348.3 416.9 L348.8 417.6 L349.2 418.0 L349.7 418.0 L350.2 418.9 L350.7 418.9 L351.3 418.8 L351.8 419.0 L352.4 419.3 L353.0 420.4 L353.5 420.7 L354.1 419.9 L354.7 420.7 L355.3 420.2 L355.9 420.4 L356.5 421.5 L357.1 421.6 L357.7 421.6 L358.2 421.9 L358.7 422.1 L359.2 422.3 L359.8 422.4 L360.3 423.5 L360.8 422.5 L361.4 423.5 L362.0 423.1 L362.6 423.6 L363.3 423.3 L364.0 423.6 L365.0 424.5 L366.0 423.8 L367.0 424.5 L368.1 424.9 L368.7 424.9 L369.3 424.4 L369.9 424.9 L370.5 424.8 L371.2 425.5 L371.9 425.7 L372.6 425.4 L373.4 425.7 L374.2 425.3 L375.0 426.2 L376.0 425.9 L377.1 426.3 L377.7 425.3 L378.2 426.1 L378.8 426.1 L379.4 426.2 L380.0 426.6 L380.7 425.7 L381.3 425.6 L382.0 426.3 L382.6 425.9 L383.3 427.0 L383.9 426.9 L384.6 426.4 L385.3 426.9 L385.9 426.7 L386.6 427.2 L387.3 426.7 L388.0 426.3 L388.6 427.5 L389.3 426.5 L390.0 426.4 L390.6 427.3 L391.3 427.2 L391.9 427.6 L392.6 426.7 L393.2 427.8 L393.8 427.7 L394.4 427.5 L395.0 426.6 L395.7 427.7 L396.4 427.2 L397.1 426.9 L397.8 427.3 L398.5 428.2 L399.2 427.3 L400.0 427.6 L400.7 428.2 L401.4 428.0 L402.2 427.6 L402.9 427.6 L403.6 427.9 L404.3 427.9 L405.0 428.2 L405.7 428.2 L406.4 427.5 L407.0 428.5 L407.6 428.5 L408.2 428.1 L408.8 427.6 L409.4 428.1 L410.0 428.7 L410.9 427.9 L411.8 428.0 L412.5 428.6" fill="none" stroke="#111111" stroke-width="1.40" stroke-linejoin="round" stroke-linecap="round" opacity="1"/>
<path d="M308.8 378.4 L309.1 379.1 L309.4 379.6 L309.6 380.1 L309.9 381.1 L310.2 381.5 L310.5 381.7 L310.8 382.2 L311.2 383.3 L311.5 384.1 L311.8 384.5 L312.1 385.1 L312.5 385.9 L312.8 386.3 L313.2 386.3 L313.6 387.2 L314.0 387.8 L314.3 388.5 L314.6 388.5 L315.0 389.5 L315.3 390.2 L315.7 390.2 L316.1 391.2 L316.4 391.4 L316.8 392.3 L317.2 392.6 L317.6 393.7 L318.0 393.5 L318.4 393.4 L319.1 394.2 L319.7 395.5 L320.4 395.2 L321.0 396.4 L321.7 396.4 L322.3 396.4 L323.0 396.8 L323.6 397.6 L324.3 397.5 L325.0 397.6 L325.6 397.9 L326.2 398.3 L326.9 398.4 L327.5 399.0 L328.2 398.9 L328.9 399.0 L329.5 399.1 L330.0 399.8 L330.5 399.7 L331.1 400.0 L331.6 400.2 L332.1 400.8 L332.6 401.8 L333.1 401.6 L333.7 401.6 L334.2 402.2 L334.7 402.5 L335.2 402.3 L335.7 403.8 L336.2 403.7 L336.7 404.8 L337.2 404.7 L337.8 404.5 L338.3 406.0 L338.8 405.3 L339.3 405.8 L339.8 406.3 L340.2 406.8 L340.7 407.2 L341.1 408.8 L341.5 408.3 L342.0 409.4 L342.4 409.4 L342.8 410.2 L343.3 410.5 L343.7 411.4 L344.1 411.9 L344.6 413.0 L345.0 413.9 L345.4 413.3 L345.8 414.1 L346.3 414.8 L346.7 415.8 L347.1 415.0 L347.5 416.3 L347.9 416.4 L348.3 416.9 L348.8 417.6 L349.2 418.0 L349.7 418.0 L350.2 418.9 L350.7 418.9 L351.3 418.8 L351.8 419.0 L352.4 419.3 L353.0 420.4 L353.5 420.7 L354.1 419.9 L354.7 420.7 L355.3 420.2 L355.9 420.4 L356.5 421.5 L357.1 421.6 L357.7 421.6 L358.2 421.9 L358.7 422.1 L359.2 422.3 L359.8 422.4 L360.3 423.5 L360.8 422.5 L361.4 423.5 L362.0 423.1 L362.6 423.6 L363.3 423.3 L364.0 423.6 L365.0 424.5 L366.0 423.8 L367.0 424.5 L368.1 424.9 L368.7 424.9 L369.3 424.4 L369.9 424.9 L370.5 424.8 L371.2 425.5 L371.9 425.7 L372.6 425.4 L373.4 425.7 L374.2 425.3 L375.0 426.2 L376.0 425.9 L377.1 426.3 L377.7 425.3 L378.2 426.1 L378.8 426.1 L379.4 426.2 L380.0 426.6 L380.7 425.7 L381.3 425.6 L382.0 426.3 L382.6 425.9 L383.3 427.0 L383.9 426.9 L384.6 426.4 L385.3 426.9 L385.9 426.7 L386.6 427.2 L387.3 426.7 L388.0 426.3 L388.6 427.5 L389.3 426.5 L390.0 426.4 L390.6 427.3 L391.3 427.2 L391.9 427.6 L392.6 426.7 L393.2 427.8 L393.8 427.7 L394.4 427.5 L395.0 426.6 L395.7 427.7 L396.4 427.2 L397.1 426.9 L397.8 427.3 L398.5 428.2 L399.2 427.3 L400.0 427.6 L400.7 428.2 L401.4 428.0 L402.2 427.6 L402.9 427.6 L403.6 427.9 L404.3 427.9 L405.0 428.2 L405.7 428.2 L406.4 427.5 L407.0 428.5 L407.6 428.5 L408.2 428.1 L408.8 427.6 L409.4 428.1 L410.0 428.7 L410.9 427.9 L411.8 428.0 L412.5 428.6" fill="none" stroke="#111111" stroke-width="1.80" stroke-linejoin="round" stroke-linecap="round" opacity="1"/>
<path d="M296.5 366.3 L297.5 366.3 L298.3 366.2 L299.0 366.2 L299.6 366.1 L300.1 366.1 L300.7 366.1 L301.5 366.1 L302.3 366.2 L302.9 366.3 L303.6 366.4 L304.2 366.7 L304.7 366.9 L305.2 367.5 L305.6 367.8 L305.9 368.3 L306.3 368.8 L306.7 369.3 L307.1 369.8 L307.5 370.3 L308.0 370.9 L308.4 371.4 L308.8 372.0 L309.2 372.5 L309.6 373.1 L310.1 373.6 L310.5 374.1 L311.0 374.7 L311.6 375.1 L312.2 375.5 L312.7 376.0 L313.4 376.3 L314.0 376.6 L314.5 377.0 L315.0 377.2 L315.6 377.4 L316.1 377.7 L316.8 377.8 L317.4 378.1 L318.0 378.2 L318.5 378.4 L319.1 378.4 L320.1 378.5 L321.2 378.6 L321.7 378.6 L322.3 378.6 L322.9 378.8 L323.5 378.8 L324.2 378.8 L324.9 378.7 L325.6 378.8 L326.3 378.7 L327.1 378.8 L327.8 378.9 L328.4 378.7 L328.9 378.7 L329.5 378.9 L330.5 378.8 L331.5 378.8 L332.5 378.8 L333.6 378.8 L334.7 378.7 L335.2 378.7 L335.8 378.7 L336.4 378.8 L337.0 378.7 L337.6 378.6 L338.2 378.6 L338.8 378.7 L339.5 378.7 L340.1 378.5 L340.8 378.5 L341.5 378.5 L342.2 378.5 L342.9 378.4 L343.6 378.5 L344.4 378.4 L345.1 378.4 L345.9 378.5 L346.7 378.3 L347.7 378.5 L348.8 378.4 L349.3 378.3 L349.9 378.3 L350.5 378.3 L351.1 378.2 L351.7 378.3 L352.3 378.2 L352.9 378.3 L353.5 378.2 L354.1 378.2 L354.8 378.3 L355.4 378.1 L356.0 378.2 L356.7 378.2 L357.4 378.2 L358.0 378.1 L358.7 378.1 L359.3 378.1 L360.0 378.1 L360.7 378.0 L361.3 378.0 L362.0 378.1 L362.7 378.0 L363.3 378.0 L364.0 378.0 L364.7 378.0 L365.3 377.9 L366.0 377.9 L366.6 377.9 L367.3 377.9 L367.9 377.8 L368.6 377.9 L369.2 377.8 L369.8 377.8 L370.4 377.7 L371.0 377.8 L371.6 377.7 L372.2 377.8 L372.8 377.6 L373.4 377.6 L373.9 377.6 L375.0 377.6 L375.7 377.6 L376.5 377.5 L377.2 377.6 L377.9 377.6 L378.6 377.4 L379.3 377.5 L380.0 377.3 L380.6 377.3 L381.3 377.3 L381.9 377.4 L382.6 377.4 L383.2 377.2 L383.8 377.3 L384.5 377.3 L385.1 377.2 L385.7 377.1 L386.3 377.1 L386.9 377.2 L387.5 377.1 L388.0 377.1 L388.6 377.0 L389.2 376.9 L389.8 377.0 L390.4 377.0 L390.9 376.8 L391.5 376.8 L392.1 376.9 L392.7 376.8 L393.3 376.7 L393.8 376.8 L394.4 376.7 L395.0 376.7 L395.7 376.7 L396.4 376.6 L397.1 376.6 L397.8 376.5 L398.5 376.5 L399.2 376.5 L400.0 376.4 L400.7 376.4 L401.4 376.3 L402.2 376.3 L402.9 376.2 L403.6 376.2 L404.3 376.1 L405.0 376.1 L405.7 376.0 L406.4 376.0 L407.0 376.0 L407.6 375.9 L408.2 375.9 L408.8 375.8 L409.4 375.8 L410.0 375.7 L410.9 375.7 L411.8 375.7 L412.5 375.7" fill="none" stroke="#cc2036" stroke-width="1.40" stroke-linejoin="round" stroke-linecap="round" opacity="1"/>
<path d="M296.5 366.5 L297.1 366.6 L297.8 366.8 L298.5 366.7 L299.2 366.5 L300.0 366.6 L300.8 366.9 L301.6 366.3 L302.5 366.6 L303.4 366.3 L304.3 366.8 L305.3 366.3 L306.4 366.7 L307.0 366.5 L307.5 366.7 L308.1 367.3 L308.7 366.6 L309.3 366.8 L309.9 367.2 L310.6 366.6 L311.2 366.7 L311.9 366.9 L312.5 367.1 L313.3 366.7 L314.0 366.8 L314.7 366.6 L315.4 366.8 L316.2 366.9 L317.0 367.1 L317.8 366.9 L318.6 367.1 L319.2 367.3 L319.8 366.9 L320.3 367.3 L320.9 367.3 L321.5 367.5 L322.1 367.3 L322.7 367.3 L323.3 367.3 L323.9 367.0 L324.6 367.5 L325.2 366.9 L325.9 367.0 L326.6 366.8 L327.2 367.2 L327.9 367.5 L328.6 367.3 L329.3 366.8 L330.0 367.5 L330.9 366.8 L331.8 366.9 L332.7 367.2 L333.7 366.8 L334.7 367.5 L335.8 367.4 L336.9 367.7 L337.4 367.4 L338.0 367.2 L338.5 367.0 L339.1 367.1 L339.7 367.4 L340.3 367.5 L340.9 367.0 L341.5 367.3 L342.1 367.4 L342.7 367.0 L343.3 367.4 L343.9 367.1 L344.6 367.1 L345.2 367.0 L345.8 367.7 L346.5 366.9 L347.1 367.1 L347.8 367.4 L348.5 367.3 L349.1 367.0 L349.8 367.3 L350.5 367.2 L351.1 367.3 L351.8 367.2 L352.5 367.0 L353.2 367.5 L353.9 367.1 L354.6 367.6 L355.3 367.1 L356.0 367.6 L356.7 367.1 L357.4 367.4 L358.1 367.7 L358.8 367.1 L359.5 367.6 L360.3 367.3 L361.0 366.8 L361.7 367.4 L362.4 367.2 L363.1 366.9 L363.9 367.6 L364.6 367.5 L365.3 367.7 L366.0 367.0 L366.8 367.2 L367.5 367.4 L368.2 367.2 L369.0 367.0 L369.7 367.2 L370.4 367.2 L371.2 367.3 L371.9 367.2 L372.6 367.2 L373.3 367.3 L374.1 367.5 L374.8 367.1 L375.5 367.3 L376.2 367.6 L377.0 367.5 L377.7 367.6 L378.4 367.7 L379.1 367.3 L379.8 367.6 L380.5 367.6 L381.3 367.2 L382.0 367.5 L382.7 367.3 L383.4 367.4 L384.1 367.0 L384.8 367.5 L385.4 367.1 L386.1 367.2 L386.8 367.3 L387.5 367.5 L388.2 367.7 L388.9 367.6 L389.5 367.4 L390.2 367.1 L390.8 367.3 L391.5 367.4 L392.1 367.2 L392.8 367.7 L393.4 367.1 L394.1 367.3 L394.7 367.7 L395.3 367.0 L395.9 367.2 L396.5 367.7 L397.1 367.7 L397.7 367.2 L398.3 367.5 L398.9 367.4 L399.5 366.9 L400.0 367.7 L400.6 367.6 L401.2 367.7 L402.2 367.0 L403.3 367.3 L404.3 367.6 L405.3 367.6 L406.3 367.6 L407.2 366.9 L408.1 367.5 L408.9 367.2 L409.7 367.0 L410.5 367.3 L411.2 366.9 L411.9 367.1 L412.5 367.2" fill="none" stroke="#1f5494" stroke-width="1.35" stroke-linejoin="round" stroke-linecap="round" opacity="1"/>
<line x1="301.60" y1="366.30" x2="301.60" y2="359.10" stroke="#111111" stroke-width="1.50"/>
<text x="411.30" y="373.50" font-size="5.80" fill="#2f67a6" stroke="#2f67a6" text-anchor="end" font-weight="normal" >Vehicle</text>
<text x="412.50" y="385.25" font-size="6.20" fill="#cc2036" stroke="#cc2036" text-anchor="end" font-weight="normal" >ADP 10 µM + Mab#9 2.5 µg/ml</text>
<text x="411.30" y="423.50" font-size="6.10" fill="#222" stroke="#222" text-anchor="end" font-weight="normal" >ADP 10 µM</text>
<line x1="448.10" y1="356.30" x2="448.10" y2="421.40" stroke="#5c5c5c" stroke-width="2.00"/>
<line x1="444.90" y1="420.90" x2="448.10" y2="420.90" stroke="#333" stroke-width="1.10"/>
<text x="442.60" y="422.80" font-size="5.90" fill="#333" stroke="#333" text-anchor="end" font-weight="normal" >0</text>
<line x1="444.90" y1="408.04" x2="448.10" y2="408.04" stroke="#333" stroke-width="1.10"/>
<text x="442.60" y="409.94" font-size="5.90" fill="#333" stroke="#333" text-anchor="end" font-weight="normal" >20</text>
<line x1="444.90" y1="395.18" x2="448.10" y2="395.18" stroke="#333" stroke-width="1.10"/>
<text x="442.60" y="397.08" font-size="5.90" fill="#333" stroke="#333" text-anchor="end" font-weight="normal" >40</text>
<line x1="444.90" y1="382.32" x2="448.10" y2="382.32" stroke="#333" stroke-width="1.10"/>
<text x="442.60" y="384.22" font-size="5.90" fill="#333" stroke="#333" text-anchor="end" font-weight="normal" >60</text>
<line x1="444.90" y1="369.46" x2="448.10" y2="369.46" stroke="#333" stroke-width="1.10"/>
<text x="442.60" y="371.36" font-size="5.90" fill="#333" stroke="#333" text-anchor="end" font-weight="normal" >80</text>
<line x1="444.90" y1="356.60" x2="448.10" y2="356.60" stroke="#333" stroke-width="1.10"/>
<text x="442.60" y="358.50" font-size="5.90" fill="#333" stroke="#333" text-anchor="end" font-weight="normal" >100</text>
<line x1="447.50" y1="420.90" x2="512.30" y2="420.90" stroke="#151515" stroke-width="1.30"/>
<line x1="461.00" y1="420.90" x2="461.00" y2="424.20" stroke="#333" stroke-width="1.00"/>
<line x1="480.30" y1="420.90" x2="480.30" y2="424.20" stroke="#333" stroke-width="1.00"/>
<line x1="499.60" y1="420.90" x2="499.60" y2="424.20" stroke="#333" stroke-width="1.00"/>
<text transform="translate(431.40 390.60) rotate(-90)" font-size="7.00" fill="#222" stroke="#222" text-anchor="middle" textLength="32.80" lengthAdjust="spacingAndGlyphs">% Aggregation</text>
<path d="M454.80 420.90 L454.80 416.08 L467.20 416.08 L467.20 420.90" fill="none" stroke="#2a69a8" stroke-width="1.10" stroke-linejoin="miter"/>
<circle cx="461.00" cy="413.18" r="0.95" fill="#2a69a8"/>
<circle cx="459.00" cy="415.11" r="0.95" fill="#2a69a8"/>
<circle cx="462.60" cy="414.79" r="0.95" fill="#2a69a8"/>
<circle cx="459.30" cy="417.94" r="0.95" fill="#2a69a8"/>
<circle cx="462.60" cy="417.23" r="0.95" fill="#2a69a8"/>
<path d="M474.30 420.90 L474.30 368.50 L486.30 368.50 L486.30 420.90" fill="none" stroke="#111111" stroke-width="1.10" stroke-linejoin="miter"/>
<line x1="480.30" y1="368.50" x2="480.30" y2="362.77" stroke="#111111" stroke-width="1.05"/>
<line x1="478.05" y1="362.77" x2="482.55" y2="362.77" stroke="#111111" stroke-width="1.05"/>
<line x1="480.30" y1="368.50" x2="480.30" y2="375.89" stroke="#111111" stroke-width="1.05"/>
<line x1="478.05" y1="375.89" x2="482.55" y2="375.89" stroke="#111111" stroke-width="1.05"/>
<circle cx="480.30" cy="363.67" r="0.95" fill="#111111"/>
<circle cx="478.30" cy="365.60" r="0.95" fill="#111111"/>
<circle cx="482.30" cy="365.60" r="0.95" fill="#111111"/>
<circle cx="480.30" cy="373.64" r="0.95" fill="#111111"/>
<circle cx="480.30" cy="375.89" r="0.95" fill="#111111"/>
<path d="M493.30 420.90 L493.30 415.76 L505.90 415.76 L505.90 420.90" fill="none" stroke="#cc2036" stroke-width="1.10" stroke-linejoin="miter"/>
<line x1="499.60" y1="415.76" x2="499.60" y2="378.46" stroke="#cc2036" stroke-width="1.05"/>
<line x1="497.35" y1="378.46" x2="501.85" y2="378.46" stroke="#cc2036" stroke-width="1.05"/>
<line x1="499.60" y1="415.76" x2="499.60" y2="420.90" stroke="#cc2036" stroke-width="1.05"/>
<line x1="497.35" y1="420.90" x2="501.85" y2="420.90" stroke="#cc2036" stroke-width="1.05"/>
<circle cx="499.60" cy="375.25" r="0.95" fill="#cc2036"/>
<circle cx="499.60" cy="381.68" r="0.95" fill="#cc2036"/>
<circle cx="499.60" cy="418.97" r="0.95" fill="#cc2036"/>
<circle cx="497.60" cy="419.61" r="0.95" fill="#cc2036"/>
<circle cx="501.60" cy="419.29" r="0.95" fill="#cc2036"/>
<text transform="translate(461.60 428.00) rotate(-45)" font-size="5.50" fill="#333" stroke="#333" text-anchor="end">Vehicle</text>
<text transform="translate(483.70 428.00) rotate(-45)" font-size="5.50" fill="#333" stroke="#333" text-anchor="end">ADP 10µM</text>
<text transform="translate(503.00 428.00) rotate(-45)" font-size="5.50" fill="#333" stroke="#333" text-anchor="end">+Mab#9 2.5µg/mL</text>
<circle cx="32.70" cy="26.20" r="0.6" fill="#222"/>
<circle cx="32.30" cy="138.50" r="0.6" fill="#222"/>
<circle cx="32.50" cy="255.00" r="0.6" fill="#222"/>
<circle cx="30.80" cy="370.40" r="0.6" fill="#222"/>
<circle cx="300.90" cy="25.90" r="0.6" fill="#222"/>
<circle cx="310.00" cy="137.50" r="0.6" fill="#222"/>
<circle cx="307.40" cy="254.70" r="0.6" fill="#222"/>
<circle cx="301.40" cy="368.90" r="0.6" fill="#222"/>
<rect x="0.00" y="0.00" width="520.00" height="1.10" fill="#141010"/>
<rect x="0.00" y="0.00" width="1.00" height="464.00" fill="#141010"/>
<rect x="518.80" y="0.00" width="1.20" height="464.00" fill="#141010"/>
<rect x="0.00" y="462.80" width="520.00" height="1.20" fill="#141010"/>
</svg>
</body></html>
